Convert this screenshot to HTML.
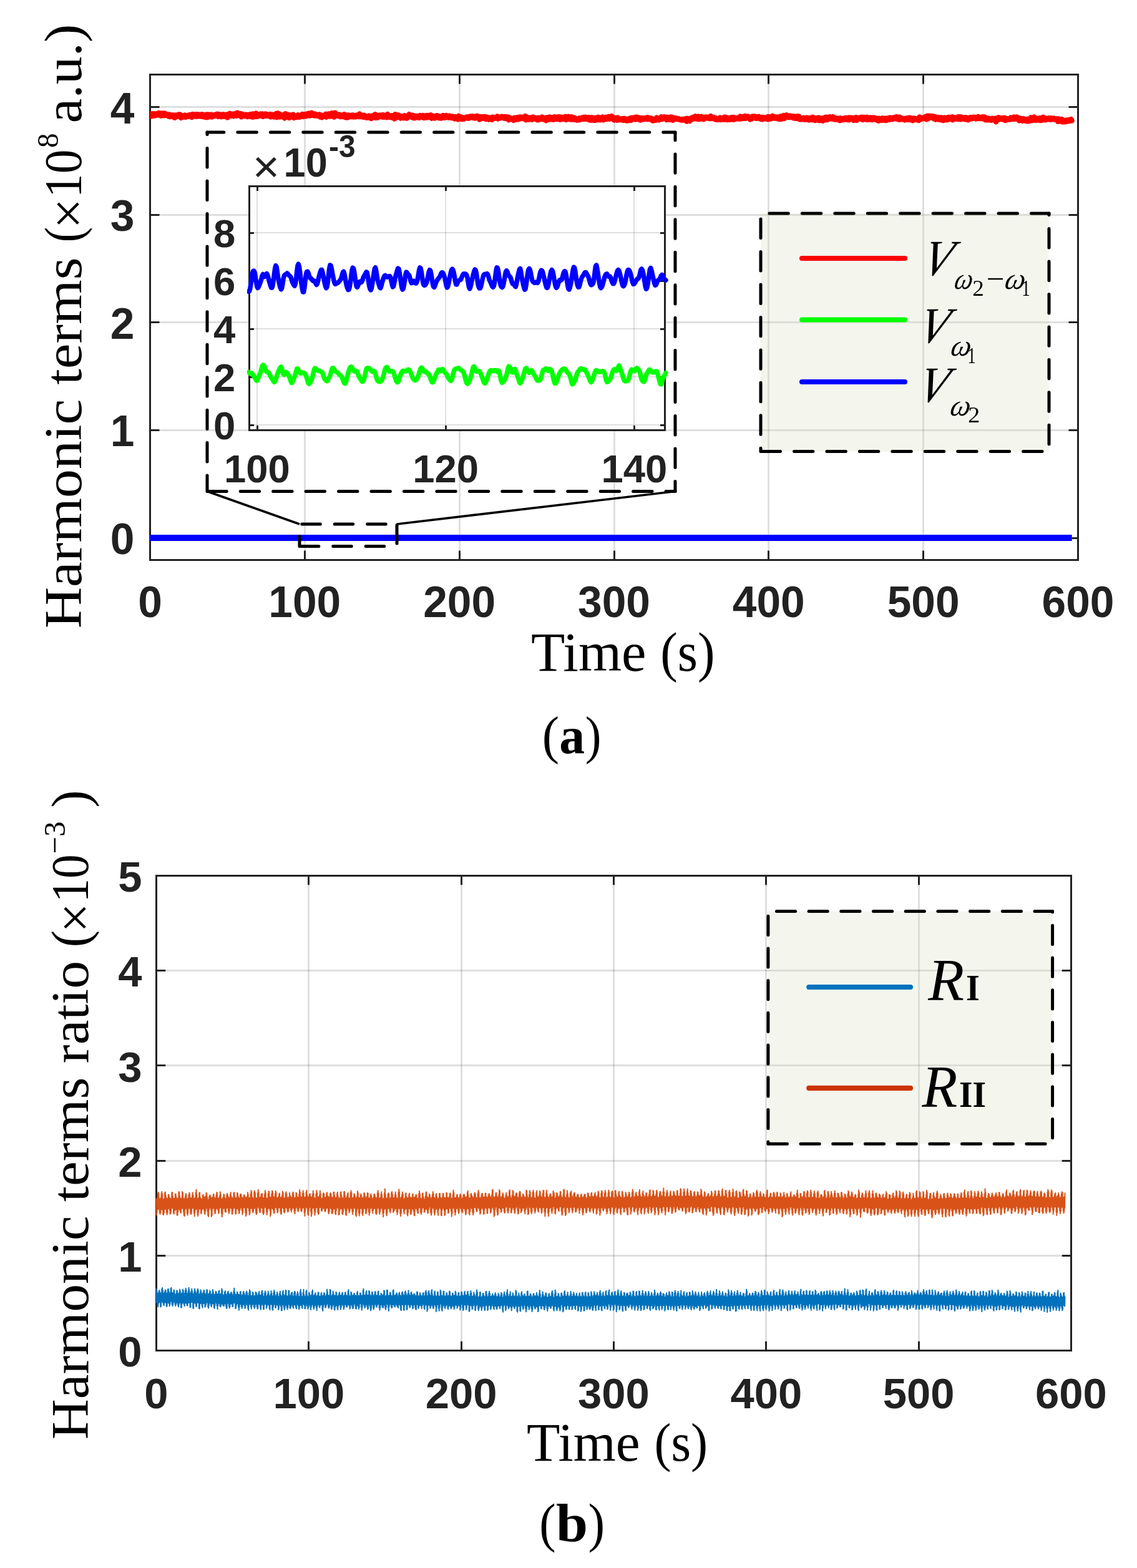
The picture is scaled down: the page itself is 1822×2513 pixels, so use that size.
<!DOCTYPE html><html><head><meta charset="utf-8"><title>Harmonic terms</title><style>html,body{margin:0;padding:0;background:#fff;}svg{display:block;}</style></head><body><svg width="1822" height="2513" viewBox="0 0 1822 2513">
<rect width="1822" height="2513" fill="#fff"/>
<path d="M488.5 119.5V897.5M736.5 119.5V897.5M984.5 119.5V897.5M1231.5 119.5V897.5M1479.5 119.5V897.5" stroke="#262626" stroke-opacity="0.15" stroke-width="3" fill="none"/><path d="M240.5 862.5H1727.5M240.5 689.5H1727.5M240.5 516.5H1727.5M240.5 344.5H1727.5M240.5 171.5H1727.5" stroke="#262626" stroke-opacity="0.15" stroke-width="3" fill="none"/>
<path d="M488.5 897.5v-15M488.5 119.5v15M736.5 897.5v-15M736.5 119.5v15M984.5 897.5v-15M984.5 119.5v15M1231.5 897.5v-15M1231.5 119.5v15M1479.5 897.5v-15M1479.5 119.5v15M240.5 862.5h15M1727.5 862.5h-15M240.5 689.5h15M1727.5 689.5h-15M240.5 516.5h15M1727.5 516.5h-15M240.5 344.5h15M1727.5 344.5h-15M240.5 171.5h15M1727.5 171.5h-15" stroke="#222222" stroke-width="3" fill="none"/>
<rect x="240.5" y="119.5" width="1487.0" height="778.0" fill="none" stroke="#222222" stroke-width="3"/>
<g id="tla" font-family="Liberation Sans, Arial, sans-serif" font-weight="bold" font-size="69.5" fill="#222222"><text x="215.5" y="888.0" text-anchor="end">0</text><text x="215.5" y="715.4" text-anchor="end">1</text><text x="215.5" y="542.8" text-anchor="end">2</text><text x="215.5" y="370.2" text-anchor="end">3</text><text x="215.5" y="197.6" text-anchor="end">4</text><text x="240.5" y="989.1" text-anchor="middle">0</text><text x="488.3" y="989.1" text-anchor="middle">100</text><text x="736.2" y="989.1" text-anchor="middle">200</text><text x="984.0" y="989.1" text-anchor="middle">300</text><text x="1231.8" y="989.1" text-anchor="middle">400</text><text x="1479.7" y="989.1" text-anchor="middle">500</text><text x="1727.5" y="989.1" text-anchor="middle">600</text></g>
<clipPath id="ca"><rect x="240.5" y="119.5" width="1487.0" height="778.0"/></clipPath>
<g clip-path="url(#ca)"><polyline points="240.5,186.5 241.7,182.4 243.0,186.2 244.2,182.2 245.5,185.4 246.7,182.3 247.9,185.6 249.2,182.8 250.4,184.7 251.7,182.1 252.9,184.4 254.1,181.0 255.4,184.0 256.6,181.6 257.8,185.6 259.1,181.5 260.3,185.0 261.6,181.6 262.8,185.2 264.0,181.6 265.3,184.8 266.5,182.8 267.8,185.3 269.0,183.4 270.2,186.5 271.5,183.6 272.7,187.1 274.0,184.3 275.2,186.4 276.4,184.5 277.7,187.5 278.9,184.5 280.2,188.8 281.4,184.5 282.6,186.9 283.9,184.4 285.1,186.4 286.3,183.4 287.6,187.0 288.8,183.6 290.1,188.9 291.3,185.2 292.5,187.3 293.8,185.5 295.0,187.4 296.3,184.6 297.5,187.8 298.7,185.3 300.0,186.6 301.2,185.0 302.5,186.8 303.7,184.0 304.9,186.3 306.2,183.9 307.4,188.0 308.7,183.1 309.9,186.5 311.1,184.1 312.4,185.0 313.6,183.2 314.9,186.8 316.1,183.3 317.3,186.3 318.6,183.4 319.8,186.2 321.0,184.1 322.3,186.6 323.5,183.2 324.8,186.9 326.0,183.8 327.2,187.6 328.5,184.7 329.7,187.9 331.0,183.6 332.2,188.1 333.4,183.6 334.7,187.2 335.9,183.9 337.2,187.0 338.4,183.6 339.6,187.4 340.9,184.7 342.1,186.2 343.4,184.2 344.6,186.0 345.8,183.4 347.1,184.3 348.3,182.7 349.5,186.8 350.8,183.2 352.0,186.0 353.3,183.6 354.5,187.2 355.7,184.6 357.0,185.9 358.2,183.3 359.5,186.8 360.7,184.9 361.9,186.1 363.2,183.5 364.4,188.4 365.7,183.6 366.9,185.6 368.1,181.8 369.4,185.8 370.6,184.4 371.9,185.7 373.1,182.7 374.3,186.3 375.6,184.3 376.8,184.9 378.0,181.5 379.3,185.7 380.5,180.7 381.8,185.0 383.0,182.4 384.2,185.1 385.5,182.1 386.7,187.3 388.0,182.8 389.2,185.6 390.4,184.4 391.7,186.1 392.9,183.7 394.2,186.1 395.4,183.7 396.6,187.1 397.9,184.9 399.1,186.1 400.4,183.2 401.6,187.0 402.8,183.3 404.1,187.4 405.3,182.5 406.5,187.4 407.8,184.1 409.0,185.7 410.3,181.5 411.5,186.8 412.7,183.0 414.0,186.4 415.2,183.7 416.5,185.1 417.7,182.5 418.9,185.7 420.2,182.4 421.4,186.8 422.7,183.4 423.9,185.2 425.1,182.5 426.4,185.8 427.6,183.2 428.9,185.6 430.1,183.8 431.3,186.3 432.6,183.1 433.8,187.4 435.0,183.5 436.3,185.6 437.5,183.7 438.8,187.4 440.0,184.7 441.2,186.1 442.5,182.1 443.7,188.1 445.0,181.5 446.2,186.6 447.4,182.4 448.7,187.5 449.9,184.1 451.2,186.5 452.4,184.2 453.6,187.6 454.9,184.5 456.1,189.4 457.4,182.3 458.6,187.3 459.8,184.2 461.1,188.0 462.3,183.8 463.6,188.9 464.8,184.4 466.0,187.0 467.3,185.2 468.5,187.5 469.7,183.6 471.0,188.9 472.2,187.1 473.5,188.0 474.7,186.2 475.9,187.7 477.2,184.3 478.4,187.7 479.7,185.3 480.9,187.6 482.1,184.4 483.4,185.9 484.6,182.9 485.9,186.9 487.1,184.0 488.3,186.2 489.6,183.0 490.8,186.2 492.1,182.4 493.3,184.9 494.5,181.7 495.8,185.5 497.0,181.8 498.2,185.3 499.5,180.8 500.7,184.8 502.0,182.3 503.2,185.4 504.4,182.5 505.7,185.5 506.9,183.6 508.2,185.5 509.4,183.9 510.6,185.6 511.9,183.4 513.1,187.6 514.4,184.4 515.6,188.2 516.8,184.9 518.1,186.7 519.3,185.1 520.6,186.2 521.8,182.8 523.0,187.7 524.3,183.6 525.5,186.4 526.7,182.4 528.0,186.4 529.2,183.2 530.5,186.4 531.7,181.2 532.9,185.2 534.2,182.9 535.4,187.6 536.7,180.7 537.9,186.2 539.1,182.6 540.4,185.0 541.6,184.6 542.9,186.1 544.1,183.5 545.3,187.1 546.6,185.2 547.8,187.0 549.1,184.5 550.3,186.2 551.5,183.2 552.8,188.1 554.0,184.9 555.2,188.4 556.5,184.4 557.7,188.2 559.0,184.6 560.2,186.4 561.4,185.5 562.7,187.1 563.9,184.6 565.2,187.2 566.4,184.6 567.6,187.4 568.9,185.8 570.1,187.2 571.4,184.6 572.6,186.3 573.8,184.9 575.1,187.1 576.3,182.5 577.6,187.1 578.8,185.4 580.0,187.2 581.3,184.8 582.5,187.7 583.7,184.7 585.0,188.1 586.2,186.0 587.5,188.8 588.7,186.5 589.9,187.8 591.2,185.6 592.4,188.8 593.7,187.0 594.9,190.0 596.1,185.6 597.4,188.7 598.6,186.3 599.9,187.5 601.1,183.2 602.3,188.9 603.6,184.9 604.8,188.6 606.1,185.8 607.3,187.2 608.5,184.4 609.8,187.1 611.0,184.5 612.2,187.5 613.5,184.1 614.7,187.8 616.0,184.8 617.2,187.4 618.4,184.4 619.7,188.3 620.9,183.0 622.2,187.5 623.4,185.1 624.6,187.7 625.9,185.4 627.1,188.3 628.4,185.3 629.6,189.0 630.8,185.4 632.1,190.4 633.3,183.3 634.6,188.8 635.8,185.8 637.0,187.1 638.3,184.3 639.5,187.9 640.8,185.6 642.0,189.4 643.2,186.3 644.5,187.9 645.7,186.5 646.9,189.2 648.2,185.3 649.4,188.9 650.7,186.6 651.9,189.5 653.1,186.0 654.4,187.6 655.6,183.1 656.9,187.0 658.1,184.9 659.3,187.7 660.6,184.7 661.8,188.8 663.1,185.3 664.3,189.2 665.5,186.0 666.8,188.5 668.0,186.0 669.3,188.3 670.5,186.2 671.7,188.9 673.0,185.0 674.2,187.0 675.4,186.0 676.7,187.3 677.9,185.0 679.2,189.1 680.4,185.6 681.6,187.6 682.9,185.2 684.1,188.5 685.4,184.9 686.6,187.7 687.8,185.9 689.1,188.0 690.3,184.2 691.6,189.7 692.8,185.6 694.0,188.1 695.3,186.1 696.5,189.4 697.8,186.1 699.0,188.0 700.2,185.2 701.5,188.5 702.7,186.1 703.9,189.2 705.2,186.8 706.4,189.5 707.7,186.4 708.9,188.7 710.1,185.0 711.4,188.8 712.6,185.9 713.9,188.4 715.1,184.9 716.3,187.6 717.6,186.5 718.8,188.6 720.1,185.6 721.3,188.6 722.5,186.3 723.8,189.1 725.0,186.5 726.3,189.1 727.5,187.1 728.7,190.5 730.0,187.3 731.2,189.3 732.4,188.4 733.7,191.3 734.9,185.8 736.2,189.6 737.4,187.1 738.6,190.7 739.9,187.8 741.1,191.1 742.4,188.4 743.6,190.5 744.8,188.5 746.1,189.6 747.3,187.5 748.6,189.2 749.8,187.4 751.0,189.8 752.3,186.8 753.5,188.5 754.8,186.4 756.0,188.2 757.2,186.2 758.5,189.0 759.7,187.4 761.0,189.4 762.2,186.4 763.4,188.1 764.7,185.8 765.9,189.4 767.1,186.9 768.4,191.5 769.6,187.2 770.9,190.2 772.1,187.8 773.3,189.8 774.6,187.1 775.8,189.6 777.1,187.1 778.3,190.9 779.5,187.6 780.8,190.8 782.0,188.3 783.3,191.5 784.5,188.6 785.7,190.5 787.0,188.7 788.2,191.9 789.5,187.5 790.7,190.2 791.9,188.0 793.2,189.3 794.4,188.5 795.6,189.6 796.9,186.5 798.1,190.5 799.4,187.8 800.6,189.0 801.8,187.6 803.1,189.1 804.3,186.7 805.6,188.2 806.8,187.3 808.0,189.6 809.3,186.9 810.5,190.0 811.8,187.6 813.0,190.6 814.2,187.5 815.5,192.2 816.7,188.6 818.0,191.1 819.2,189.4 820.4,190.9 821.7,189.7 822.9,192.9 824.1,188.8 825.4,192.0 826.6,188.7 827.9,191.0 829.1,188.2 830.3,191.5 831.6,187.7 832.8,190.4 834.1,187.5 835.3,190.2 836.5,188.3 837.8,189.6 839.0,187.5 840.3,190.7 841.5,186.1 842.7,192.3 844.0,187.3 845.2,191.4 846.5,189.1 847.7,191.5 848.9,188.4 850.2,191.3 851.4,188.4 852.6,191.7 853.9,187.4 855.1,190.4 856.4,188.3 857.6,190.4 858.8,189.3 860.1,191.9 861.3,189.0 862.6,192.3 863.8,188.7 865.0,191.2 866.3,189.6 867.5,191.1 868.8,187.4 870.0,191.1 871.2,188.7 872.5,191.8 873.7,189.0 875.0,193.2 876.2,188.4 877.4,191.2 878.7,187.9 879.9,191.7 881.1,187.6 882.4,190.4 883.6,188.2 884.9,191.5 886.1,188.3 887.3,191.8 888.6,187.3 889.8,190.3 891.1,187.9 892.3,191.0 893.5,187.4 894.8,190.8 896.0,187.3 897.3,191.8 898.5,187.4 899.7,190.7 901.0,188.3 902.2,190.9 903.5,187.8 904.7,190.1 905.9,186.8 907.2,192.0 908.4,187.7 909.6,190.9 910.9,186.8 912.1,191.0 913.4,188.9 914.6,191.6 915.8,187.3 917.1,191.5 918.3,188.1 919.6,191.7 920.8,188.8 922.0,191.8 923.3,190.2 924.5,192.6 925.8,190.2 927.0,192.3 928.2,189.3 929.5,191.9 930.7,189.5 932.0,190.0 933.2,188.4 934.4,191.1 935.7,187.8 936.9,190.8 938.2,187.7 939.4,190.3 940.6,189.0 941.9,191.3 943.1,188.1 944.3,192.1 945.6,188.7 946.8,192.7 948.1,188.2 949.3,191.5 950.5,190.1 951.8,192.9 953.0,188.9 954.3,192.8 955.5,190.2 956.7,191.0 958.0,187.8 959.2,191.9 960.5,188.5 961.7,192.2 962.9,189.3 964.2,191.1 965.4,187.6 966.7,192.3 967.9,189.1 969.1,189.9 970.4,187.8 971.6,191.1 972.8,188.0 974.1,190.5 975.3,186.9 976.6,190.7 977.8,187.0 979.0,189.2 980.3,186.1 981.5,189.9 982.8,188.8 984.0,192.6 985.2,188.8 986.5,191.8 987.7,189.0 989.0,192.7 990.2,188.6 991.4,192.3 992.7,190.4 993.9,192.1 995.2,190.7 996.4,192.3 997.6,190.0 998.9,192.9 1000.1,189.8 1001.3,191.9 1002.6,191.1 1003.8,193.5 1005.1,190.7 1006.3,193.3 1007.5,190.4 1008.8,192.7 1010.0,189.2 1011.3,192.8 1012.5,188.7 1013.7,191.5 1015.0,188.7 1016.2,191.0 1017.5,188.1 1018.7,191.6 1019.9,187.5 1021.2,190.5 1022.4,188.2 1023.7,191.5 1024.9,188.7 1026.1,192.4 1027.4,189.5 1028.6,191.4 1029.8,189.1 1031.1,191.2 1032.3,189.2 1033.6,191.0 1034.8,189.3 1036.0,190.9 1037.3,188.2 1038.5,191.3 1039.8,188.8 1041.0,190.3 1042.2,189.2 1043.5,191.9 1044.7,190.0 1046.0,193.5 1047.2,191.5 1048.4,193.3 1049.7,191.1 1050.9,192.6 1052.2,188.5 1053.4,192.0 1054.6,189.4 1055.9,192.4 1057.1,189.3 1058.3,191.1 1059.6,187.2 1060.8,191.1 1062.1,188.3 1063.3,189.6 1064.5,187.2 1065.8,189.9 1067.0,188.1 1068.3,192.1 1069.5,187.8 1070.7,190.5 1072.0,188.6 1073.2,191.8 1074.5,187.4 1075.7,191.1 1076.9,187.8 1078.2,192.8 1079.4,188.9 1080.7,191.4 1081.9,188.9 1083.1,189.7 1084.4,189.7 1085.6,191.3 1086.9,189.9 1088.1,191.3 1089.3,191.4 1090.6,192.4 1091.8,191.1 1093.0,192.4 1094.3,190.9 1095.5,192.5 1096.8,191.1 1098.0,192.7 1099.2,190.1 1100.5,194.6 1101.7,189.8 1103.0,192.5 1104.2,190.7 1105.4,193.9 1106.7,189.5 1107.9,190.3 1109.2,188.4 1110.4,191.0 1111.6,187.6 1112.9,189.9 1114.1,186.3 1115.4,190.6 1116.6,187.9 1117.8,190.7 1119.1,186.5 1120.3,191.1 1121.5,188.7 1122.8,190.5 1124.0,186.8 1125.3,190.6 1126.5,188.4 1127.7,191.2 1129.0,187.9 1130.2,189.4 1131.5,187.4 1132.7,189.2 1133.9,187.8 1135.2,189.7 1136.4,188.1 1137.7,190.2 1138.9,186.0 1140.1,189.9 1141.4,188.0 1142.6,190.0 1143.9,187.9 1145.1,190.9 1146.3,188.9 1147.6,191.8 1148.8,190.4 1150.0,191.9 1151.3,190.0 1152.5,191.6 1153.8,188.4 1155.0,192.0 1156.2,189.9 1157.5,191.1 1158.7,188.7 1160.0,191.7 1161.2,187.6 1162.4,190.8 1163.7,188.0 1164.9,192.1 1166.2,189.2 1167.4,191.8 1168.6,189.2 1169.9,191.7 1171.1,188.4 1172.4,190.5 1173.6,188.1 1174.8,191.8 1176.1,188.0 1177.3,191.3 1178.5,189.4 1179.8,190.6 1181.0,188.9 1182.3,190.3 1183.5,188.7 1184.7,190.7 1186.0,186.6 1187.2,190.5 1188.5,187.3 1189.7,190.1 1190.9,187.6 1192.2,189.8 1193.4,185.9 1194.7,189.7 1195.9,187.0 1197.1,188.4 1198.4,186.5 1199.6,188.8 1200.9,187.8 1202.1,191.4 1203.3,187.4 1204.6,190.6 1205.8,186.6 1207.0,188.7 1208.3,186.3 1209.5,189.0 1210.8,187.1 1212.0,189.9 1213.2,187.2 1214.5,189.6 1215.7,186.7 1217.0,189.1 1218.2,188.1 1219.4,191.0 1220.7,187.9 1221.9,191.3 1223.2,188.2 1224.4,189.7 1225.6,188.5 1226.9,190.5 1228.1,188.5 1229.4,190.9 1230.6,186.9 1231.8,190.9 1233.1,187.8 1234.3,190.7 1235.6,186.9 1236.8,189.9 1238.0,185.8 1239.3,189.0 1240.5,186.9 1241.7,189.6 1243.0,187.5 1244.2,188.7 1245.5,187.5 1246.7,190.5 1247.9,187.4 1249.2,191.0 1250.4,186.4 1251.7,190.9 1252.9,188.2 1254.1,190.0 1255.4,185.1 1256.6,190.1 1257.9,186.9 1259.1,188.2 1260.3,184.2 1261.6,187.9 1262.8,186.0 1264.1,188.1 1265.3,185.4 1266.5,187.9 1267.8,185.9 1269.0,188.1 1270.2,186.3 1271.5,189.2 1272.7,186.5 1274.0,189.7 1275.2,187.1 1276.4,189.8 1277.7,186.3 1278.9,189.0 1280.2,186.4 1281.4,191.3 1282.6,189.0 1283.9,191.4 1285.1,189.4 1286.4,191.0 1287.6,188.7 1288.8,191.7 1290.1,189.5 1291.3,191.6 1292.6,188.6 1293.8,191.6 1295.0,188.9 1296.3,192.5 1297.5,189.2 1298.7,190.4 1300.0,188.4 1301.2,192.0 1302.5,187.7 1303.7,192.1 1304.9,188.7 1306.2,193.0 1307.4,189.4 1308.7,190.9 1309.9,188.8 1311.1,192.8 1312.4,188.6 1313.6,193.2 1314.9,189.5 1316.1,192.8 1317.3,189.5 1318.6,193.7 1319.8,189.2 1321.1,191.7 1322.3,187.9 1323.5,191.9 1324.8,187.8 1326.0,192.0 1327.2,188.2 1328.5,190.4 1329.7,187.2 1331.0,190.3 1332.2,188.3 1333.4,190.6 1334.7,187.2 1335.9,191.1 1337.2,188.6 1338.4,191.7 1339.6,189.5 1340.9,190.7 1342.1,190.0 1343.4,192.2 1344.6,189.6 1345.8,193.3 1347.1,189.2 1348.3,192.6 1349.6,191.1 1350.8,192.0 1352.0,189.7 1353.3,191.7 1354.5,188.9 1355.8,191.1 1357.0,188.9 1358.2,192.0 1359.5,188.5 1360.7,192.2 1361.9,188.6 1363.2,190.6 1364.4,188.8 1365.7,191.4 1366.9,188.9 1368.1,193.0 1369.4,189.1 1370.6,191.8 1371.9,188.1 1373.1,192.7 1374.3,189.0 1375.6,190.3 1376.8,188.9 1378.1,190.6 1379.3,188.0 1380.5,191.2 1381.8,187.7 1383.0,192.0 1384.3,188.0 1385.5,190.4 1386.7,188.3 1388.0,191.5 1389.2,187.8 1390.4,192.0 1391.7,188.9 1392.9,190.5 1394.2,188.6 1395.4,191.8 1396.6,188.6 1397.9,192.1 1399.1,188.5 1400.4,191.3 1401.6,188.7 1402.8,191.3 1404.1,189.4 1405.3,192.5 1406.6,189.9 1407.8,193.7 1409.0,189.7 1410.3,192.8 1411.5,190.8 1412.8,192.7 1414.0,189.2 1415.2,192.5 1416.5,190.2 1417.7,192.7 1418.9,189.4 1420.2,193.1 1421.4,190.0 1422.7,191.1 1423.9,189.2 1425.1,191.9 1426.4,188.4 1427.6,191.3 1428.9,189.0 1430.1,191.2 1431.3,188.5 1432.6,190.2 1433.8,188.0 1435.1,189.9 1436.3,187.2 1437.5,190.6 1438.8,188.4 1440.0,191.5 1441.3,187.6 1442.5,191.6 1443.7,188.8 1445.0,191.1 1446.2,189.8 1447.4,191.6 1448.7,190.2 1449.9,192.5 1451.2,189.7 1452.4,191.1 1453.6,189.3 1454.9,191.8 1456.1,188.8 1457.4,192.0 1458.6,188.7 1459.8,191.6 1461.1,189.5 1462.3,193.2 1463.6,189.6 1464.8,191.6 1466.0,189.8 1467.3,192.1 1468.5,190.9 1469.8,191.4 1471.0,189.8 1472.2,193.1 1473.5,187.4 1474.7,191.1 1475.9,189.3 1477.2,190.7 1478.4,188.9 1479.7,190.3 1480.9,187.9 1482.1,189.2 1483.4,186.9 1484.6,191.2 1485.9,185.7 1487.1,190.5 1488.3,185.7 1489.6,188.8 1490.8,186.1 1492.1,187.9 1493.3,186.0 1494.5,189.1 1495.8,186.4 1497.0,190.6 1498.3,187.0 1499.5,191.7 1500.7,188.8 1502.0,189.9 1503.2,188.3 1504.5,191.6 1505.7,188.5 1506.9,191.9 1508.2,188.3 1509.4,192.4 1510.6,189.4 1511.9,193.1 1513.1,188.6 1514.4,192.2 1515.6,189.1 1516.8,192.2 1518.1,188.5 1519.3,191.8 1520.6,187.7 1521.8,191.1 1523.0,189.2 1524.3,190.3 1525.5,187.3 1526.8,192.2 1528.0,188.0 1529.2,190.3 1530.5,188.6 1531.7,190.5 1533.0,188.9 1534.2,191.0 1535.4,187.2 1536.7,190.7 1537.9,187.2 1539.1,191.3 1540.4,187.6 1541.6,190.7 1542.9,188.5 1544.1,190.0 1545.3,188.4 1546.6,191.4 1547.8,188.2 1549.1,190.9 1550.3,189.1 1551.5,192.3 1552.8,189.5 1554.0,190.7 1555.3,188.0 1556.5,190.6 1557.7,188.7 1559.0,189.9 1560.2,187.7 1561.5,189.4 1562.7,187.9 1563.9,190.4 1565.2,187.8 1566.4,190.1 1567.6,186.9 1568.9,189.7 1570.1,188.1 1571.4,190.0 1572.6,187.8 1573.8,190.2 1575.1,187.3 1576.3,190.1 1577.6,187.4 1578.8,192.2 1580.0,188.8 1581.3,192.2 1582.5,189.6 1583.8,192.2 1585.0,189.8 1586.2,192.2 1587.5,190.4 1588.7,192.7 1590.0,189.7 1591.2,192.1 1592.4,190.4 1593.7,191.4 1594.9,189.8 1596.1,195.3 1597.4,189.4 1598.6,192.4 1599.9,188.2 1601.1,191.6 1602.3,188.9 1603.6,190.2 1604.8,189.5 1606.1,191.3 1607.3,189.0 1608.5,191.6 1609.8,188.8 1611.0,192.9 1612.3,189.6 1613.5,192.2 1614.7,190.7 1616.0,191.4 1617.2,190.0 1618.5,191.5 1619.7,188.4 1620.9,190.9 1622.2,188.8 1623.4,190.7 1624.6,187.5 1625.9,190.9 1627.1,189.0 1628.4,190.8 1629.6,187.4 1630.8,190.1 1632.1,189.2 1633.3,193.3 1634.6,189.7 1635.8,191.6 1637.0,190.0 1638.3,193.7 1639.5,190.1 1640.8,193.0 1642.0,191.6 1643.2,193.7 1644.5,191.0 1645.7,194.3 1647.0,190.8 1648.2,194.3 1649.4,190.8 1650.7,193.7 1651.9,188.3 1653.2,193.0 1654.4,190.7 1655.6,193.0 1656.9,187.5 1658.1,192.2 1659.3,190.3 1660.6,192.9 1661.8,189.6 1663.1,191.8 1664.3,190.1 1665.5,192.7 1666.8,188.9 1668.0,193.0 1669.3,189.5 1670.5,192.4 1671.7,187.7 1673.0,192.1 1674.2,189.6 1675.5,192.3 1676.7,189.8 1677.9,191.4 1679.2,189.7 1680.4,191.1 1681.7,189.3 1682.9,191.7 1684.1,189.2 1685.4,191.5 1686.6,189.7 1687.8,191.0 1689.1,189.5 1690.3,191.8 1691.6,190.5 1692.8,191.2 1694.0,190.3 1695.3,194.8 1696.5,190.4 1697.8,193.6 1699.0,191.4 1700.2,194.6 1701.5,191.0 1702.7,195.4 1704.0,192.7 1705.2,195.2 1706.4,193.4 1707.7,195.2 1708.9,192.6 1710.2,194.3 1711.4,192.4 1712.6,194.2 1713.9,191.9 1715.1,193.5 1716.3,191.0 1717.6,193.5" fill="none" stroke="#ff0000" stroke-width="8.5" stroke-linejoin="round" stroke-linecap="round"/></g>
<line x1="239.8" y1="862.0" x2="1717.6" y2="862.0" stroke="#00ff00" stroke-width="9"/>
<line x1="239.8" y1="862.0" x2="1717.6" y2="862.0" stroke="#0000ff" stroke-width="10.2"/>
<rect x="399.5" y="298.5" width="666.0" height="391.0" fill="#fff"/>
<path d="M412.0 298.5V689.5M714.0 298.5V689.5M1016.0 298.5V689.5" stroke="#262626" stroke-opacity="0.15" stroke-width="2" fill="none"/><path d="M399.5 681.0H1065.5M399.5 604.0H1065.5M399.5 527.0H1065.5M399.5 450.0H1065.5M399.5 373.0H1065.5" stroke="#262626" stroke-opacity="0.15" stroke-width="2" fill="none"/>
<path d="M412.5 689.5v-7.5M412.5 298.5v7.5M714.5 689.5v-7.5M714.5 298.5v7.5M1016.5 689.5v-7.5M1016.5 298.5v7.5M399.5 681.5h7.5M1065.5 681.5h-7.5M399.5 604.5h7.5M1065.5 604.5h-7.5M399.5 527.5h7.5M1065.5 527.5h-7.5M399.5 450.5h7.5M1065.5 450.5h-7.5M399.5 373.5h7.5M1065.5 373.5h-7.5" stroke="#222222" stroke-width="3" fill="none"/>
<rect x="399.5" y="298.5" width="666.0" height="391.0" fill="none" stroke="#222222" stroke-width="3"/>
<clipPath id="ci"><rect x="396" y="295" width="675" height="398"/></clipPath>
<g clip-path="url(#ci)"><polyline points="398.4,467.3 399.6,466.7 400.8,462.6 402.0,455.1 403.2,446.0 404.4,438.4 405.7,434.5 406.9,434.0 408.1,436.5 409.3,442.9 410.5,451.5 411.7,458.8 412.9,461.6 414.1,460.4 415.3,457.5 416.5,454.5 417.7,451.3 419.0,446.5 420.2,441.6 421.4,439.5 422.6,441.4 423.8,443.5 425.0,442.5 426.2,439.8 427.4,438.5 428.6,440.4 429.8,444.4 431.0,449.0 432.2,453.7 433.5,458.0 434.7,461.1 435.9,461.2 437.1,457.1 438.3,448.8 439.5,438.6 440.7,429.9 441.9,425.6 443.1,427.8 444.3,435.1 445.5,443.9 446.8,451.3 448.0,456.7 449.2,461.2 450.4,463.8 451.6,462.0 452.8,455.5 454.0,447.2 455.2,442.1 456.4,440.5 457.6,440.0 458.8,439.0 460.0,437.9 461.3,438.8 462.5,440.7 463.7,441.9 464.9,442.5 466.1,444.4 467.3,448.3 468.5,452.2 469.7,454.5 470.9,457.0 472.1,458.3 473.3,455.1 474.6,446.3 475.8,434.6 477.0,425.7 478.2,423.1 479.4,427.0 480.6,435.2 481.8,444.9 483.0,454.2 484.2,462.5 485.4,468.0 486.6,468.1 487.9,461.4 489.1,450.1 490.3,440.5 491.5,435.7 492.7,435.1 493.9,437.0 495.1,440.7 496.3,444.7 497.5,446.1 498.7,446.3 499.9,447.8 501.1,450.0 502.4,450.7 503.6,450.1 504.8,451.2 506.0,454.4 507.2,456.5 508.4,455.0 509.6,450.1 510.8,444.8 512.0,440.2 513.2,435.9 514.4,432.7 515.7,432.4 516.9,436.3 518.1,442.1 519.3,448.6 520.5,454.7 521.7,459.3 522.9,461.7 524.1,459.6 525.3,451.9 526.5,440.8 527.7,430.4 529.0,424.8 530.2,425.6 531.4,430.8 532.6,437.6 533.8,443.9 535.0,449.6 536.2,453.8 537.4,455.3 538.6,454.7 539.8,454.0 541.0,453.5 542.2,452.5 543.5,451.0 544.7,449.3 545.9,447.9 547.1,445.0 548.3,440.4 549.5,436.3 550.7,435.2 551.9,438.9 553.1,445.5 554.3,452.3 555.5,458.0 556.8,462.1 558.0,464.5 559.2,464.0 560.4,459.5 561.6,452.0 562.8,442.3 564.0,433.3 565.2,429.2 566.4,429.9 567.6,434.9 568.8,443.5 570.1,453.0 571.3,459.4 572.5,460.3 573.7,457.8 574.9,454.3 576.1,451.5 577.3,451.3 578.5,452.6 579.7,451.9 580.9,448.9 582.1,444.9 583.3,442.4 584.6,440.7 585.8,438.2 587.0,435.9 588.2,436.7 589.4,442.9 590.6,451.5 591.8,458.8 593.0,463.4 594.2,464.8 595.4,462.0 596.6,454.8 597.9,445.9 599.1,437.6 600.3,430.9 601.5,428.8 602.7,433.3 603.9,441.5 605.1,448.5 606.3,453.0 607.5,457.2 608.7,461.0 609.9,461.6 611.1,458.1 612.4,452.7 613.6,448.2 614.8,444.8 616.0,442.2 617.2,441.4 618.4,442.7 619.6,444.1 620.8,444.2 622.0,443.3 623.2,442.8 624.4,442.6 625.7,444.2 626.9,448.9 628.1,455.3 629.3,459.8 630.5,459.1 631.7,454.0 632.9,447.1 634.1,441.9 635.3,437.9 636.5,433.5 637.7,430.1 639.0,430.8 640.2,436.8 641.4,444.9 642.6,453.3 643.8,460.6 645.0,464.0 646.2,462.8 647.4,457.2 648.6,448.7 649.8,440.3 651.0,436.0 652.2,437.0 653.5,439.1 654.7,440.1 655.9,441.9 657.1,446.1 658.3,451.0 659.5,453.7 660.7,453.3 661.9,451.3 663.1,450.3 664.3,451.8 665.5,453.9 666.8,454.1 668.0,452.1 669.2,447.4 670.4,440.3 671.6,432.9 672.8,428.9 674.0,429.8 675.2,435.0 676.4,443.2 677.6,451.5 678.8,456.4 680.1,457.5 681.3,456.9 682.5,455.4 683.7,452.5 684.9,447.6 686.1,441.2 687.3,435.5 688.5,432.6 689.7,433.6 690.9,438.8 692.1,446.6 693.3,454.2 694.6,459.3 695.8,460.3 697.0,457.9 698.2,454.3 699.4,451.2 700.6,448.9 701.8,447.1 703.0,445.9 704.2,444.5 705.4,442.1 706.6,438.8 707.9,436.7 709.1,436.7 710.3,438.4 711.5,441.2 712.7,445.0 713.9,450.8 715.1,457.3 716.3,460.9 717.5,459.9 718.7,455.2 719.9,448.9 721.2,442.6 722.4,436.8 723.6,432.5 724.8,431.1 726.0,432.8 727.2,436.9 728.4,443.3 729.6,450.8 730.8,455.8 732.0,456.0 733.2,453.2 734.4,450.6 735.7,449.3 736.9,448.7 738.1,448.2 739.3,446.2 740.5,443.0 741.7,440.4 742.9,438.8 744.1,438.8 745.3,438.9 746.5,439.2 747.7,440.5 749.0,444.9 750.2,452.7 751.4,460.0 752.6,462.9 753.8,460.2 755.0,454.9 756.2,449.3 757.4,444.2 758.6,439.1 759.8,434.6 761.0,432.0 762.2,433.0 763.5,438.4 764.7,447.1 765.9,455.2 767.1,459.9 768.3,462.1 769.5,462.1 770.7,459.3 771.9,453.9 773.1,447.6 774.3,442.9 775.5,440.1 776.8,439.3 778.0,439.8 779.2,439.2 780.4,438.5 781.6,439.8 782.8,443.4 784.0,447.9 785.2,450.7 786.4,453.2 787.6,456.2 788.8,459.0 790.1,460.2 791.3,458.6 792.5,453.3 793.7,443.8 794.9,433.9 796.1,428.7 797.3,429.4 798.5,434.6 799.7,442.9 800.9,451.2 802.1,456.7 803.3,459.6 804.6,460.6 805.8,459.4 807.0,454.7 808.2,447.8 809.4,440.8 810.6,435.4 811.8,433.7 813.0,435.7 814.2,439.1 815.4,441.8 816.6,443.1 817.9,444.2 819.1,447.5 820.3,452.3 821.5,454.9 822.7,454.7 823.9,455.4 825.1,458.5 826.3,459.6 827.5,455.4 828.7,448.5 829.9,442.1 831.2,436.3 832.4,431.4 833.6,430.4 834.8,435.3 836.0,443.3 837.2,450.2 838.4,455.5 839.6,460.3 840.8,464.1 842.0,463.1 843.2,456.2 844.4,446.5 845.7,437.6 846.9,432.1 848.1,430.4 849.3,432.4 850.5,437.4 851.7,444.2 852.9,449.5 854.1,451.6 855.3,452.5 856.5,453.3 857.7,453.2 859.0,452.1 860.2,452.1 861.4,453.3 862.6,451.5 863.8,446.1 865.0,439.7 866.2,435.2 867.4,433.2 868.6,433.8 869.8,436.6 871.0,441.5 872.3,447.2 873.5,452.5 874.7,457.5 875.9,461.1 877.1,461.4 878.3,458.2 879.5,452.2 880.7,445.6 881.9,439.3 883.1,434.3 884.3,432.5 885.5,434.4 886.8,439.8 888.0,447.0 889.2,453.9 890.4,459.2 891.6,461.2 892.8,459.9 894.0,456.5 895.2,452.4 896.4,449.3 897.6,448.6 898.8,449.3 900.1,448.3 901.3,444.5 902.5,439.8 903.7,436.2 904.9,434.6 906.1,435.9 907.3,441.1 908.5,449.4 909.7,457.7 910.9,463.0 912.1,463.9 913.3,461.0 914.6,455.5 915.8,448.2 917.0,439.8 918.2,432.3 919.4,428.2 920.6,429.1 921.8,435.0 923.0,443.7 924.2,451.7 925.4,457.1 926.6,460.2 927.9,460.2 929.1,456.3 930.3,451.0 931.5,446.7 932.7,444.1 933.9,442.4 935.1,440.6 936.3,438.3 937.5,436.4 938.7,436.5 939.9,438.5 941.2,440.6 942.4,442.5 943.6,445.7 944.8,450.3 946.0,454.6 947.2,456.7 948.4,456.5 949.6,455.4 950.8,453.0 952.0,446.1 953.2,435.5 954.4,426.5 955.7,424.9 956.9,430.1 958.1,437.9 959.3,446.0 960.5,453.7 961.7,459.7 962.9,461.6 964.1,460.4 965.3,457.7 966.5,453.5 967.7,448.4 969.0,443.6 970.2,440.7 971.4,439.1 972.6,438.8 973.8,441.0 975.0,443.1 976.2,443.3 977.4,443.0 978.6,444.8 979.8,448.8 981.0,452.6 982.3,454.7 983.5,454.6 984.7,451.7 985.9,447.1 987.1,442.2 988.3,437.5 989.5,433.9 990.7,432.4 991.9,433.9 993.1,437.8 994.3,442.5 995.5,448.1 996.8,454.2 998.0,458.0 999.2,458.7 1000.4,457.0 1001.6,453.8 1002.8,448.0 1004.0,440.8 1005.2,435.2 1006.4,432.6 1007.6,432.5 1008.8,434.2 1010.1,437.3 1011.3,442.0 1012.5,447.6 1013.7,452.8 1014.9,455.4 1016.1,455.1 1017.3,453.6 1018.5,451.6 1019.7,449.3 1020.9,447.2 1022.1,446.6 1023.4,445.7 1024.6,442.4 1025.8,437.0 1027.0,432.3 1028.2,431.1 1029.4,432.9 1030.6,437.0 1031.8,443.4 1033.0,451.4 1034.2,459.3 1035.4,463.2 1036.6,461.9 1037.9,456.2 1039.1,448.0 1040.3,438.8 1041.5,431.4 1042.7,429.5 1043.9,432.9 1045.1,438.5 1046.3,443.7 1047.5,449.0 1048.7,454.1 1049.9,457.2 1051.2,456.7 1052.4,453.6 1053.6,450.4 1054.8,448.9 1056.0,448.6 1057.2,446.9 1058.4,444.3 1059.6,441.6 1060.8,440.4 1062.0,441.9 1063.2,444.6 1064.4,447.0 1065.7,448.0 1066.9,449.1" fill="none" stroke="#0000ff" stroke-width="7.5" stroke-linejoin="round" stroke-linecap="round"/><polyline points="398.4,596.4 399.6,597.6 400.8,598.6 402.0,598.5 403.2,597.9 404.4,598.9 405.7,601.5 406.9,603.3 408.1,604.7 409.3,607.1 410.5,609.5 411.7,610.1 412.9,608.1 414.1,604.9 415.3,602.3 416.5,600.0 417.7,596.4 419.0,591.1 420.2,586.7 421.4,585.0 422.6,585.5 423.8,587.6 425.0,590.5 426.2,593.8 427.4,595.9 428.6,596.6 429.8,596.7 431.0,597.6 432.2,600.2 433.5,603.3 434.7,605.5 435.9,606.9 437.1,608.7 438.3,611.1 439.5,612.4 440.7,611.3 441.9,608.3 443.1,604.2 444.3,600.1 445.5,596.7 446.8,594.0 448.0,591.4 449.2,588.8 450.4,587.9 451.6,590.6 452.8,595.4 454.0,599.5 455.2,600.6 456.4,598.9 457.6,597.0 458.8,596.6 460.0,597.7 461.3,599.3 462.5,601.3 463.7,603.9 464.9,607.5 466.1,611.5 467.3,613.6 468.5,612.6 469.7,609.5 470.9,606.5 472.1,603.7 473.3,599.6 474.6,594.6 475.8,591.0 477.0,590.7 478.2,593.1 479.4,595.7 480.6,597.5 481.8,598.4 483.0,598.0 484.2,597.2 485.4,597.3 486.6,598.0 487.9,598.6 489.1,599.2 490.3,601.5 491.5,605.4 492.7,609.8 493.9,613.7 495.1,615.2 496.3,614.2 497.5,612.5 498.7,610.5 499.9,607.4 501.1,602.5 502.4,596.7 503.6,592.1 504.8,590.1 506.0,590.6 507.2,591.9 508.4,593.1 509.6,594.1 510.8,594.6 512.0,594.5 513.2,594.7 514.4,595.5 515.7,596.6 516.9,598.2 518.1,601.3 519.3,605.1 520.5,607.6 521.7,608.9 522.9,610.2 524.1,610.8 525.3,609.6 526.5,607.1 527.7,604.6 529.0,601.9 530.2,597.8 531.4,593.0 532.6,590.1 533.8,589.7 535.0,591.2 536.2,593.4 537.4,595.2 538.6,596.0 539.8,596.3 541.0,597.1 542.2,598.4 543.5,599.9 544.7,601.0 545.9,601.8 547.1,602.9 548.3,605.2 549.5,608.6 550.7,611.9 551.9,614.2 553.1,614.6 554.3,612.4 555.5,607.9 556.8,602.6 558.0,597.8 559.2,593.6 560.4,590.3 561.6,588.2 562.8,587.8 564.0,589.0 565.2,591.1 566.4,593.3 567.6,594.8 568.8,595.3 570.1,594.8 571.3,594.6 572.5,596.3 573.7,599.7 574.9,603.1 576.1,605.2 577.3,606.8 578.5,608.9 579.7,611.0 580.9,611.7 582.1,610.7 583.3,607.6 584.6,602.6 585.8,596.5 587.0,591.7 588.2,589.9 589.4,589.8 590.6,590.0 591.8,590.2 593.0,591.1 594.2,592.9 595.4,594.7 596.6,595.8 597.9,595.6 599.1,594.8 600.3,595.3 601.5,598.4 602.7,603.1 603.9,607.5 605.1,610.1 606.3,611.2 607.5,611.6 608.7,611.8 609.9,611.6 611.1,610.3 612.4,608.2 613.6,605.3 614.8,600.7 616.0,595.5 617.2,591.5 618.4,589.1 619.6,588.3 620.8,588.9 622.0,591.4 623.2,594.2 624.4,595.5 625.7,595.5 626.9,595.1 628.1,594.7 629.3,595.1 630.5,596.8 631.7,600.0 632.9,604.1 634.1,608.0 635.3,611.2 636.5,612.7 637.7,612.4 639.0,609.9 640.2,605.9 641.4,602.0 642.6,598.6 643.8,596.3 645.0,594.7 646.2,594.1 647.4,594.6 648.6,595.1 649.8,595.1 651.0,594.4 652.2,593.2 653.5,592.4 654.7,592.2 655.9,593.2 657.1,595.1 658.3,597.5 659.5,600.7 660.7,604.0 661.9,606.6 663.1,608.2 664.3,609.3 665.5,609.7 666.8,609.0 668.0,607.4 669.2,605.2 670.4,602.0 671.6,597.9 672.8,594.0 674.0,590.6 675.2,589.1 676.4,589.9 677.6,592.4 678.8,594.9 680.1,595.7 681.3,595.3 682.5,595.3 683.7,596.7 684.9,598.6 686.1,599.5 687.3,599.9 688.5,601.8 689.7,605.6 690.9,609.6 692.1,612.3 693.3,612.8 694.6,611.1 695.8,608.1 697.0,604.6 698.2,601.3 699.4,598.7 700.6,596.4 701.8,593.9 703.0,592.2 704.2,592.6 705.4,594.4 706.6,594.9 707.9,593.3 709.1,591.6 710.3,592.0 711.5,594.5 712.7,597.0 713.9,598.2 715.1,598.9 716.3,600.9 717.5,604.1 718.7,606.3 719.9,607.7 721.2,609.4 722.4,610.4 723.6,609.1 724.8,605.2 726.0,600.0 727.2,595.3 728.4,592.3 729.6,591.2 730.8,591.1 732.0,590.7 733.2,590.2 734.4,589.8 735.7,590.1 736.9,591.3 738.1,592.5 739.3,593.7 740.5,594.3 741.7,595.0 742.9,596.9 744.1,600.6 745.3,605.4 746.5,610.0 747.7,613.6 749.0,615.0 750.2,614.2 751.4,612.1 752.6,609.6 753.8,606.4 755.0,602.4 756.2,597.4 757.4,591.8 758.6,587.8 759.8,587.6 761.0,590.5 762.2,593.7 763.5,595.3 764.7,595.3 765.9,594.7 767.1,594.5 768.3,595.1 769.5,597.0 770.7,599.5 771.9,602.4 773.1,605.8 774.3,609.6 775.5,612.9 776.8,614.4 778.0,613.5 779.2,610.9 780.4,607.3 781.6,603.7 782.8,600.0 784.0,596.7 785.2,594.5 786.4,593.5 787.6,593.5 788.8,594.0 790.1,594.6 791.3,594.7 792.5,593.7 793.7,593.5 794.9,594.7 796.1,595.7 797.3,595.0 798.5,593.8 799.7,594.8 800.9,599.3 802.1,605.6 803.3,611.0 804.6,613.2 805.8,612.5 807.0,611.3 808.2,609.8 809.4,607.5 810.6,604.3 811.8,600.3 813.0,594.9 814.2,589.6 815.4,587.1 816.6,587.6 817.9,590.0 819.1,593.3 820.3,596.3 821.5,596.8 822.7,594.8 823.9,592.2 825.1,591.5 826.3,593.8 827.5,598.0 828.7,601.7 829.9,604.7 831.2,608.5 832.4,612.7 833.6,614.2 834.8,612.6 836.0,609.8 837.2,607.0 838.4,603.2 839.6,598.4 840.8,593.9 842.0,590.8 843.2,589.9 844.4,591.1 845.7,593.7 846.9,596.6 848.1,597.6 849.3,596.2 850.5,594.1 851.7,593.5 852.9,594.9 854.1,597.4 855.3,599.6 856.5,601.3 857.7,603.2 859.0,606.2 860.2,608.8 861.4,609.9 862.6,609.8 863.8,609.7 865.0,609.6 866.2,608.0 867.4,604.0 868.6,598.7 869.8,594.4 871.0,592.8 872.3,592.5 873.5,591.6 874.7,590.6 875.9,591.2 877.1,593.1 878.3,594.0 879.5,592.8 880.7,591.6 881.9,591.8 883.1,593.0 884.3,595.3 885.5,600.0 886.8,606.4 888.0,611.8 889.2,614.6 890.4,614.5 891.6,612.7 892.8,609.6 894.0,605.6 895.2,601.8 896.4,598.7 897.6,596.5 898.8,594.7 900.1,593.0 901.3,592.0 902.5,591.3 903.7,590.9 904.9,591.0 906.1,591.8 907.3,593.8 908.5,596.1 909.7,597.5 910.9,598.4 912.1,599.5 913.3,602.1 914.6,606.9 915.8,612.3 917.0,615.8 918.2,615.5 919.4,613.4 920.6,611.3 921.8,608.9 923.0,604.9 924.2,600.0 925.4,596.8 926.6,595.3 927.9,593.9 929.1,592.2 930.3,590.8 931.5,590.6 932.7,591.5 933.9,592.3 935.1,592.4 936.3,592.1 937.5,592.5 938.7,594.4 939.9,597.0 941.2,599.5 942.4,602.2 943.6,605.0 944.8,608.0 946.0,611.1 947.2,612.4 948.4,610.9 949.6,607.9 950.8,604.8 952.0,601.3 953.2,597.1 954.4,594.1 955.7,593.3 956.9,593.9 958.1,594.9 959.3,595.7 960.5,595.9 961.7,595.7 962.9,595.7 964.1,595.4 965.3,594.9 966.5,594.7 967.7,595.5 969.0,598.6 970.2,603.8 971.4,609.3 972.6,612.3 973.8,612.1 975.0,610.8 976.2,609.7 977.4,608.4 978.6,605.9 979.8,602.1 981.0,598.2 982.3,594.6 983.5,592.4 984.7,591.7 985.9,592.4 987.1,593.8 988.3,594.2 989.5,592.1 990.7,588.1 991.9,586.0 993.1,587.9 994.3,591.9 995.5,595.4 996.8,598.9 998.0,603.1 999.2,607.2 1000.4,610.0 1001.6,610.9 1002.8,610.8 1004.0,610.5 1005.2,610.4 1006.4,609.7 1007.6,606.9 1008.8,602.2 1010.1,597.1 1011.3,593.3 1012.5,592.1 1013.7,592.6 1014.9,593.6 1016.1,594.8 1017.3,594.6 1018.5,592.6 1019.7,590.2 1020.9,589.9 1022.1,591.5 1023.4,592.7 1024.6,594.0 1025.8,597.9 1027.0,603.8 1028.2,608.3 1029.4,610.3 1030.6,611.3 1031.8,611.8 1033.0,610.1 1034.2,605.9 1035.4,601.3 1036.6,598.4 1037.9,596.6 1039.1,594.4 1040.3,592.6 1041.5,592.5 1042.7,593.9 1043.9,595.5 1045.1,596.4 1046.3,596.9 1047.5,596.8 1048.7,596.3 1049.9,595.6 1051.2,594.9 1052.4,595.2 1053.6,598.0 1054.8,602.6 1056.0,607.6 1057.2,612.3 1058.4,615.6 1059.6,615.8 1060.8,612.2 1062.0,607.4 1063.2,604.3 1064.4,602.5 1065.7,600.4 1066.9,597.6" fill="none" stroke="#00ff00" stroke-width="7.5" stroke-linejoin="round" stroke-linecap="round"/></g>
<g id="tli" font-family="Liberation Sans, Arial, sans-serif" font-weight="bold" font-size="63.4" fill="#222222"><text x="377.3" y="704.4" text-anchor="end">0</text><text x="377.3" y="627.4" text-anchor="end">2</text><text x="377.3" y="550.4" text-anchor="end">4</text><text x="377.3" y="473.4" text-anchor="end">6</text><text x="377.3" y="396.4" text-anchor="end">8</text><text x="412.0" y="772.8" text-anchor="middle">100</text><text x="714.2" y="772.8" text-anchor="middle">120</text><text x="1016.4" y="772.8" text-anchor="middle">140</text></g>
<text id="xa" transform="translate(404.81 291.90) scale(1.0300 1)" font-family="Liberation Sans, Arial, sans-serif" font-size="72" fill="#222222">×</text>
<text id="xb" transform="translate(454.61 283.40) scale(0.9660 1)" font-family="Liberation Sans, Arial, sans-serif" font-weight="bold" font-size="65.2" fill="#222222">10</text>
<text id="xc" transform="translate(527.09 251.80) scale(0.9628 1)" font-family="Liberation Sans, Arial, sans-serif" font-weight="bold" font-size="49.7" fill="#222222">-3</text>
<line x1="332" y1="787.5" x2="332" y2="212" stroke="#000" stroke-width="5" stroke-dasharray="30.40 22.05" stroke-dashoffset="4.95" stroke-linecap="round"/><line x1="332" y1="212" x2="1082" y2="212" stroke="#000" stroke-width="5" stroke-dasharray="30.40 22.05" stroke-dashoffset="3.55" stroke-linecap="round"/><line x1="1082" y1="212" x2="1082" y2="787.5" stroke="#000" stroke-width="5" stroke-dasharray="30.40 22.05" stroke-dashoffset="17.55" stroke-linecap="round"/><line x1="332" y1="787.5" x2="1082" y2="787.5" stroke="#000" stroke-width="5" stroke-dasharray="30.40 22.05" stroke-dashoffset="51.70" stroke-linecap="round"/>
<line x1="480" y1="875.6" x2="480" y2="840" stroke="#000" stroke-width="5" stroke-dasharray="29.50 22.95" stroke-dashoffset="13.40" stroke-linecap="round"/><line x1="480" y1="840" x2="636" y2="840" stroke="#000" stroke-width="5" stroke-dasharray="29.50 22.95" stroke-dashoffset="48.65" stroke-linecap="round"/><line x1="636" y1="840" x2="636" y2="875.6" stroke="#000" stroke-width="5" stroke-dasharray="29.50 22.95" stroke-dashoffset="50.95" stroke-linecap="round"/><line x1="480" y1="875.6" x2="636" y2="875.6" stroke="#000" stroke-width="5" stroke-dasharray="29.50 22.95" stroke-dashoffset="51.15" stroke-linecap="round"/>
<path d="M332 787.5L480 840M1082 787.5L636 840" stroke="#000" stroke-width="3.6" fill="none"/>
<rect x="1219" y="342" width="462" height="381.5" fill="#d3dbbb" fill-opacity="0.25"/>
<line x1="1219" y1="723.5" x2="1219" y2="342" stroke="#000" stroke-width="5" stroke-dasharray="30.40 22.05" stroke-dashoffset="25.15" stroke-linecap="round"/><line x1="1219" y1="342" x2="1681" y2="342" stroke="#000" stroke-width="5" stroke-dasharray="30.40 22.05" stroke-dashoffset="38.55" stroke-linecap="round"/><line x1="1681" y1="342" x2="1681" y2="723.5" stroke="#000" stroke-width="5" stroke-dasharray="30.40 22.05" stroke-dashoffset="27.85" stroke-linecap="round"/><line x1="1219" y1="723.5" x2="1681" y2="723.5" stroke="#000" stroke-width="5" stroke-dasharray="30.40 22.05" stroke-dashoffset="51.40" stroke-linecap="round"/>
<line x1="1285" y1="413.9" x2="1450" y2="413.9" stroke="#ff0000" stroke-width="8" stroke-linecap="round"/>
<line x1="1285" y1="512.5" x2="1450" y2="512.5" stroke="#00ff00" stroke-width="8" stroke-linecap="round"/>
<line x1="1285" y1="612" x2="1450" y2="612" stroke="#0000ff" stroke-width="8" stroke-linecap="round"/>
<g id="lega">
<text transform="translate(1474.80 440.80) skewX(-14) scale(0.9073 1)" font-family="Liberation Serif, Times New Roman, serif" font-style="italic" font-size="81.5" fill="#000">V</text>
<text transform="translate(1527.46 463.20) skewX(-12) scale(0.8554 1)" font-family="Liberation Serif, Times New Roman, serif" font-style="italic" font-size="48.1" fill="#000">ω</text>
<text transform="translate(1558.32 474.00) scale(1.0704 1)" font-family="Liberation Serif, Times New Roman, serif" font-size="34.8" fill="#000">2</text>
<text transform="translate(1580.54 463.20) scale(1.0641 1)" font-family="Liberation Serif, Times New Roman, serif" font-size="48.1" fill="#000">−</text>
<text transform="translate(1608.17 463.20) skewX(-12) scale(0.9560 1)" font-family="Liberation Serif, Times New Roman, serif" font-style="italic" font-size="48.1" fill="#000">ω</text>
<text transform="translate(1637.28 474.00) scale(0.7718 1)" font-family="Liberation Serif, Times New Roman, serif" font-size="34.8" fill="#000">1</text>
<text transform="translate(1468.59 548.70) skewX(-14) scale(0.9092 1)" font-family="Liberation Serif, Times New Roman, serif" font-style="italic" font-size="81.5" fill="#000">V</text>
<text transform="translate(1521.69 570.20) skewX(-12) scale(0.9459 1)" font-family="Liberation Serif, Times New Roman, serif" font-style="italic" font-size="48.1" fill="#000">ω</text>
<text transform="translate(1550.53 582.30) scale(0.7553 1)" font-family="Liberation Serif, Times New Roman, serif" font-size="34.8" fill="#000">1</text>
<text transform="translate(1467.69 643.60) skewX(-14) scale(0.9092 1)" font-family="Liberation Serif, Times New Roman, serif" font-style="italic" font-size="81.5" fill="#000">V</text>
<text transform="translate(1520.79 665.60) skewX(-12) scale(0.9459 1)" font-family="Liberation Serif, Times New Roman, serif" font-style="italic" font-size="48.1" fill="#000">ω</text>
<text transform="translate(1551.19 676.80) scale(1.0920 1)" font-family="Liberation Serif, Times New Roman, serif" font-size="34.8" fill="#000">2</text>
</g>
<g id="xla"><text transform="translate(851.02 1075.20) scale(1.0046 1)" font-family="Liberation Serif, Times New Roman, serif" font-size="88.5" fill="#000">Time</text><text transform="translate(1058.27 1075.20) scale(0.9356 1)" font-family="Liberation Serif, Times New Roman, serif" font-size="88.5" fill="#000">(s)</text></g>
<g id="pa"><text transform="translate(868.81 1207.00) scale(0.9688 1)" font-family="Liberation Serif, Times New Roman, serif" font-size="84.6" fill="#000">(</text><text transform="translate(896.35 1207.00) scale(0.9664 1)" font-family="Liberation Serif, Times New Roman, serif" font-weight="bold" font-size="84.6" fill="#000">a</text><text transform="translate(937.68 1207.00) scale(0.9138 1)" font-family="Liberation Serif, Times New Roman, serif" font-size="84.6" fill="#000">)</text></g>
<g id="yla" transform="translate(130 1004.6) rotate(-90)"><text transform="translate(-2.76 0.00) scale(1.0817 1)" font-family="Liberation Serif, Times New Roman, serif" font-size="85" fill="#000">Harmonic terms</text><text transform="translate(616.30 0.00) scale(0.8627 1)" font-family="Liberation Serif, Times New Roman, serif" font-size="85" fill="#000">(</text><text transform="translate(637.93 7.53) scale(0.8716 0.8716)" font-family="Liberation Serif, Times New Roman, serif" font-size="100" fill="#000">×</text><text transform="translate(687.65 0.00) scale(0.9087 1)" font-family="Liberation Serif, Times New Roman, serif" font-size="85" fill="#000">10</text><text transform="translate(767.71 -37.00) scale(0.9641 1)" font-family="Liberation Serif, Times New Roman, serif" font-size="48.9" fill="#000">8</text><text transform="translate(807.17 0.00) scale(1.0533 1)" font-family="Liberation Serif, Times New Roman, serif" font-size="85" fill="#000">a.u.)</text></g>
<path d="M494.5 1403.5V2164.5M739.5 1403.5V2164.5M983.5 1403.5V2164.5M1227.5 1403.5V2164.5M1472.5 1403.5V2164.5" stroke="#262626" stroke-opacity="0.15" stroke-width="3" fill="none"/><path d="M250.5 2012.5H1716.5M250.5 1860.5H1716.5M250.5 1707.5H1716.5M250.5 1555.5H1716.5" stroke="#262626" stroke-opacity="0.15" stroke-width="3" fill="none"/>
<path d="M494.5 2164.5v-14.8M494.5 1403.5v14.8M739.5 2164.5v-14.8M739.5 1403.5v14.8M983.5 2164.5v-14.8M983.5 1403.5v14.8M1227.5 2164.5v-14.8M1227.5 1403.5v14.8M1472.5 2164.5v-14.8M1472.5 1403.5v14.8M250.5 2012.5h14.8M1716.5 2012.5h-14.8M250.5 1860.5h14.8M1716.5 1860.5h-14.8M250.5 1707.5h14.8M1716.5 1707.5h-14.8M250.5 1555.5h14.8M1716.5 1555.5h-14.8" stroke="#222222" stroke-width="3" fill="none"/>
<rect x="250.5" y="1403.5" width="1466.0" height="761.0" fill="none" stroke="#222222" stroke-width="3"/>
<g id="tlb" font-family="Liberation Sans, Arial, sans-serif" font-weight="bold" font-size="68.8" fill="#222222"><text x="227.6" y="2190.2" text-anchor="end">0</text><text x="227.6" y="2038.0" text-anchor="end">1</text><text x="227.6" y="1885.8" text-anchor="end">2</text><text x="227.6" y="1733.6" text-anchor="end">3</text><text x="227.6" y="1581.4" text-anchor="end">4</text><text x="227.6" y="1429.2" text-anchor="end">5</text><text x="250.5" y="2256.5" text-anchor="middle">0</text><text x="494.8" y="2256.5" text-anchor="middle">100</text><text x="739.2" y="2256.5" text-anchor="middle">200</text><text x="983.5" y="2256.5" text-anchor="middle">300</text><text x="1227.8" y="2256.5" text-anchor="middle">400</text><text x="1472.2" y="2256.5" text-anchor="middle">500</text><text x="1716.5" y="2256.5" text-anchor="middle">600</text></g>
<path d="M250.5 1920.8l0.4 26.7 0.4 -26.6 0.4 22.4 0.4 -19.1 0.4 13.0 0.4 -24.6 0.4 25.4 0.4 -27.3 0.4 26.8 0.4 -24.4 0.4 23.1 0.4 -14.0 0.4 20.8 0.4 -21.7 0.4 24.4 0.4 -25.2 0.4 23.3 0.4 -21.9 0.4 16.3 0.4 -24.7 0.4 22.0 0.4 -25.6 0.4 28.6 0.4 -25.3 0.4 22.7 0.4 -12.5 0.4 23.0 0.4 -23.7 0.4 24.4 0.4 -25.7 0.4 22.7 0.4 -22.6 0.4 15.9 0.4 -25.5 0.4 23.5 0.4 -24.9 0.4 27.6 0.4 -22.2 0.4 19.8 0.4 -15.5 0.4 23.1 0.4 -22.9 0.4 26.4 0.4 -23.8 0.4 20.4 0.4 -21.8 0.4 13.9 0.4 -20.7 0.4 21.8 0.4 -21.8 0.4 22.1 0.4 -18.7 0.4 20.8 0.4 -16.4 0.4 22.8 0.4 -24.8 0.4 24.4 0.4 -20.7 0.4 18.5 0.4 -20.1 0.4 13.2 0.4 -24.6 0.4 24.7 0.4 -24.9 0.4 24.4 0.4 -18.5 0.4 20.0 0.4 -16.4 0.4 23.6 0.4 -21.3 0.4 22.5 0.4 -24.6 0.4 19.6 0.4 -17.3 0.4 13.8 0.4 -23.2 0.4 25.6 0.4 -25.7 0.4 23.8 0.4 -19.4 0.4 19.5 0.4 -15.0 0.4 25.0 0.4 -26.1 0.4 26.0 0.4 -26.9 0.4 21.8 0.4 -21.4 0.4 15.6 0.4 -26.6 0.4 27.9 0.4 -26.7 0.4 25.5 0.4 -20.2 0.4 24.1 0.4 -17.5 0.4 20.6 0.4 -22.6 0.4 22.8 0.4 -22.6 0.4 16.1 0.4 -18.4 0.4 16.8 0.4 -25.8 0.4 25.1 0.4 -24.1 0.4 26.1 0.4 -16.6 0.4 22.0 0.4 -19.8 0.4 25.5 0.4 -26.8 0.4 27.7 0.4 -26.5 0.4 15.8 0.4 -21.1 0.4 20.0 0.4 -24.3 0.4 22.9 0.4 -21.2 0.4 21.3 0.4 -14.5 0.4 22.7 0.4 -22.7 0.4 26.0 0.4 -25.8 0.4 22.8 0.4 -24.5 0.4 16.8 0.4 -21.8 0.4 20.8 0.4 -24.1 0.4 23.9 0.4 -21.9 0.4 24.4 0.4 -16.6 0.4 22.4 0.4 -23.8 0.4 26.2 0.4 -22.3 0.4 19.9 0.4 -23.8 0.4 16.7 0.4 -21.3 0.4 20.8 0.4 -24.9 0.4 24.8 0.4 -19.4 0.4 19.0 0.4 -13.7 0.4 22.1 0.4 -22.3 0.4 27.5 0.4 -29.0 0.4 22.5 0.4 -22.4 0.4 15.9 0.4 -25.4 0.4 27.2 0.4 -31.4 0.4 29.4 0.4 -21.7 0.4 22.4 0.4 -15.3 0.4 24.9 0.4 -24.3 0.4 27.0 0.4 -28.9 0.4 22.5 0.4 -21.5 0.4 16.7 0.4 -26.0 0.4 24.6 0.4 -25.2 0.4 25.9 0.4 -18.3 0.4 17.9 0.4 -16.1 0.4 24.1 0.4 -23.2 0.4 23.0 0.4 -22.4 0.4 16.6 0.4 -16.9 0.4 15.5 0.4 -22.1 0.4 21.1 0.4 -21.5 0.4 20.4 0.4 -17.4 0.4 21.9 0.4 -17.8 0.4 22.3 0.4 -25.8 0.4 27.4 0.4 -23.7 0.4 18.5 0.4 -23.5 0.4 18.7 0.4 -24.1 0.4 24.5 0.4 -23.7 0.4 24.0 0.4 -17.8 0.4 22.2 0.4 -19.0 0.4 26.3 0.4 -25.6 0.4 27.0 0.4 -26.7 0.4 16.1 0.4 -21.2 0.4 18.2 0.4 -20.5 0.4 20.2 0.4 -19.7 0.4 18.1 0.4 -16.2 0.4 21.6 0.4 -19.6 0.4 29.8 0.4 -29.7 0.4 27.8 0.4 -25.4 0.4 15.2 0.4 -19.1 0.4 16.8 0.4 -20.5 0.4 20.2 0.4 -21.4 0.4 22.8 0.4 -18.0 0.4 22.3 0.4 -20.0 0.4 24.5 0.4 -24.8 0.4 22.8 0.4 -23.0 0.4 16.1 0.4 -20.3 0.4 21.2 0.4 -26.2 0.4 24.8 0.4 -23.9 0.4 23.3 0.4 -15.4 0.4 19.3 0.4 -18.4 0.4 23.9 0.4 -24.4 0.4 23.1 0.4 -20.9 0.4 14.8 0.4 -21.3 0.4 19.3 0.4 -25.1 0.4 24.0 0.4 -20.0 0.4 20.5 0.4 -13.3 0.4 22.6 0.4 -21.7 0.4 28.0 0.4 -28.8 0.4 24.6 0.4 -25.7 0.4 16.1 0.4 -18.1 0.4 18.3 0.4 -22.6 0.4 21.0 0.4 -20.3 0.4 21.1 0.4 -16.4 0.4 21.9 0.4 -19.9 0.4 21.1 0.4 -21.3 0.4 21.0 0.4 -21.8 0.4 15.8 0.4 -20.7 0.4 20.0 0.4 -22.8 0.4 23.2 0.4 -20.9 0.4 20.3 0.4 -14.1 0.4 19.6 0.4 -22.1 0.4 26.3 0.4 -23.5 0.4 20.2 0.4 -19.3 0.4 13.7 0.4 -21.7 0.4 21.1 0.4 -24.6 0.4 25.3 0.4 -19.5 0.4 19.8 0.4 -14.8 0.4 23.8 0.4 -26.1 0.4 26.3 0.4 -25.3 0.4 20.0 0.4 -20.0 0.4 16.2 0.4 -24.5 0.4 23.2 0.4 -24.3 0.4 23.5 0.4 -17.8 0.4 19.3 0.4 -16.3 0.4 25.1 0.4 -24.7 0.4 25.2 0.4 -23.2 0.4 16.0 0.4 -18.9 0.4 15.3 0.4 -22.8 0.4 24.7 0.4 -23.7 0.4 20.9 0.4 -16.1 0.4 22.0 0.4 -18.8 0.4 23.8 0.4 -24.3 0.4 23.6 0.4 -24.0 0.4 19.0 0.4 -24.3 0.4 21.6 0.4 -22.4 0.4 19.9 0.4 -19.2 0.4 20.5 0.4 -15.1 0.4 20.6 0.4 -21.1 0.4 27.2 0.4 -24.7 0.4 21.4 0.4 -22.7 0.4 13.8 0.4 -17.9 0.4 18.7 0.4 -20.5 0.4 20.2 0.4 -17.8 0.4 18.8 0.4 -15.4 0.4 22.7 0.4 -24.2 0.4 30.1 0.4 -29.1 0.4 26.0 0.4 -24.6 0.4 13.6 0.4 -17.8 0.4 17.9 0.4 -24.0 0.4 24.3 0.4 -21.1 0.4 20.3 0.4 -13.6 0.4 19.5 0.4 -20.7 0.4 27.2 0.4 -25.1 0.4 22.7 0.4 -25.4 0.4 15.2 0.4 -20.9 0.4 23.2 0.4 -28.6 0.4 28.1 0.4 -25.8 0.4 25.7 0.4 -17.5 0.4 22.1 0.4 -20.6 0.4 23.3 0.4 -21.8 0.4 19.9 0.4 -19.8 0.4 14.3 0.4 -25.2 0.4 25.4 0.4 -27.6 0.4 27.3 0.4 -24.4 0.4 25.4 0.4 -14.6 0.4 21.6 0.4 -23.8 0.4 26.2 0.4 -25.8 0.4 23.4 0.4 -23.6 0.4 13.7 0.4 -21.8 0.4 22.4 0.4 -27.5 0.4 27.5 0.4 -24.1 0.4 25.9 0.4 -16.7 0.4 21.1 0.4 -20.7 0.4 23.2 0.4 -24.7 0.4 23.7 0.4 -23.4 0.4 16.0 0.4 -20.6 0.4 20.4 0.4 -20.9 0.4 22.3 0.4 -23.0 0.4 20.7 0.4 -13.9 0.4 24.4 0.4 -24.2 0.4 26.1 0.4 -25.8 0.4 23.6 0.4 -22.5 0.4 14.3 0.4 -22.0 0.4 20.5 0.4 -26.1 0.4 25.9 0.4 -22.6 0.4 24.1 0.4 -14.3 0.4 20.2 0.4 -21.3 0.4 26.7 0.4 -25.6 0.4 21.9 0.4 -22.3 0.4 16.4 0.4 -23.6 0.4 22.6 0.4 -27.1 0.4 27.0 0.4 -26.3 0.4 26.6 0.4 -15.2 0.4 18.8 0.4 -21.3 0.4 30.4 0.4 -28.5 0.4 25.1 0.4 -26.9 0.4 17.3 0.4 -22.6 0.4 19.7 0.4 -24.8 0.4 28.4 0.4 -27.0 0.4 25.4 0.4 -15.6 0.4 20.1 0.4 -21.7 0.4 26.4 0.4 -23.8 0.4 22.7 0.4 -23.6 0.4 15.0 0.4 -21.5 0.4 21.8 0.4 -26.4 0.4 24.7 0.4 -22.5 0.4 24.3 0.4 -15.6 0.4 19.0 0.4 -17.0 0.4 22.0 0.4 -23.9 0.4 22.9 0.4 -22.8 0.4 15.5 0.4 -18.1 0.4 18.6 0.4 -22.6 0.4 22.0 0.4 -22.8 0.4 23.2 0.4 -16.3 0.4 21.9 0.4 -20.2 0.4 24.5 0.4 -26.4 0.4 26.7 0.4 -25.2 0.4 14.1 0.4 -19.3 0.4 19.5 0.4 -25.5 0.4 26.8 0.4 -24.7 0.4 24.3 0.4 -15.4 0.4 21.5 0.4 -21.4 0.4 23.3 0.4 -23.8 0.4 21.8 0.4 -22.1 0.4 14.0 0.4 -21.5 0.4 22.2 0.4 -24.1 0.4 25.5 0.4 -22.2 0.4 19.0 0.4 -14.2 0.4 22.1 0.4 -19.4 0.4 21.5 0.4 -21.2 0.4 19.7 0.4 -22.0 0.4 14.4 0.4 -15.5 0.4 18.0 0.4 -24.2 0.4 22.3 0.4 -17.9 0.4 18.7 0.4 -16.8 0.4 21.0 0.4 -20.4 0.4 23.6 0.4 -22.3 0.4 19.1 0.4 -19.9 0.4 14.7 0.4 -21.9 0.4 23.9 0.4 -25.3 0.4 25.7 0.4 -21.4 0.4 20.1 0.4 -14.4 0.4 21.8 0.4 -22.6 0.4 25.4 0.4 -24.6 0.4 19.2 0.4 -20.9 0.4 16.3 0.4 -23.8 0.4 23.0 0.4 -22.0 0.4 21.8 0.4 -16.4 0.4 19.7 0.4 -16.9 0.4 20.0 0.4 -21.7 0.4 22.9 0.4 -21.2 0.4 16.4 0.4 -22.9 0.4 20.7 0.4 -27.8 0.4 27.0 0.4 -23.6 0.4 25.2 0.4 -15.0 0.4 18.4 0.4 -20.7 0.4 23.5 0.4 -22.7 0.4 21.1 0.4 -21.6 0.4 14.5 0.4 -20.6 0.4 23.6 0.4 -27.9 0.4 26.4 0.4 -22.0 0.4 22.2 0.4 -15.6 0.4 24.6 0.4 -25.1 0.4 30.0 0.4 -29.7 0.4 22.0 0.4 -19.8 0.4 13.2 0.4 -23.5 0.4 23.5 0.4 -26.7 0.4 27.8 0.4 -19.9 0.4 21.3 0.4 -17.7 0.4 26.8 0.4 -27.1 0.4 28.6 0.4 -26.2 0.4 17.6 0.4 -22.1 0.4 16.8 0.4 -19.5 0.4 20.6 0.4 -21.5 0.4 20.4 0.4 -15.5 0.4 23.3 0.4 -22.5 0.4 30.3 0.4 -30.8 0.4 27.3 0.4 -25.9 0.4 16.8 0.4 -22.1 0.4 21.4 0.4 -27.3 0.4 27.2 0.4 -23.1 0.4 22.0 0.4 -14.7 0.4 21.0 0.4 -21.0 0.4 27.5 0.4 -26.8 0.4 22.6 0.4 -23.0 0.4 15.8 0.4 -22.7 0.4 22.3 0.4 -27.7 0.4 26.4 0.4 -22.8 0.4 22.8 0.4 -15.6 0.4 24.5 0.4 -22.7 0.4 25.5 0.4 -27.8 0.4 26.6 0.4 -26.3 0.4 16.5 0.4 -19.8 0.4 20.1 0.4 -26.9 0.4 26.6 0.4 -21.7 0.4 20.5 0.4 -13.1 0.4 19.3 0.4 -18.1 0.4 19.1 0.4 -19.9 0.4 17.5 0.4 -18.9 0.4 14.9 0.4 -21.4 0.4 21.2 0.4 -22.5 0.4 24.8 0.4 -23.2 0.4 22.1 0.4 -16.8 0.4 22.4 0.4 -21.2 0.4 21.6 0.4 -22.5 0.4 19.7 0.4 -17.8 0.4 12.6 0.4 -21.1 0.4 23.4 0.4 -25.1 0.4 25.2 0.4 -19.6 0.4 19.4 0.4 -16.9 0.4 23.9 0.4 -24.9 0.4 27.3 0.4 -25.7 0.4 22.4 0.4 -21.9 0.4 14.5 0.4 -20.9 0.4 22.1 0.4 -23.7 0.4 24.7 0.4 -23.6 0.4 23.7 0.4 -15.5 0.4 22.8 0.4 -25.4 0.4 26.2 0.4 -23.9 0.4 21.5 0.4 -20.9 0.4 13.9 0.4 -24.8 0.4 26.1 0.4 -26.1 0.4 26.4 0.4 -21.2 0.4 21.2 0.4 -16.2 0.4 24.0 0.4 -25.3 0.4 26.8 0.4 -26.9 0.4 20.7 0.4 -21.2 0.4 15.7 0.4 -21.9 0.4 21.1 0.4 -23.3 0.4 25.6 0.4 -19.6 0.4 19.3 0.4 -15.6 0.4 26.5 0.4 -26.0 0.4 25.1 0.4 -25.7 0.4 19.6 0.4 -19.1 0.4 15.7 0.4 -25.4 0.4 24.1 0.4 -25.0 0.4 26.8 0.4 -21.4 0.4 20.5 0.4 -15.1 0.4 24.6 0.4 -25.1 0.4 25.8 0.4 -26.2 0.4 21.9 0.4 -23.1 0.4 17.7 0.4 -26.6 0.4 24.7 0.4 -25.0 0.4 25.7 0.4 -19.5 0.4 23.7 0.4 -18.3 0.4 25.4 0.4 -26.8 0.4 27.9 0.4 -28.0 0.4 19.7 0.4 -22.7 0.4 17.8 0.4 -21.5 0.4 22.9 0.4 -23.9 0.4 24.1 0.4 -15.6 0.4 19.1 0.4 -19.1 0.4 23.0 0.4 -22.8 0.4 20.4 0.4 -20.8 0.4 14.6 0.4 -22.9 0.4 24.6 0.4 -28.4 0.4 28.1 0.4 -24.8 0.4 23.4 0.4 -14.3 0.4 22.0 0.4 -22.8 0.4 26.4 0.4 -26.0 0.4 20.9 0.4 -21.9 0.4 15.7 0.4 -21.5 0.4 19.5 0.4 -19.0 0.4 22.5 0.4 -19.3 0.4 19.9 0.4 -17.1 0.4 27.5 0.4 -27.5 0.4 29.3 0.4 -28.6 0.4 19.6 0.4 -23.1 0.4 19.8 0.4 -27.9 0.4 26.2 0.4 -23.5 0.4 24.3 0.4 -16.5 0.4 24.3 0.4 -24.3 0.4 28.9 0.4 -27.7 0.4 24.0 0.4 -24.5 0.4 15.4 0.4 -20.5 0.4 21.3 0.4 -23.1 0.4 23.3 0.4 -20.5 0.4 19.0 0.4 -14.5 0.4 24.8 0.4 -25.6 0.4 28.1 0.4 -28.4 0.4 23.4 0.4 -23.2 0.4 15.8 0.4 -23.3 0.4 23.8 0.4 -23.8 0.4 24.3 0.4 -20.1 0.4 21.2 0.4 -17.5 0.4 24.7 0.4 -24.2 0.4 23.8 0.4 -25.4 0.4 19.3 0.4 -21.1 0.4 19.0 0.4 -24.5 0.4 23.5 0.4 -22.8 0.4 22.1 0.4 -13.7 0.4 21.3 0.4 -21.4 0.4 26.7 0.4 -27.8 0.4 24.1 0.4 -22.6 0.4 14.4 0.4 -19.5 0.4 20.4 0.4 -23.1 0.4 21.8 0.4 -18.6 0.4 18.6 0.4 -14.1 0.4 19.1 0.4 -19.2 0.4 23.6 0.4 -24.2 0.4 19.2 0.4 -20.0 0.4 16.1 0.4 -21.5 0.4 22.6 0.4 -22.7 0.4 21.7 0.4 -19.7 0.4 20.7 0.4 -15.3 0.4 22.5 0.4 -24.6 0.4 26.8 0.4 -25.5 0.4 23.3 0.4 -24.1 0.4 15.4 0.4 -23.7 0.4 23.5 0.4 -26.8 0.4 28.2 0.4 -24.1 0.4 24.4 0.4 -16.6 0.4 22.9 0.4 -20.4 0.4 23.2 0.4 -25.9 0.4 21.4 0.4 -19.4 0.4 14.4 0.4 -22.4 0.4 22.6 0.4 -26.4 0.4 26.4 0.4 -21.8 0.4 19.4 0.4 -13.7 0.4 23.5 0.4 -22.3 0.4 28.5 0.4 -28.6 0.4 21.8 0.4 -22.8 0.4 15.8 0.4 -24.3 0.4 25.6 0.4 -32.1 0.4 30.7 0.4 -22.1 0.4 20.7 0.4 -13.3 0.4 24.2 0.4 -24.6 0.4 27.1 0.4 -27.7 0.4 22.9 0.4 -24.0 0.4 17.7 0.4 -23.7 0.4 21.3 0.4 -22.8 0.4 24.6 0.4 -23.1 0.4 22.5 0.4 -13.6 0.4 18.6 0.4 -19.1 0.4 21.5 0.4 -23.6 0.4 20.8 0.4 -19.3 0.4 12.2 0.4 -22.1 0.4 23.7 0.4 -25.1 0.4 24.9 0.4 -20.5 0.4 22.7 0.4 -15.4 0.4 21.4 0.4 -23.2 0.4 21.7 0.4 -21.6 0.4 20.1 0.4 -20.4 0.4 18.3 0.4 -23.1 0.4 19.6 0.4 -24.0 0.4 26.1 0.4 -21.6 0.4 20.9 0.4 -16.0 0.4 22.4 0.4 -20.4 0.4 24.7 0.4 -26.2 0.4 22.7 0.4 -21.9 0.4 15.8 0.4 -25.8 0.4 25.2 0.4 -30.2 0.4 28.3 0.4 -23.9 0.4 27.0 0.4 -15.1 0.4 22.4 0.4 -23.1 0.4 27.3 0.4 -29.8 0.4 25.0 0.4 -24.1 0.4 15.0 0.4 -20.5 0.4 21.4 0.4 -25.5 0.4 25.9 0.4 -22.4 0.4 22.0 0.4 -14.7 0.4 20.0 0.4 -19.7 0.4 23.5 0.4 -22.9 0.4 16.9 0.4 -19.3 0.4 14.3 0.4 -20.2 0.4 23.5 0.4 -25.6 0.4 24.4 0.4 -18.3 0.4 19.1 0.4 -16.8 0.4 25.9 0.4 -24.4 0.4 26.6 0.4 -28.7 0.4 23.8 0.4 -21.4 0.4 15.0 0.4 -22.7 0.4 21.8 0.4 -23.7 0.4 24.2 0.4 -18.4 0.4 20.0 0.4 -18.7 0.4 26.6 0.4 -24.3 0.4 23.5 0.4 -25.6 0.4 20.6 0.4 -20.8 0.4 16.8 0.4 -21.7 0.4 22.6 0.4 -23.8 0.4 23.4 0.4 -17.4 0.4 22.0 0.4 -19.6 0.4 26.0 0.4 -28.9 0.4 29.2 0.4 -28.5 0.4 16.0 0.4 -18.7 0.4 19.5 0.4 -21.4 0.4 22.0 0.4 -21.9 0.4 21.8 0.4 -16.5 0.4 20.3 0.4 -20.6 0.4 23.8 0.4 -23.3 0.4 23.3 0.4 -22.3 0.4 11.8 0.4 -20.4 0.4 22.3 0.4 -26.5 0.4 24.9 0.4 -20.6 0.4 21.9 0.4 -14.9 0.4 22.7 0.4 -21.9 0.4 24.9 0.4 -23.5 0.4 20.0 0.4 -21.2 0.4 15.9 0.4 -24.2 0.4 22.9 0.4 -23.5 0.4 22.8 0.4 -16.6 0.4 16.7 0.4 -14.0 0.4 21.5 0.4 -20.5 0.4 19.8 0.4 -19.7 0.4 17.3 0.4 -22.4 0.4 18.4 0.4 -24.7 0.4 26.1 0.4 -26.8 0.4 25.3 0.4 -18.3 0.4 22.2 0.4 -17.4 0.4 22.6 0.4 -25.2 0.4 24.4 0.4 -23.8 0.4 18.5 0.4 -20.3 0.4 16.1 0.4 -20.7 0.4 19.8 0.4 -18.3 0.4 19.7 0.4 -13.7 0.4 22.0 0.4 -22.2 0.4 26.7 0.4 -28.2 0.4 25.1 0.4 -22.4 0.4 12.3 0.4 -19.7 0.4 20.7 0.4 -25.4 0.4 26.5 0.4 -23.5 0.4 24.1 0.4 -17.8 0.4 24.4 0.4 -24.1 0.4 27.6 0.4 -26.3 0.4 21.7 0.4 -21.6 0.4 15.5 0.4 -22.1 0.4 23.1 0.4 -24.7 0.4 23.5 0.4 -18.3 0.4 19.1 0.4 -14.7 0.4 20.4 0.4 -21.4 0.4 26.4 0.4 -26.7 0.4 17.5 0.4 -18.9 0.4 16.3 0.4 -23.1 0.4 21.4 0.4 -21.5 0.4 22.9 0.4 -17.1 0.4 19.3 0.4 -17.0 0.4 26.6 0.4 -26.8 0.4 27.5 0.4 -27.9 0.4 19.1 0.4 -20.3 0.4 15.6 0.4 -21.9 0.4 23.1 0.4 -22.7 0.4 22.4 0.4 -16.9 0.4 20.7 0.4 -20.0 0.4 28.4 0.4 -27.0 0.4 26.3 0.4 -26.9 0.4 18.5 0.4 -19.5 0.4 16.4 0.4 -24.0 0.4 25.1 0.4 -24.3 0.4 25.0 0.4 -17.2 0.4 17.6 0.4 -18.4 0.4 24.8 0.4 -23.6 0.4 22.9 0.4 -23.7 0.4 16.6 0.4 -19.0 0.4 17.2 0.4 -22.0 0.4 23.8 0.4 -23.7 0.4 23.3 0.4 -15.4 0.4 20.8 0.4 -20.6 0.4 28.6 0.4 -27.7 0.4 23.7 0.4 -25.2 0.4 16.5 0.4 -21.9 0.4 20.9 0.4 -28.1 0.4 28.4 0.4 -24.8 0.4 24.8 0.4 -16.3 0.4 22.0 0.4 -21.4 0.4 27.0 0.4 -27.5 0.4 23.3 0.4 -23.2 0.4 14.0 0.4 -15.5 0.4 18.8 0.4 -22.4 0.4 20.2 0.4 -20.1 0.4 18.7 0.4 -14.0 0.4 20.8 0.4 -20.2 0.4 24.5 0.4 -24.7 0.4 23.2 0.4 -23.4 0.4 14.2 0.4 -18.4 0.4 17.9 0.4 -19.7 0.4 23.0 0.4 -20.9 0.4 18.7 0.4 -13.2 0.4 19.1 0.4 -18.8 0.4 21.9 0.4 -23.3 0.4 22.4 0.4 -21.2 0.4 13.8 0.4 -19.9 0.4 18.8 0.4 -20.0 0.4 22.9 0.4 -22.4 0.4 19.9 0.4 -16.0 0.4 22.3 0.4 -22.4 0.4 28.2 0.4 -26.3 0.4 24.9 0.4 -26.1 0.4 20.0 0.4 -21.5 0.4 17.7 0.4 -24.6 0.4 25.6 0.4 -27.6 0.4 28.5 0.4 -22.3 0.4 22.7 0.4 -16.9 0.4 23.9 0.4 -23.8 0.4 26.2 0.4 -27.4 0.4 22.3 0.4 -21.0 0.4 15.0 0.4 -21.9 0.4 22.2 0.4 -23.5 0.4 23.8 0.4 -20.6 0.4 20.4 0.4 -17.3 0.4 23.8 0.4 -24.2 0.4 28.4 0.4 -27.2 0.4 24.1 0.4 -23.0 0.4 13.6 0.4 -21.1 0.4 21.6 0.4 -23.7 0.4 22.3 0.4 -20.2 0.4 21.7 0.4 -13.5 0.4 16.8 0.4 -18.9 0.4 22.1 0.4 -20.4 0.4 20.0 0.4 -20.9 0.4 13.9 0.4 -21.7 0.4 22.2 0.4 -27.1 0.4 28.5 0.4 -25.3 0.4 23.9 0.4 -15.2 0.4 20.3 0.4 -19.7 0.4 25.5 0.4 -25.7 0.4 24.0 0.4 -24.1 0.4 18.1 0.4 -21.9 0.4 19.4 0.4 -22.2 0.4 22.4 0.4 -23.0 0.4 23.9 0.4 -18.4 0.4 20.6 0.4 -19.1 0.4 26.0 0.4 -26.9 0.4 26.8 0.4 -25.2 0.4 18.0 0.4 -20.6 0.4 15.8 0.4 -20.9 0.4 22.8 0.4 -23.1 0.4 22.4 0.4 -16.9 0.4 19.0 0.4 -15.5 0.4 23.0 0.4 -25.1 0.4 25.2 0.4 -24.2 0.4 16.1 0.4 -20.2 0.4 19.6 0.4 -22.3 0.4 21.5 0.4 -21.5 0.4 20.5 0.4 -17.0 0.4 20.2 0.4 -19.1 0.4 25.7 0.4 -23.7 0.4 22.5 0.4 -23.2 0.4 18.6 0.4 -22.9 0.4 20.4 0.4 -28.5 0.4 27.8 0.4 -27.9 0.4 27.4 0.4 -16.7 0.4 21.1 0.4 -19.9 0.4 30.6 0.4 -29.6 0.4 27.7 0.4 -26.6 0.4 17.3 0.4 -21.3 0.4 17.6 0.4 -22.4 0.4 22.0 0.4 -22.4 0.4 22.5 0.4 -17.3 0.4 25.1 0.4 -23.5 0.4 28.7 0.4 -28.1 0.4 26.9 0.4 -26.9 0.4 17.2 0.4 -21.4 0.4 20.9 0.4 -28.7 0.4 28.8 0.4 -27.2 0.4 26.5 0.4 -14.2 0.4 17.2 0.4 -18.2 0.4 22.7 0.4 -24.4 0.4 23.5 0.4 -23.5 0.4 17.4 0.4 -19.8 0.4 20.0 0.4 -23.9 0.4 23.0 0.4 -20.4 0.4 21.0 0.4 -15.3 0.4 20.6 0.4 -20.3 0.4 23.3 0.4 -23.3 0.4 22.6 0.4 -23.5 0.4 14.6 0.4 -19.2 0.4 19.6 0.4 -22.9 0.4 21.7 0.4 -17.5 0.4 17.6 0.4 -12.9 0.4 21.0 0.4 -23.2 0.4 25.6 0.4 -26.1 0.4 22.4 0.4 -21.7 0.4 16.6 0.4 -26.8 0.4 24.7 0.4 -26.0 0.4 27.4 0.4 -18.7 0.4 19.5 0.4 -14.5 0.4 22.5 0.4 -23.1 0.4 22.9 0.4 -23.8 0.4 19.4 0.4 -22.6 0.4 17.2 0.4 -25.2 0.4 27.1 0.4 -25.8 0.4 25.5 0.4 -18.2 0.4 22.1 0.4 -20.3 0.4 25.3 0.4 -26.1 0.4 26.3 0.4 -24.5 0.4 16.9 0.4 -22.4 0.4 20.6 0.4 -22.8 0.4 21.8 0.4 -21.3 0.4 21.4 0.4 -14.2 0.4 20.4 0.4 -21.3 0.4 26.7 0.4 -25.2 0.4 24.4 0.4 -25.0 0.4 14.7 0.4 -22.4 0.4 20.9 0.4 -23.3 0.4 26.9 0.4 -25.9 0.4 22.6 0.4 -15.4 0.4 25.5 0.4 -23.7 0.4 22.5 0.4 -22.5 0.4 20.3 0.4 -19.5 0.4 14.9 0.4 -20.5 0.4 20.6 0.4 -21.8 0.4 22.7 0.4 -19.8 0.4 17.0 0.4 -15.3 0.4 23.8 0.4 -20.6 0.4 23.9 0.4 -25.3 0.4 18.7 0.4 -20.3 0.4 17.8 0.4 -28.4 0.4 26.3 0.4 -25.4 0.4 25.1 0.4 -17.6 0.4 22.1 0.4 -19.0 0.4 26.8 0.4 -26.0 0.4 25.6 0.4 -25.3 0.4 14.4 0.4 -20.4 0.4 19.9 0.4 -26.0 0.4 26.6 0.4 -23.7 0.4 24.9 0.4 -15.5 0.4 21.8 0.4 -22.9 0.4 25.6 0.4 -24.4 0.4 21.5 0.4 -23.1 0.4 13.4 0.4 -22.0 0.4 23.9 0.4 -26.5 0.4 27.7 0.4 -24.2 0.4 23.1 0.4 -15.2 0.4 21.4 0.4 -20.1 0.4 23.6 0.4 -23.5 0.4 20.2 0.4 -20.1 0.4 13.3 0.4 -22.5 0.4 21.3 0.4 -24.2 0.4 26.6 0.4 -18.7 0.4 20.8 0.4 -18.5 0.4 22.2 0.4 -21.5 0.4 22.7 0.4 -23.1 0.4 16.7 0.4 -20.2 0.4 19.2 0.4 -25.7 0.4 26.0 0.4 -24.9 0.4 23.1 0.4 -16.7 0.4 21.2 0.4 -19.1 0.4 25.5 0.4 -22.7 0.4 21.2 0.4 -24.2 0.4 16.3 0.4 -22.1 0.4 22.7 0.4 -27.4 0.4 27.0 0.4 -26.9 0.4 26.8 0.4 -16.4 0.4 23.2 0.4 -21.3 0.4 28.8 0.4 -29.6 0.4 23.8 0.4 -24.7 0.4 17.2 0.4 -23.6 0.4 23.2 0.4 -28.0 0.4 26.5 0.4 -20.0 0.4 21.6 0.4 -17.3 0.4 25.8 0.4 -25.6 0.4 30.4 0.4 -27.3 0.4 20.3 0.4 -21.6 0.4 12.7 0.4 -17.3 0.4 20.3 0.4 -22.8 0.4 21.2 0.4 -19.7 0.4 19.8 0.4 -15.5 0.4 22.2 0.4 -22.6 0.4 25.9 0.4 -26.0 0.4 20.9 0.4 -21.8 0.4 16.3 0.4 -24.8 0.4 24.1 0.4 -22.5 0.4 23.0 0.4 -20.7 0.4 24.0 0.4 -16.5 0.4 24.0 0.4 -23.3 0.4 24.4 0.4 -25.8 0.4 18.1 0.4 -21.0 0.4 18.3 0.4 -23.5 0.4 23.2 0.4 -22.2 0.4 22.6 0.4 -18.5 0.4 20.5 0.4 -18.4 0.4 20.9 0.4 -21.4 0.4 22.9 0.4 -21.9 0.4 15.2 0.4 -18.8 0.4 17.6 0.4 -23.4 0.4 23.7 0.4 -23.6 0.4 22.8 0.4 -16.2 0.4 24.9 0.4 -21.0 0.4 26.6 0.4 -27.6 0.4 26.5 0.4 -25.0 0.4 14.0 0.4 -20.0 0.4 20.7 0.4 -29.2 0.4 27.3 0.4 -27.3 0.4 27.2 0.4 -15.6 0.4 24.1 0.4 -22.5 0.4 28.2 0.4 -28.3 0.4 26.8 0.4 -26.6 0.4 13.0 0.4 -18.5 0.4 20.9 0.4 -27.0 0.4 24.8 0.4 -20.3 0.4 22.4 0.4 -16.5 0.4 19.0 0.4 -18.1 0.4 23.8 0.4 -23.4 0.4 21.4 0.4 -21.1 0.4 14.9 0.4 -23.2 0.4 23.1 0.4 -24.5 0.4 22.2 0.4 -23.6 0.4 25.6 0.4 -15.8 0.4 20.3 0.4 -22.1 0.4 26.2 0.4 -22.2 0.4 19.6 0.4 -19.9 0.4 13.8 0.4 -20.8 0.4 19.5 0.4 -21.7 0.4 22.7 0.4 -22.3 0.4 23.0 0.4 -13.9 0.4 20.6 0.4 -23.4 0.4 24.1 0.4 -23.0 0.4 20.2 0.4 -20.4 0.4 15.2 0.4 -18.7 0.4 20.3 0.4 -21.7 0.4 20.4 0.4 -20.2 0.4 19.0 0.4 -14.3 0.4 19.8 0.4 -18.7 0.4 24.1 0.4 -24.5 0.4 19.2 0.4 -19.5 0.4 15.0 0.4 -18.3 0.4 18.4 0.4 -20.9 0.4 19.7 0.4 -18.5 0.4 21.8 0.4 -16.1 0.4 22.1 0.4 -23.0 0.4 27.0 0.4 -28.1 0.4 24.3 0.4 -24.5 0.4 14.8 0.4 -18.0 0.4 19.9 0.4 -21.1 0.4 19.4 0.4 -19.3 0.4 22.2 0.4 -17.8 0.4 24.0 0.4 -22.0 0.4 22.8 0.4 -22.9 0.4 19.7 0.4 -20.2 0.4 13.4 0.4 -21.2 0.4 22.7 0.4 -22.5 0.4 20.8 0.4 -17.3 0.4 18.8 0.4 -17.0 0.4 22.2 0.4 -21.7 0.4 23.9 0.4 -20.1 0.4 17.8 0.4 -21.4 0.4 18.2 0.4 -24.2 0.4 22.6 0.4 -23.6 0.4 22.6 0.4 -17.4 0.4 19.3 0.4 -15.6 0.4 20.3 0.4 -22.2 0.4 25.5 0.4 -23.3 0.4 17.9 0.4 -21.3 0.4 17.8 0.4 -21.4 0.4 19.4 0.4 -21.7 0.4 24.6 0.4 -19.6 0.4 20.1 0.4 -18.4 0.4 27.6 0.4 -26.8 0.4 25.6 0.4 -25.5 0.4 19.7 0.4 -23.0 0.4 20.0 0.4 -26.2 0.4 24.1 0.4 -23.3 0.4 24.7 0.4 -15.8 0.4 21.1 0.4 -20.2 0.4 27.4 0.4 -27.2 0.4 23.8 0.4 -23.0 0.4 14.6 0.4 -23.0 0.4 21.4 0.4 -25.9 0.4 27.4 0.4 -25.9 0.4 23.9 0.4 -15.4 0.4 20.9 0.4 -19.1 0.4 20.6 0.4 -21.5 0.4 18.8 0.4 -19.0 0.4 15.1 0.4 -21.3 0.4 21.4 0.4 -26.0 0.4 28.1 0.4 -25.4 0.4 25.2 0.4 -15.1 0.4 20.7 0.4 -20.0 0.4 23.7 0.4 -26.3 0.4 23.0 0.4 -21.7 0.4 16.1 0.4 -23.7 0.4 22.3 0.4 -27.5 0.4 27.9 0.4 -25.2 0.4 25.6 0.4 -15.4 0.4 19.4 0.4 -21.0 0.4 26.2 0.4 -25.4 0.4 21.8 0.4 -21.1 0.4 14.9 0.4 -24.1 0.4 23.2 0.4 -25.3 0.4 25.1 0.4 -23.8 0.4 23.7 0.4 -15.0 0.4 24.9 0.4 -24.1 0.4 26.7 0.4 -25.9 0.4 20.1 0.4 -20.2 0.4 15.7 0.4 -27.8 0.4 26.9 0.4 -27.1 0.4 25.9 0.4 -20.1 0.4 20.0 0.4 -15.0 0.4 23.6 0.4 -24.3 0.4 25.8 0.4 -25.2 0.4 19.9 0.4 -19.6 0.4 16.6 0.4 -23.9 0.4 21.2 0.4 -23.5 0.4 26.1 0.4 -19.9 0.4 21.0 0.4 -18.9 0.4 26.1 0.4 -24.7 0.4 27.3 0.4 -26.3 0.4 16.8 0.4 -18.2 0.4 15.1 0.4 -24.5 0.4 24.8 0.4 -23.0 0.4 22.8 0.4 -18.6 0.4 20.5 0.4 -16.1 0.4 22.5 0.4 -22.4 0.4 21.7 0.4 -22.2 0.4 14.8 0.4 -15.8 0.4 17.1 0.4 -24.5 0.4 23.4 0.4 -21.4 0.4 19.4 0.4 -15.8 0.4 24.1 0.4 -21.9 0.4 27.4 0.4 -25.5 0.4 26.3 0.4 -28.7 0.4 15.0 0.4 -18.7 0.4 19.6 0.4 -23.5 0.4 22.7 0.4 -20.5 0.4 21.8 0.4 -14.0 0.4 17.7 0.4 -17.6 0.4 24.7 0.4 -26.7 0.4 22.0 0.4 -20.7 0.4 15.2 0.4 -24.1 0.4 22.0 0.4 -26.8 0.4 27.1 0.4 -24.0 0.4 23.7 0.4 -14.3 0.4 21.7 0.4 -21.9 0.4 23.5 0.4 -24.3 0.4 22.0 0.4 -20.0 0.4 12.5 0.4 -19.8 0.4 23.5 0.4 -25.3 0.4 22.8 0.4 -18.7 0.4 18.5 0.4 -14.6 0.4 23.4 0.4 -24.6 0.4 28.7 0.4 -28.7 0.4 21.8 0.4 -19.5 0.4 15.6 0.4 -25.5 0.4 24.9 0.4 -28.3 0.4 27.5 0.4 -20.4 0.4 21.3 0.4 -17.2 0.4 25.6 0.4 -25.2 0.4 26.6 0.4 -25.5 0.4 19.3 0.4 -20.1 0.4 17.4 0.4 -23.7 0.4 20.2 0.4 -23.6 0.4 25.8 0.4 -19.8 0.4 19.9 0.4 -15.5 0.4 26.2 0.4 -25.5 0.4 22.5 0.4 -25.3 0.4 20.4 0.4 -19.9 0.4 15.7 0.4 -21.3 0.4 22.3 0.4 -22.1 0.4 22.3 0.4 -15.8 0.4 16.9 0.4 -16.9 0.4 23.4 0.4 -23.7 0.4 26.0 0.4 -27.1 0.4 20.1 0.4 -23.2 0.4 19.2 0.4 -25.6 0.4 25.9 0.4 -26.5 0.4 25.3 0.4 -15.2 0.4 21.6 0.4 -19.4 0.4 24.2 0.4 -25.5 0.4 22.9 0.4 -23.7 0.4 17.4 0.4 -20.0 0.4 20.1 0.4 -27.1 0.4 24.7 0.4 -23.9 0.4 24.3 0.4 -14.2 0.4 21.2 0.4 -22.7 0.4 29.5 0.4 -29.2 0.4 26.1 0.4 -23.5 0.4 13.0 0.4 -19.6 0.4 20.7 0.4 -26.6 0.4 25.4 0.4 -23.2 0.4 24.5 0.4 -15.9 0.4 21.3 0.4 -19.5 0.4 26.5 0.4 -27.2 0.4 23.6 0.4 -24.0 0.4 15.3 0.4 -22.1 0.4 19.2 0.4 -22.2 0.4 26.4 0.4 -24.7 0.4 20.8 0.4 -12.2 0.4 20.8 0.4 -24.0 0.4 27.3 0.4 -26.2 0.4 22.9 0.4 -22.8 0.4 16.3 0.4 -23.7 0.4 22.8 0.4 -28.9 0.4 27.8 0.4 -21.4 0.4 23.8 0.4 -15.7 0.4 21.6 0.4 -21.9 0.4 28.5 0.4 -28.8 0.4 23.6 0.4 -22.0 0.4 14.7 0.4 -22.2 0.4 21.7 0.4 -25.9 0.4 25.9 0.4 -22.3 0.4 21.4 0.4 -13.5 0.4 21.5 0.4 -22.0 0.4 23.0 0.4 -24.1 0.4 19.9 0.4 -20.4 0.4 14.6 0.4 -20.3 0.4 21.9 0.4 -24.5 0.4 24.6 0.4 -18.5 0.4 20.9 0.4 -15.9 0.4 24.3 0.4 -25.8 0.4 25.3 0.4 -26.9 0.4 22.9 0.4 -23.1 0.4 15.8 0.4 -23.0 0.4 24.4 0.4 -23.9 0.4 22.9 0.4 -18.6 0.4 22.5 0.4 -18.4 0.4 24.0 0.4 -25.2 0.4 24.5 0.4 -24.6 0.4 19.1 0.4 -19.5 0.4 16.5 0.4 -24.8 0.4 24.5 0.4 -24.7 0.4 23.0 0.4 -14.6 0.4 19.8 0.4 -19.4 0.4 21.5 0.4 -20.4 0.4 20.6 0.4 -21.5 0.4 17.2 0.4 -22.0 0.4 22.7 0.4 -30.2 0.4 27.8 0.4 -26.3 0.4 28.0 0.4 -16.5 0.4 18.6 0.4 -18.9 0.4 23.3 0.4 -20.7 0.4 19.1 0.4 -21.7 0.4 16.6 0.4 -23.6 0.4 22.4 0.4 -27.7 0.4 29.3 0.4 -25.1 0.4 23.3 0.4 -13.7 0.4 22.0 0.4 -23.2 0.4 27.0 0.4 -28.2 0.4 25.6 0.4 -24.5 0.4 15.3 0.4 -24.1 0.4 26.0 0.4 -29.6 0.4 27.2 0.4 -20.7 0.4 22.0 0.4 -14.1 0.4 21.5 0.4 -24.5 0.4 25.3 0.4 -23.0 0.4 21.0 0.4 -22.7 0.4 17.4 0.4 -26.6 0.4 24.2 0.4 -23.7 0.4 24.2 0.4 -20.2 0.4 19.5 0.4 -14.9 0.4 26.1 0.4 -23.9 0.4 23.6 0.4 -24.8 0.4 19.7 0.4 -20.6 0.4 14.8 0.4 -21.7 0.4 24.0 0.4 -24.9 0.4 22.8 0.4 -17.3 0.4 21.0 0.4 -17.0 0.4 22.2 0.4 -23.0 0.4 23.3 0.4 -21.6 0.4 16.5 0.4 -20.4 0.4 17.0 0.4 -23.0 0.4 23.6 0.4 -22.7 0.4 22.7 0.4 -18.0 0.4 21.5 0.4 -18.0 0.4 21.8 0.4 -24.4 0.4 25.8 0.4 -22.5 0.4 17.0 0.4 -22.5 0.4 18.8 0.4 -27.4 0.4 29.4 0.4 -27.1 0.4 26.3 0.4 -19.4 0.4 24.6 0.4 -20.6 0.4 25.2 0.4 -25.3 0.4 26.8 0.4 -25.8 0.4 16.5 0.4 -19.7 0.4 18.3 0.4 -24.9 0.4 22.6 0.4 -21.5 0.4 24.8 0.4 -17.4 0.4 20.7 0.4 -20.8 0.4 28.5 0.4 -26.8 0.4 23.3 0.4 -26.0 0.4 17.6 0.4 -19.1 0.4 19.8 0.4 -22.2 0.4 19.7 0.4 -20.4 0.4 22.1 0.4 -16.9 0.4 18.8 0.4 -18.1 0.4 22.0 0.4 -23.2 0.4 23.3 0.4 -22.3 0.4 15.3 0.4 -18.8 0.4 17.2 0.4 -23.3 0.4 23.8 0.4 -21.3 0.4 22.2 0.4 -15.0 0.4 24.1 0.4 -23.9 0.4 28.6 0.4 -29.7 0.4 27.3 0.4 -25.8 0.4 15.3 0.4 -20.4 0.4 19.7 0.4 -25.6 0.4 24.3 0.4 -23.0 0.4 24.5 0.4 -16.8 0.4 20.4 0.4 -17.7 0.4 23.1 0.4 -25.7 0.4 26.3 0.4 -23.5 0.4 15.4 0.4 -22.0 0.4 19.8 0.4 -24.6 0.4 25.9 0.4 -26.2 0.4 25.0 0.4 -20.2 0.4 25.7 0.4 -19.9 0.4 24.8 0.4 -25.7 0.4 28.0 0.4 -27.2 0.4 17.9 0.4 -20.4 0.4 17.3 0.4 -25.8 0.4 25.0 0.4 -27.7 0.4 27.6 0.4 -18.1 0.4 20.9 0.4 -16.6 0.4 26.7 0.4 -28.3 0.4 29.1 0.4 -29.3 0.4 23.8 0.4 -24.4 0.4 16.8 0.4 -25.4 0.4 25.9 0.4 -26.5 0.4 26.2 0.4 -20.3 0.4 21.8 0.4 -16.3 0.4 21.5 0.4 -20.2 0.4 22.1 0.4 -22.4 0.4 17.7 0.4 -17.4 0.4 14.9 0.4 -25.3 0.4 24.9 0.4 -27.2 0.4 27.4 0.4 -23.9 0.4 22.9 0.4 -15.2 0.4 23.8 0.4 -23.4 0.4 26.1 0.4 -26.0 0.4 21.5 0.4 -20.3 0.4 14.3 0.4 -23.5 0.4 22.6 0.4 -28.0 0.4 28.0 0.4 -23.1 0.4 23.7 0.4 -14.9 0.4 25.3 0.4 -23.3 0.4 26.4 0.4 -30.1 0.4 25.1 0.4 -24.7 0.4 15.5 0.4 -24.2 0.4 25.5 0.4 -26.7 0.4 26.7 0.4 -22.9 0.4 23.7 0.4 -15.4 0.4 19.8 0.4 -20.2 0.4 24.1 0.4 -24.1 0.4 21.3 0.4 -20.2 0.4 11.4 0.4 -22.2 0.4 23.5 0.4 -23.3 0.4 22.4 0.4 -19.5 0.4 22.1 0.4 -18.5 0.4 27.9 0.4 -25.9 0.4 26.7 0.4 -26.9 0.4 22.4 0.4 -20.2 0.4 11.5 0.4 -24.5 0.4 25.9 0.4 -27.8 0.4 27.6 0.4 -20.1 0.4 23.2 0.4 -16.3 0.4 25.8 0.4 -28.5 0.4 27.9 0.4 -25.5 0.4 18.8 0.4 -22.4 0.4 17.8 0.4 -26.2 0.4 28.0 0.4 -27.7 0.4 26.7 0.4 -20.8 0.4 23.9 0.4 -18.4 0.4 28.6 0.4 -27.3 0.4 25.4 0.4 -26.9 0.4 17.1 0.4 -18.6 0.4 15.5 0.4 -19.6 0.4 20.2 0.4 -20.9 0.4 22.6 0.4 -17.6 0.4 19.6 0.4 -17.8 0.4 26.8 0.4 -26.1 0.4 24.0 0.4 -25.8 0.4 16.7 0.4 -20.1 0.4 18.5 0.4 -22.8 0.4 24.4 0.4 -23.0 0.4 22.8 0.4 -13.8 0.4 16.8 0.4 -20.2 0.4 22.8 0.4 -21.1 0.4 19.9 0.4 -20.7 0.4 16.2 0.4 -25.9 0.4 27.4 0.4 -29.4 0.4 26.9 0.4 -23.6 0.4 24.0 0.4 -16.2 0.4 27.0 0.4 -27.2 0.4 27.6 0.4 -26.0 0.4 23.9 0.4 -25.3 0.4 14.8 0.4 -21.0 0.4 22.7 0.4 -25.3 0.4 24.7 0.4 -20.6 0.4 21.1 0.4 -16.8 0.4 23.6 0.4 -23.1 0.4 24.4 0.4 -24.6 0.4 18.7 0.4 -20.1 0.4 16.7 0.4 -20.9 0.4 20.5 0.4 -18.8 0.4 18.9 0.4 -15.0 0.4 20.1 0.4 -18.0 0.4 20.5 0.4 -21.8 0.4 21.0 0.4 -21.2 0.4 17.8 0.4 -23.3 0.4 22.0 0.4 -27.6 0.4 28.4 0.4 -29.3 0.4 26.4 0.4 -14.4 0.4 21.5 0.4 -20.7 0.4 24.9 0.4 -24.7 0.4 21.6 0.4 -23.5 0.4 15.4 0.4 -16.6 0.4 18.1 0.4 -22.9 0.4 22.4 0.4 -21.8 0.4 22.7 0.4 -14.9 0.4 18.9 0.4 -20.2 0.4 23.1 0.4 -23.7 0.4 21.7 0.4 -20.0 0.4 13.8 0.4 -22.3 0.4 22.3 0.4 -23.6 0.4 25.7 0.4 -22.9 0.4 22.4 0.4 -15.5 0.4 19.4 0.4 -20.0 0.4 23.8 0.4 -25.3 0.4 19.4 0.4 -16.9 0.4 14.4 0.4 -23.7 0.4 22.8 0.4 -23.8 0.4 25.3 0.4 -18.6 0.4 20.7 0.4 -17.6 0.4 24.8 0.4 -26.0 0.4 25.7 0.4 -26.4 0.4 18.7 0.4 -18.8 0.4 14.9 0.4 -21.5 0.4 22.9 0.4 -20.8 0.4 23.2 0.4 -17.4 0.4 20.4 0.4 -20.2 0.4 29.9 0.4 -31.7 0.4 30.5 0.4 -27.8 0.4 13.2 0.4 -17.3 0.4 19.6 0.4 -25.2 0.4 22.9 0.4 -18.2 0.4 20.9 0.4 -15.4 0.4 20.9 0.4 -22.2 0.4 26.0 0.4 -25.1 0.4 21.0 0.4 -22.9 0.4 16.5 0.4 -22.2 0.4 21.1 0.4 -21.3 0.4 22.6 0.4 -18.0 0.4 19.2 0.4 -15.1 0.4 20.1 0.4 -21.5 0.4 25.3 0.4 -27.1 0.4 20.0 0.4 -19.5 0.4 15.1 0.4 -21.0 0.4 20.3 0.4 -23.4 0.4 23.8 0.4 -16.3 0.4 20.0 0.4 -16.4 0.4 23.2 0.4 -24.1 0.4 26.8 0.4 -28.8 0.4 17.1 0.4 -17.8 0.4 16.6 0.4 -19.0 0.4 20.8 0.4 -20.4 0.4 18.3 0.4 -14.0 0.4 23.0 0.4 -24.5 0.4 25.8 0.4 -23.7 0.4 20.1 0.4 -22.5 0.4 15.8 0.4 -21.8 0.4 23.7 0.4 -28.3 0.4 28.3 0.4 -22.3 0.4 23.0 0.4 -16.3 0.4 23.8 0.4 -22.3 0.4 25.0 0.4 -25.9 0.4 19.9 0.4 -19.0 0.4 12.2 0.4 -20.8 0.4 21.2 0.4 -21.5 0.4 22.7 0.4 -18.0 0.4 20.4 0.4 -16.8 0.4 24.2 0.4 -26.0 0.4 28.2 0.4 -29.1 0.4 21.2 0.4 -23.0 0.4 17.8 0.4 -24.4 0.4 24.3 0.4 -24.3 0.4 26.1 0.4 -18.6 0.4 21.6 0.4 -19.4 0.4 23.9 0.4 -23.3 0.4 23.0 0.4 -23.4 0.4 16.3 0.4 -24.1 0.4 22.8 0.4 -26.6 0.4 28.0 0.4 -26.3 0.4 25.6 0.4 -16.8 0.4 23.0 0.4 -21.5 0.4 25.5 0.4 -26.1 0.4 24.9 0.4 -26.0 0.4 15.7 0.4 -20.2 0.4 21.0 0.4 -27.8 0.4 28.5 0.4 -24.8 0.4 23.2 0.4 -13.8 0.4 19.2 0.4 -19.9 0.4 23.4 0.4 -22.7 0.4 19.2 0.4 -21.6 0.4 17.3 0.4 -22.7 0.4 23.9 0.4 -27.6 0.4 27.7 0.4 -23.2 0.4 22.6 0.4 -17.3 0.4 25.6 0.4 -24.4 0.4 27.3 0.4 -26.4 0.4 23.7 0.4 -24.2 0.4 14.3 0.4 -23.5 0.4 25.2 0.4 -27.3 0.4 24.8 0.4 -22.0 0.4 24.5 0.4 -14.7 0.4 17.5 0.4 -18.3 0.4 23.8 0.4 -23.9 0.4 18.9 0.4 -21.0 0.4 17.5 0.4 -21.2 0.4 19.5 0.4 -19.2 0.4 21.0 0.4 -21.1 0.4 18.7 0.4 -13.7 0.4 24.1 0.4 -22.9 0.4 27.0 0.4 -29.9 0.4 22.2 0.4 -20.6 0.4 16.5 0.4 -27.5 0.4 27.2 0.4 -28.4 0.4 25.9 0.4 -19.3 0.4 21.6 0.4 -15.8 0.4 22.7 0.4 -21.8 0.4 21.5 0.4 -21.3 0.4 16.8 0.4 -20.4 0.4 16.6 0.4 -24.4 0.4 25.8 0.4 -25.8 0.4 27.1 0.4 -22.1 0.4 23.1 0.4 -17.8 0.4 27.0 0.4 -25.8 0.4 24.8 0.4 -27.3 0.4 21.1 0.4 -25.3 0.4 21.4 0.4 -26.4 0.4 24.1 0.4 -20.6 0.4 21.4 0.4 -17.6 0.4 21.1 0.4 -17.9 0.4 23.7 0.4 -24.1 0.4 24.3 0.4 -23.2 0.4 14.9 0.4 -23.3 0.4 23.2 0.4 -27.4 0.4 27.4 0.4 -23.1 0.4 22.7 0.4 -14.3 0.4 20.5 0.4 -21.7 0.4 26.3 0.4 -24.6 0.4 22.6 0.4 -24.2 0.4 16.7 0.4 -24.2 0.4 23.7 0.4 -23.5 0.4 23.7 0.4 -20.5 0.4 20.9 0.4 -17.7 0.4 22.0 0.4 -22.1 0.4 24.5 0.4 -21.9 0.4 16.5 0.4 -15.9 0.4 14.6 0.4 -25.8 0.4 23.8 0.4 -23.2 0.4 22.1 0.4 -17.2 0.4 21.1 0.4 -17.9 0.4 23.9 0.4 -22.3 0.4 23.7 0.4 -22.5 0.4 17.4 0.4 -20.8 0.4 17.4 0.4 -22.4 0.4 22.2 0.4 -22.1 0.4 22.8 0.4 -19.7 0.4 20.7 0.4 -18.1 0.4 25.8 0.4 -24.6 0.4 23.0 0.4 -22.6 0.4 16.0 0.4 -23.8 0.4 20.9 0.4 -25.8 0.4 27.4 0.4 -25.8 0.4 25.2 0.4 -19.1 0.4 24.0 0.4 -20.9 0.4 30.2 0.4 -31.2 0.4 28.0 0.4 -27.2 0.4 17.3 0.4 -21.8 0.4 20.9 0.4 -25.2 0.4 24.7 0.4 -22.5 0.4 24.6 0.4 -18.3 0.4 21.8 0.4 -21.6 0.4 26.0 0.4 -24.7 0.4 23.6 0.4 -23.6 0.4 15.0 0.4 -18.7 0.4 18.4 0.4 -20.9 0.4 22.7 0.4 -21.4 0.4 19.7 0.4 -14.3 0.4 21.0 0.4 -21.3 0.4 26.6 0.4 -26.5 0.4 24.3 0.4 -25.3 0.4 17.5 0.4 -23.8 0.4 23.2 0.4 -29.5 0.4 28.4 0.4 -25.3 0.4 23.2 0.4 -14.2 0.4 23.3 0.4 -22.7 0.4 30.8 0.4 -28.6 0.4 22.0 0.4 -23.6 0.4 16.6 0.4 -21.6 0.4 20.0 0.4 -23.7 0.4 23.9 0.4 -21.7 0.4 20.3 0.4 -14.8 0.4 21.2 0.4 -21.2 0.4 22.5 0.4 -21.2 0.4 20.5 0.4 -21.7 0.4 15.3 0.4 -20.8 0.4 20.6 0.4 -26.3 0.4 26.5 0.4 -22.4 0.4 22.1 0.4 -12.8 0.4 20.9 0.4 -21.8 0.4 23.2 0.4 -24.5 0.4 22.9 0.4 -23.4 0.4 16.8 0.4 -24.2 0.4 23.2 0.4 -26.6 0.4 27.3 0.4 -23.3 0.4 23.8 0.4 -16.3 0.4 24.4 0.4 -21.8 0.4 25.5 0.4 -26.2 0.4 22.9 0.4 -24.4 0.4 14.5 0.4 -21.3 0.4 22.9 0.4 -27.9 0.4 29.1 0.4 -24.1 0.4 21.3 0.4 -14.3 0.4 24.8 0.4 -25.3 0.4 27.0 0.4 -26.5 0.4 24.0 0.4 -22.9 0.4 13.7 0.4 -22.2 0.4 22.0 0.4 -22.8 0.4 23.3 0.4 -19.6 0.4 18.4 0.4 -14.8 0.4 27.0 0.4 -26.8 0.4 26.9 0.4 -26.2 0.4 22.7 0.4 -23.4 0.4 17.2 0.4 -23.3 0.4 21.2 0.4 -20.3 0.4 20.9 0.4 -19.5 0.4 20.8 0.4 -16.1 0.4 24.4 0.4 -22.0 0.4 21.0 0.4 -24.2 0.4 19.6 0.4 -19.6 0.4 16.9 0.4 -21.1 0.4 21.7 0.4 -23.3 0.4 23.6 0.4 -17.7 0.4 19.3 0.4 -19.1 0.4 26.2 0.4 -26.1 0.4 27.0 0.4 -28.1 0.4 16.6 0.4 -20.6 0.4 22.6 0.4 -27.7 0.4 25.8 0.4 -23.1 0.4 22.8 0.4 -13.1 0.4 17.7 0.4 -17.6 0.4 20.4 0.4 -21.4 0.4 19.3 0.4 -19.7 0.4 14.2 0.4 -20.9 0.4 23.6 0.4 -22.5 0.4 20.1 0.4 -20.1 0.4 21.6 0.4 -15.2 0.4 20.8 0.4 -20.9 0.4 22.7 0.4 -23.9 0.4 19.7 0.4 -17.6 0.4 12.9 0.4 -22.3 0.4 23.6 0.4 -24.8 0.4 25.5 0.4 -20.4 0.4 18.9 0.4 -16.1 0.4 23.7 0.4 -23.6 0.4 23.7 0.4 -22.7 0.4 19.5 0.4 -24.0 0.4 20.3 0.4 -28.4 0.4 27.5 0.4 -25.7 0.4 24.7 0.4 -17.1 0.4 22.9 0.4 -20.7 0.4 22.7 0.4 -20.4 0.4 19.9 0.4 -22.1 0.4 17.1 0.4 -21.8 0.4 19.9 0.4 -26.4 0.4 27.1 0.4 -24.6 0.4 24.0 0.4 -15.1 0.4 20.8 0.4 -20.0 0.4 23.7 0.4 -21.5 0.4 16.9 0.4 -19.4 0.4 15.5 0.4 -24.1 0.4 23.2 0.4 -25.0 0.4 27.3 0.4 -23.0 0.4 24.0 0.4 -16.9 0.4 24.4 0.4 -23.9 0.4 27.7 0.4 -29.4 0.4 19.8 0.4 -19.3 0.4 14.6 0.4 -20.0 0.4 21.6 0.4 -23.6 0.4 22.9 0.4 -17.0 0.4 22.3 0.4 -20.1 0.4 27.0 0.4 -26.6 0.4 24.7 0.4 -26.7 0.4 17.7 0.4 -23.0 0.4 21.7 0.4 -25.6 0.4 25.2 0.4 -23.5 0.4 24.4 0.4 -14.1 0.4 22.6 0.4 -23.0 0.4 26.5 0.4 -26.0 0.4 21.7 0.4 -24.0 0.4 15.9 0.4 -18.3 0.4 19.6 0.4 -25.4 0.4 22.9 0.4 -18.9 0.4 18.1 0.4 -14.4 0.4 25.1 0.4 -23.8 0.4 27.4 0.4 -28.1 0.4 22.5 0.4 -21.8 0.4 14.7 0.4 -26.3 0.4 25.4 0.4 -27.1 0.4 30.0 0.4 -20.3 0.4 21.0 0.4 -17.7 0.4 25.4 0.4 -26.4 0.4 29.1 0.4 -28.3 0.4 20.9 0.4 -23.5 0.4 18.0 0.4 -26.7 0.4 26.0 0.4 -24.6 0.4 24.3 0.4 -17.2 0.4 22.5 0.4 -19.1 0.4 23.0 0.4 -23.3 0.4 24.6 0.4 -23.4 0.4 15.6 0.4 -20.5 0.4 18.5 0.4 -26.6 0.4 27.2 0.4 -25.6 0.4 25.6 0.4 -16.8 0.4 23.2 0.4 -22.7 0.4 27.2 0.4 -27.4 0.4 26.3 0.4 -24.5 0.4 15.6 0.4 -23.1 0.4 23.2 0.4 -30.3 0.4 28.1 0.4 -25.0 0.4 25.7 0.4 -14.7 0.4 19.2 0.4 -18.6 0.4 22.6 0.4 -21.3 0.4 20.5 0.4 -21.8 0.4 14.3 0.4 -19.8 0.4 20.5 0.4 -24.9 0.4 24.6 0.4 -24.0 0.4 24.0 0.4 -13.3 0.4 22.2 0.4 -23.7 0.4 29.1 0.4 -29.7 0.4 27.5 0.4 -27.3 0.4 14.5 0.4 -21.1 0.4 23.8 0.4 -27.6 0.4 25.4 0.4 -19.6 0.4 19.9 0.4 -16.2 0.4 21.9 0.4 -21.6 0.4 25.2 0.4 -26.7 0.4 24.5 0.4 -20.6 0.4 14.7 0.4 -26.0 0.4 25.3 0.4 -28.5 0.4 28.0 0.4 -25.0 0.4 26.3 0.4 -15.7 0.4 20.0 0.4 -20.8 0.4 23.7 0.4 -23.7 0.4 20.9 0.4 -21.8 0.4 16.8 0.4 -20.6 0.4 17.8 0.4 -20.9 0.4 21.7 0.4 -18.6 0.4 18.0 0.4 -13.0 0.4 22.9 0.4 -24.5 0.4 29.2 0.4 -27.6 0.4 22.0 0.4 -22.6 0.4 13.5 0.4 -21.3 0.4 21.2 0.4 -22.1 0.4 23.5 0.4 -18.8 0.4 17.6 0.4 -12.8 0.4 25.9 0.4 -27.1 0.4 29.0 0.4 -27.2 0.4 19.9 0.4 -22.3 0.4 14.6 0.4 -20.4 0.4 22.2 0.4 -24.8 0.4 25.2 0.4 -21.4 0.4 19.6 0.4 -15.3 0.4 26.7 0.4 -25.3 0.4 27.2 0.4 -29.7 0.4 21.4 0.4 -19.4 0.4 15.9 0.4 -23.6 0.4 22.6 0.4 -22.1 0.4 20.3 0.4 -15.1 0.4 21.8 0.4 -20.1 0.4 26.8 0.4 -24.6 0.4 25.3 0.4 -27.9 0.4 18.5 0.4 -21.7 0.4 20.5 0.4 -24.5 0.4 21.3 0.4 -20.9 0.4 23.7 0.4 -20.1 0.4 23.4 0.4 -21.2 0.4 25.1 0.4 -23.0 0.4 21.3 0.4 -20.8 0.4 15.5 0.4 -18.0 0.4 17.0 0.4 -23.3 0.4 23.8 0.4 -22.9 0.4 22.5 0.4 -15.5 0.4 21.4 0.4 -22.0 0.4 25.4 0.4 -23.7 0.4 22.1 0.4 -24.1 0.4 15.2 0.4 -19.4 0.4 20.2 0.4 -24.5 0.4 26.4 0.4 -25.4 0.4 23.0 0.4 -15.7 0.4 23.5 0.4 -22.0 0.4 24.5 0.4 -26.1 0.4 21.9 0.4 -22.3 0.4 16.3 0.4 -25.2 0.4 24.8 0.4 -28.3 0.4 28.5 0.4 -21.4 0.4 20.7 0.4 -13.8 0.4 23.5 0.4 -24.6 0.4 28.6 0.4 -28.2 0.4 23.9 0.4 -24.2 0.4 14.7 0.4 -23.1 0.4 25.0 0.4 -27.1 0.4 27.2 0.4 -20.7 0.4 20.3 0.4 -14.8 0.4 20.4 0.4 -20.1 0.4 21.9 0.4 -23.9 0.4 17.9 0.4 -20.9 0.4 19.8 0.4 -28.3 0.4 25.8 0.4 -24.2 0.4 26.8 0.4 -19.3 0.4 21.0 0.4 -16.5 0.4 22.7 0.4 -23.6 0.4 22.3 0.4 -23.1 0.4 16.8 0.4 -20.2 0.4 19.9 0.4 -27.3 0.4 26.0 0.4 -23.1 0.4 23.7 0.4 -18.3 0.4 20.4 0.4 -16.7 0.4 22.9 0.4 -25.8 0.4 25.5 0.4 -22.9 0.4 15.8 0.4 -23.6 0.4 20.7 0.4 -25.3 0.4 27.7 0.4 -25.3 0.4 22.7 0.4 -13.1 0.4 21.0 0.4 -22.2 0.4 25.3 0.4 -24.5 0.4 24.4 0.4 -25.3 0.4 15.2 0.4 -19.5 0.4 19.2 0.4 -24.3 0.4 24.3 0.4 -21.3 0.4 20.7 0.4 -13.2 0.4 22.0 0.4 -23.7 0.4 29.1 0.4 -27.8 0.4 25.6 0.4 -24.4 0.4 13.1 0.4 -21.2 0.4 21.7 0.4 -29.7 0.4 30.1 0.4 -24.9 0.4 24.4 0.4 -14.1 0.4 18.4 0.4 -18.8 0.4 25.2 0.4 -25.1 0.4 25.8 0.4 -25.5 0.4 15.3 0.4 -20.6 0.4 18.8 0.4 -21.7 0.4 22.0 0.4 -20.6 0.4 20.5 0.4 -16.2 0.4 22.1 0.4 -19.6 0.4 24.7 0.4 -26.2 0.4 26.2 0.4 -26.6 0.4 17.5 0.4 -20.7 0.4 19.3 0.4 -22.9 0.4 20.6 0.4 -19.0 0.4 20.2 0.4 -16.7 0.4 22.4 0.4 -20.8 0.4 24.1 0.4 -22.4 0.4 23.6 0.4 -26.1 0.4 17.8 0.4 -19.4 0.4 17.2 0.4 -20.0 0.4 20.4 0.4 -22.2 0.4 23.8 0.4 -20.5 0.4 21.4 0.4 -17.8 0.4 24.4 0.4 -24.6 0.4 24.8 0.4 -23.3 0.4 16.7 0.4 -19.3 0.4 16.6 0.4 -23.1 0.4 22.4 0.4 -21.8 0.4 21.0 0.4 -16.5 0.4 20.6 0.4 -18.1 0.4 27.7 0.4 -26.1 0.4 25.7 0.4 -25.7 0.4 18.1 0.4 -20.5 0.4 17.5 0.4 -21.1 0.4 19.0 0.4 -20.6 0.4 19.9 0.4 -16.8 0.4 20.0 0.4 -14.7 0.4 21.4 0.4 -22.4 0.4 24.4 0.4 -25.3 0.4 18.3 0.4 -20.1 0.4 17.3 0.4 -24.5 0.4 23.8 0.4 -26.8 0.4 24.2 0.4 -15.7 0.4 19.8 0.4 -15.8 0.4 21.1 0.4 -23.4 0.4 22.1 0.4 -19.7 0.4 16.7 0.4 -17.5 0.4 15.9 0.4 -22.4 0.4 21.6 0.4 -21.9 0.4 23.4 0.4 -20.7 0.4 21.8 0.4 -18.3 0.4 25.5 0.4 -25.4 0.4 26.2 0.4 -24.4 0.4 19.2 0.4 -24.4 0.4 20.2 0.4 -26.6 0.4 26.5 0.4 -27.1 0.4 26.3 0.4 -19.6 0.4 21.0 0.4 -16.2 0.4 21.1 0.4 -21.4 0.4 22.4 0.4 -22.0 0.4 18.5 0.4 -23.3 0.4 17.5 0.4 -21.6 0.4 21.9 0.4 -22.8 0.4 23.8 0.4 -17.8 0.4 21.2 0.4 -19.2 0.4 26.7 0.4 -25.8 0.4 23.2 0.4 -23.6 0.4 18.3 0.4 -20.0 0.4 18.5 0.4 -27.0 0.4 24.5 0.4 -25.7 0.4 27.7 0.4 -18.3 0.4 22.0 0.4 -19.3 0.4 25.7 0.4 -25.8 0.4 23.5 0.4 -24.6 0.4 17.6 0.4 -19.6 0.4 17.3 0.4 -23.9 0.4 25.2 0.4 -26.5 0.4 25.6 0.4 -15.3 0.4 21.6 0.4 -20.5 0.4 27.6 0.4 -28.3 0.4 26.8 0.4 -27.2 0.4 18.1 0.4 -22.3 0.4 20.1 0.4 -26.8 0.4 27.5 0.4 -26.4 0.4 26.0 0.4 -16.7 0.4 20.2 0.4 -20.1 0.4 21.9 0.4 -22.7 0.4 22.2 0.4 -19.9 0.4 13.8 0.4 -19.9 0.4 20.1 0.4 -25.1 0.4 26.3 0.4 -23.4 0.4 22.4 0.4 -15.7 0.4 21.2 0.4 -21.7 0.4 29.1 0.4 -27.2 0.4 23.5 0.4 -25.2 0.4 17.9 0.4 -24.7 0.4 23.3 0.4 -25.2 0.4 24.0 0.4 -23.2 0.4 22.7 0.4 -13.3 0.4 20.8 0.4 -21.3 0.4 22.9 0.4 -23.1 0.4 23.0 0.4 -22.8 0.4 14.0 0.4 -20.6 0.4 22.9 0.4 -25.4 0.4 23.8 0.4 -19.2 0.4 18.1 0.4 -12.3 0.4 23.0 0.4 -24.4 0.4 25.2 0.4 -24.3 0.4 23.4 0.4 -24.6 0.4 16.3 0.4 -23.3 0.4 22.2 0.4 -24.2 0.4 24.9 0.4 -23.9 0.4 23.1 0.4 -15.6 0.4 24.1 0.4 -22.4 0.4 25.1 0.4 -24.3 0.4 23.1 0.4 -24.9 0.4 14.2 0.4 -18.9 0.4 21.4 0.4 -22.8 0.4 20.9 0.4 -19.0 0.4 19.2 0.4 -13.2 0.4 21.5 0.4 -21.1 0.4 23.8 0.4 -24.9 0.4 22.1 0.4 -22.0 0.4 13.1 0.4 -22.0 0.4 21.6 0.4 -25.5 0.4 27.7 0.4 -25.0 0.4 23.4 0.4 -14.6 0.4 22.7 0.4 -20.4 0.4 22.5 0.4 -22.9 0.4 21.6 0.4 -22.6 0.4 14.2 0.4 -21.6 0.4 23.1 0.4 -27.7 0.4 25.0 0.4 -23.0 0.4 22.2 0.4 -12.8 0.4 20.4 0.4 -19.4 0.4 26.5 0.4 -25.5 0.4 20.5 0.4 -22.0 0.4 15.8 0.4 -18.9 0.4 17.1 0.4 -20.2 0.4 21.2 0.4 -22.2 0.4 22.1 0.4 -13.2 0.4 21.3 0.4 -22.4 0.4 28.2 0.4 -30.5 0.4 26.2 0.4 -25.7 0.4 16.2 0.4 -18.3 0.4 19.0 0.4 -22.8 0.4 21.2 0.4 -18.1 0.4 17.6 0.4 -12.4 0.4 20.3 0.4 -20.1 0.4 24.6 0.4 -25.7 0.4 22.0 0.4 -23.9 0.4 18.3 0.4 -22.8 0.4 19.9 0.4 -22.6 0.4 24.3 0.4 -23.5 0.4 23.6 0.4 -15.4 0.4 21.4 0.4 -21.2 0.4 24.8 0.4 -25.9 0.4 22.8 0.4 -23.3 0.4 18.0 0.4 -24.5" fill="none" stroke="#D95319" stroke-width="2.0" stroke-linejoin="round"/>
<path d="M250.5 2064.8l0.4 21.9 0.4 -19.3 0.4 21.0 0.4 -16.5 0.4 20.4 0.4 -17.6 0.4 19.6 0.4 -20.9 0.4 15.5 0.4 -19.0 0.4 15.5 0.4 -17.3 0.4 19.0 0.4 -16.9 0.4 16.4 0.4 -12.9 0.4 20.8 0.4 -21.8 0.4 21.1 0.4 -21.4 0.4 14.1 0.4 -20.3 0.4 20.0 0.4 -22.1 0.4 22.4 0.4 -18.4 0.4 20.1 0.4 -14.6 0.4 17.5 0.4 -18.7 0.4 19.6 0.4 -17.5 0.4 12.6 0.4 -17.2 0.4 16.9 0.4 -19.6 0.4 20.6 0.4 -19.1 0.4 19.5 0.4 -14.9 0.4 20.7 0.4 -21.2 0.4 20.2 0.4 -19.6 0.4 13.4 0.4 -20.5 0.4 19.7 0.4 -20.2 0.4 22.8 0.4 -18.8 0.4 17.6 0.4 -13.9 0.4 19.8 0.4 -21.0 0.4 18.1 0.4 -15.9 0.4 10.8 0.4 -20.3 0.4 20.7 0.4 -21.9 0.4 22.2 0.4 -14.4 0.4 19.0 0.4 -18.7 0.4 21.4 0.4 -21.0 0.4 18.8 0.4 -16.8 0.4 12.6 0.4 -19.3 0.4 16.6 0.4 -16.0 0.4 17.7 0.4 -11.4 0.4 15.7 0.4 -15.5 0.4 18.3 0.4 -18.3 0.4 15.7 0.4 -17.8 0.4 15.7 0.4 -20.0 0.4 17.3 0.4 -16.8 0.4 18.7 0.4 -14.2 0.4 19.2 0.4 -17.7 0.4 19.7 0.4 -20.9 0.4 17.1 0.4 -19.2 0.4 16.7 0.4 -21.7 0.4 20.7 0.4 -17.8 0.4 16.4 0.4 -13.1 0.4 22.7 0.4 -22.1 0.4 22.3 0.4 -22.3 0.4 16.1 0.4 -17.1 0.4 16.2 0.4 -21.9 0.4 19.6 0.4 -17.9 0.4 19.2 0.4 -13.5 0.4 17.1 0.4 -18.2 0.4 20.4 0.4 -18.1 0.4 13.4 0.4 -20.5 0.4 17.7 0.4 -21.0 0.4 23.6 0.4 -20.8 0.4 18.7 0.4 -13.4 0.4 19.4 0.4 -19.1 0.4 19.2 0.4 -18.7 0.4 14.6 0.4 -18.5 0.4 17.8 0.4 -23.9 0.4 23.8 0.4 -20.4 0.4 19.6 0.4 -12.3 0.4 20.5 0.4 -22.3 0.4 22.5 0.4 -21.5 0.4 12.4 0.4 -16.4 0.4 17.3 0.4 -21.2 0.4 20.1 0.4 -16.0 0.4 16.1 0.4 -11.4 0.4 21.8 0.4 -22.2 0.4 22.8 0.4 -23.6 0.4 15.1 0.4 -17.9 0.4 18.3 0.4 -23.2 0.4 21.0 0.4 -17.9 0.4 17.9 0.4 -12.4 0.4 19.6 0.4 -21.2 0.4 21.3 0.4 -20.6 0.4 14.8 0.4 -19.9 0.4 19.1 0.4 -21.6 0.4 22.3 0.4 -19.7 0.4 18.8 0.4 -11.6 0.4 21.6 0.4 -22.3 0.4 22.7 0.4 -24.1 0.4 16.2 0.4 -18.2 0.4 17.4 0.4 -21.5 0.4 20.3 0.4 -17.8 0.4 19.3 0.4 -14.5 0.4 18.5 0.4 -19.7 0.4 22.4 0.4 -22.4 0.4 16.0 0.4 -17.4 0.4 16.9 0.4 -20.9 0.4 19.1 0.4 -18.8 0.4 20.2 0.4 -15.3 0.4 21.6 0.4 -20.0 0.4 18.7 0.4 -17.9 0.4 14.8 0.4 -18.1 0.4 14.4 0.4 -19.4 0.4 19.9 0.4 -19.7 0.4 20.2 0.4 -14.3 0.4 21.1 0.4 -21.1 0.4 23.1 0.4 -22.2 0.4 18.0 0.4 -18.1 0.4 13.5 0.4 -19.0 0.4 19.5 0.4 -18.4 0.4 18.9 0.4 -14.2 0.4 18.5 0.4 -18.3 0.4 19.6 0.4 -20.3 0.4 16.1 0.4 -15.8 0.4 12.7 0.4 -19.9 0.4 22.1 0.4 -18.8 0.4 16.6 0.4 -11.6 0.4 19.8 0.4 -20.2 0.4 21.9 0.4 -22.4 0.4 17.4 0.4 -17.6 0.4 12.9 0.4 -17.4 0.4 17.2 0.4 -16.8 0.4 18.5 0.4 -13.8 0.4 18.0 0.4 -19.0 0.4 24.0 0.4 -22.7 0.4 17.3 0.4 -18.7 0.4 13.9 0.4 -17.6 0.4 18.5 0.4 -20.3 0.4 20.8 0.4 -14.2 0.4 18.3 0.4 -17.7 0.4 18.8 0.4 -20.4 0.4 18.7 0.4 -16.6 0.4 11.1 0.4 -21.6 0.4 24.1 0.4 -21.8 0.4 20.1 0.4 -12.5 0.4 16.9 0.4 -16.8 0.4 16.9 0.4 -17.0 0.4 17.6 0.4 -18.5 0.4 14.0 0.4 -17.8 0.4 18.8 0.4 -20.6 0.4 19.7 0.4 -13.3 0.4 18.2 0.4 -19.1 0.4 22.7 0.4 -22.7 0.4 21.8 0.4 -19.9 0.4 13.0 0.4 -18.8 0.4 17.6 0.4 -18.7 0.4 18.7 0.4 -15.1 0.4 20.4 0.4 -16.9 0.4 19.9 0.4 -21.6 0.4 19.5 0.4 -18.8 0.4 13.1 0.4 -16.5 0.4 17.4 0.4 -18.5 0.4 17.7 0.4 -16.2 0.4 17.5 0.4 -15.1 0.4 19.4 0.4 -18.0 0.4 17.1 0.4 -17.0 0.4 12.3 0.4 -18.9 0.4 18.5 0.4 -23.5 0.4 23.0 0.4 -16.5 0.4 16.6 0.4 -13.9 0.4 22.9 0.4 -21.9 0.4 21.6 0.4 -20.5 0.4 16.0 0.4 -17.7 0.4 14.9 0.4 -18.7 0.4 18.5 0.4 -16.7 0.4 16.9 0.4 -14.1 0.4 20.1 0.4 -20.0 0.4 24.5 0.4 -24.9 0.4 19.6 0.4 -18.6 0.4 12.0 0.4 -17.5 0.4 19.7 0.4 -20.0 0.4 19.1 0.4 -13.2 0.4 18.0 0.4 -17.1 0.4 20.1 0.4 -21.6 0.4 19.4 0.4 -17.3 0.4 11.9 0.4 -18.5 0.4 19.4 0.4 -20.5 0.4 19.0 0.4 -16.0 0.4 19.8 0.4 -17.0 0.4 20.9 0.4 -19.3 0.4 18.8 0.4 -19.9 0.4 12.1 0.4 -17.1 0.4 17.1 0.4 -18.6 0.4 21.6 0.4 -19.2 0.4 17.3 0.4 -13.6 0.4 21.1 0.4 -19.5 0.4 22.1 0.4 -21.0 0.4 13.3 0.4 -20.2 0.4 18.0 0.4 -22.2 0.4 22.5 0.4 -20.4 0.4 19.7 0.4 -12.4 0.4 18.2 0.4 -17.5 0.4 20.2 0.4 -20.5 0.4 15.5 0.4 -16.7 0.4 14.0 0.4 -18.9 0.4 18.9 0.4 -18.0 0.4 16.4 0.4 -10.8 0.4 17.0 0.4 -17.2 0.4 19.6 0.4 -20.0 0.4 18.1 0.4 -16.6 0.4 10.1 0.4 -17.7 0.4 19.3 0.4 -18.4 0.4 18.0 0.4 -16.4 0.4 20.9 0.4 -16.9 0.4 20.4 0.4 -20.6 0.4 19.3 0.4 -20.8 0.4 12.7 0.4 -16.0 0.4 17.4 0.4 -19.6 0.4 19.1 0.4 -14.3 0.4 16.7 0.4 -14.0 0.4 19.2 0.4 -20.7 0.4 22.6 0.4 -21.0 0.4 14.1 0.4 -21.5 0.4 18.1 0.4 -20.0 0.4 21.7 0.4 -17.3 0.4 18.7 0.4 -14.2 0.4 20.9 0.4 -20.1 0.4 20.1 0.4 -20.7 0.4 13.6 0.4 -18.7 0.4 17.7 0.4 -20.8 0.4 18.7 0.4 -16.2 0.4 18.4 0.4 -12.4 0.4 19.0 0.4 -19.2 0.4 17.1 0.4 -17.6 0.4 14.7 0.4 -17.9 0.4 17.0 0.4 -21.5 0.4 19.3 0.4 -15.8 0.4 18.4 0.4 -15.0 0.4 20.6 0.4 -19.7 0.4 22.1 0.4 -21.3 0.4 12.8 0.4 -16.6 0.4 15.4 0.4 -20.6 0.4 21.0 0.4 -17.2 0.4 18.4 0.4 -13.7 0.4 21.8 0.4 -22.1 0.4 22.4 0.4 -21.9 0.4 16.1 0.4 -22.7 0.4 18.8 0.4 -21.9 0.4 21.8 0.4 -19.4 0.4 20.4 0.4 -14.7 0.4 19.7 0.4 -17.4 0.4 17.2 0.4 -17.7 0.4 12.0 0.4 -15.3 0.4 15.6 0.4 -19.1 0.4 20.6 0.4 -17.9 0.4 17.4 0.4 -12.7 0.4 20.5 0.4 -20.8 0.4 19.1 0.4 -19.4 0.4 12.6 0.4 -17.4 0.4 18.0 0.4 -21.7 0.4 22.3 0.4 -16.7 0.4 18.9 0.4 -17.5 0.4 23.8 0.4 -21.2 0.4 20.9 0.4 -21.8 0.4 13.5 0.4 -20.3 0.4 18.2 0.4 -21.1 0.4 22.0 0.4 -15.8 0.4 20.4 0.4 -18.6 0.4 22.9 0.4 -21.5 0.4 19.3 0.4 -21.0 0.4 13.6 0.4 -21.6 0.4 23.7 0.4 -23.6 0.4 21.2 0.4 -12.6 0.4 18.4 0.4 -17.0 0.4 20.3 0.4 -20.8 0.4 17.7 0.4 -19.0 0.4 12.9 0.4 -20.6 0.4 21.0 0.4 -21.2 0.4 22.5 0.4 -13.0 0.4 18.4 0.4 -19.7 0.4 20.4 0.4 -19.6 0.4 16.7 0.4 -20.3 0.4 15.9 0.4 -17.8 0.4 19.4 0.4 -20.1 0.4 18.6 0.4 -12.5 0.4 17.0 0.4 -16.5 0.4 18.9 0.4 -19.2 0.4 13.9 0.4 -19.3 0.4 17.7 0.4 -20.2 0.4 21.2 0.4 -20.3 0.4 21.1 0.4 -14.9 0.4 18.8 0.4 -17.0 0.4 18.8 0.4 -18.7 0.4 11.5 0.4 -16.8 0.4 17.1 0.4 -20.1 0.4 19.4 0.4 -16.6 0.4 19.4 0.4 -14.4 0.4 19.8 0.4 -20.1 0.4 19.6 0.4 -19.1 0.4 12.9 0.4 -20.9 0.4 21.7 0.4 -25.4 0.4 24.2 0.4 -19.1 0.4 20.2 0.4 -13.9 0.4 17.7 0.4 -17.5 0.4 18.4 0.4 -18.0 0.4 11.6 0.4 -18.2 0.4 17.9 0.4 -23.3 0.4 23.6 0.4 -15.2 0.4 17.0 0.4 -14.0 0.4 19.1 0.4 -18.6 0.4 18.7 0.4 -20.3 0.4 12.2 0.4 -19.7 0.4 19.0 0.4 -20.5 0.4 24.6 0.4 -17.3 0.4 17.0 0.4 -13.8 0.4 19.0 0.4 -19.2 0.4 17.3 0.4 -17.6 0.4 13.0 0.4 -19.6 0.4 19.9 0.4 -18.1 0.4 18.5 0.4 -13.0 0.4 15.7 0.4 -16.2 0.4 20.7 0.4 -23.2 0.4 19.1 0.4 -17.0 0.4 13.3 0.4 -21.4 0.4 20.4 0.4 -22.6 0.4 23.1 0.4 -12.7 0.4 16.8 0.4 -17.5 0.4 20.9 0.4 -22.4 0.4 19.3 0.4 -17.4 0.4 12.7 0.4 -17.9 0.4 19.4 0.4 -19.3 0.4 17.4 0.4 -11.6 0.4 17.6 0.4 -17.7 0.4 21.8 0.4 -23.3 0.4 17.4 0.4 -18.2 0.4 14.5 0.4 -19.1 0.4 19.4 0.4 -19.5 0.4 19.7 0.4 -13.5 0.4 17.0 0.4 -17.0 0.4 18.4 0.4 -17.3 0.4 13.5 0.4 -14.6 0.4 12.9 0.4 -17.4 0.4 17.8 0.4 -18.8 0.4 18.1 0.4 -11.7 0.4 20.0 0.4 -20.7 0.4 23.3 0.4 -24.1 0.4 17.6 0.4 -18.8 0.4 14.5 0.4 -18.2 0.4 18.7 0.4 -17.8 0.4 18.0 0.4 -11.3 0.4 16.3 0.4 -17.9 0.4 17.6 0.4 -18.8 0.4 15.4 0.4 -17.9 0.4 14.9 0.4 -22.5 0.4 22.9 0.4 -19.0 0.4 19.6 0.4 -12.3 0.4 17.4 0.4 -18.6 0.4 20.0 0.4 -19.9 0.4 18.2 0.4 -19.2 0.4 15.4 0.4 -24.3 0.4 24.3 0.4 -23.1 0.4 22.5 0.4 -12.2 0.4 19.4 0.4 -18.2 0.4 18.5 0.4 -21.4 0.4 17.3 0.4 -19.1 0.4 15.0 0.4 -20.2 0.4 21.6 0.4 -17.7 0.4 16.0 0.4 -12.9 0.4 21.7 0.4 -21.9 0.4 23.1 0.4 -21.9 0.4 17.0 0.4 -18.5 0.4 14.0 0.4 -19.4 0.4 21.3 0.4 -20.1 0.4 18.5 0.4 -11.3 0.4 17.3 0.4 -18.9 0.4 21.6 0.4 -22.4 0.4 16.5 0.4 -16.4 0.4 13.0 0.4 -17.1 0.4 18.3 0.4 -19.7 0.4 19.0 0.4 -14.0 0.4 18.7 0.4 -18.7 0.4 22.2 0.4 -22.6 0.4 18.6 0.4 -17.9 0.4 13.3 0.4 -17.1 0.4 17.9 0.4 -19.2 0.4 18.7 0.4 -12.6 0.4 15.5 0.4 -15.9 0.4 21.1 0.4 -22.0 0.4 19.0 0.4 -17.4 0.4 13.1 0.4 -19.6 0.4 18.8 0.4 -18.7 0.4 18.9 0.4 -14.7 0.4 17.6 0.4 -15.5 0.4 17.3 0.4 -18.3 0.4 16.9 0.4 -17.0 0.4 13.9 0.4 -21.1 0.4 20.9 0.4 -23.1 0.4 24.5 0.4 -16.6 0.4 16.2 0.4 -12.8 0.4 19.1 0.4 -20.5 0.4 19.1 0.4 -18.9 0.4 12.9 0.4 -19.5 0.4 20.1 0.4 -19.0 0.4 17.9 0.4 -13.0 0.4 17.4 0.4 -15.0 0.4 18.1 0.4 -21.2 0.4 20.4 0.4 -18.5 0.4 12.3 0.4 -17.4 0.4 16.2 0.4 -15.6 0.4 16.1 0.4 -13.9 0.4 17.3 0.4 -16.1 0.4 20.6 0.4 -20.4 0.4 20.3 0.4 -20.0 0.4 12.5 0.4 -17.9 0.4 20.1 0.4 -22.1 0.4 19.5 0.4 -13.3 0.4 18.0 0.4 -16.9 0.4 20.6 0.4 -21.0 0.4 18.7 0.4 -17.8 0.4 11.5 0.4 -16.8 0.4 16.3 0.4 -16.3 0.4 16.3 0.4 -13.3 0.4 19.3 0.4 -18.1 0.4 23.1 0.4 -22.8 0.4 18.7 0.4 -19.1 0.4 13.5 0.4 -21.6 0.4 21.7 0.4 -24.5 0.4 24.9 0.4 -15.0 0.4 17.3 0.4 -17.2 0.4 20.5 0.4 -20.1 0.4 18.6 0.4 -17.4 0.4 13.4 0.4 -20.0 0.4 18.3 0.4 -20.2 0.4 22.5 0.4 -16.0 0.4 19.4 0.4 -17.2 0.4 20.9 0.4 -22.4 0.4 20.9 0.4 -20.6 0.4 13.3 0.4 -20.8 0.4 19.4 0.4 -18.6 0.4 22.4 0.4 -17.2 0.4 20.8 0.4 -19.4 0.4 24.4 0.4 -23.7 0.4 21.0 0.4 -20.1 0.4 13.8 0.4 -20.9 0.4 19.6 0.4 -19.1 0.4 19.0 0.4 -12.2 0.4 18.0 0.4 -19.4 0.4 21.8 0.4 -21.4 0.4 17.9 0.4 -20.2 0.4 16.2 0.4 -21.0 0.4 20.0 0.4 -19.5 0.4 18.1 0.4 -12.4 0.4 17.2 0.4 -17.0 0.4 18.6 0.4 -17.1 0.4 14.1 0.4 -15.8 0.4 13.1 0.4 -18.9 0.4 19.6 0.4 -20.4 0.4 19.4 0.4 -10.7 0.4 18.1 0.4 -19.0 0.4 22.5 0.4 -22.7 0.4 18.4 0.4 -17.9 0.4 13.4 0.4 -18.0 0.4 16.8 0.4 -16.4 0.4 17.7 0.4 -13.2 0.4 16.3 0.4 -17.7 0.4 19.0 0.4 -20.0 0.4 20.2 0.4 -21.2 0.4 15.6 0.4 -21.8 0.4 23.0 0.4 -21.8 0.4 22.3 0.4 -14.2 0.4 19.2 0.4 -19.2 0.4 21.2 0.4 -21.4 0.4 17.7 0.4 -19.5 0.4 14.3 0.4 -22.2 0.4 21.4 0.4 -21.4 0.4 22.6 0.4 -13.5 0.4 18.5 0.4 -17.2 0.4 22.9 0.4 -24.7 0.4 17.4 0.4 -15.4 0.4 12.5 0.4 -19.5 0.4 17.7 0.4 -17.0 0.4 17.4 0.4 -12.9 0.4 17.7 0.4 -17.8 0.4 19.8 0.4 -18.6 0.4 17.1 0.4 -17.1 0.4 12.6 0.4 -21.8 0.4 21.1 0.4 -22.2 0.4 24.0 0.4 -16.4 0.4 17.4 0.4 -14.5 0.4 16.4 0.4 -17.7 0.4 17.7 0.4 -17.8 0.4 13.2 0.4 -15.0 0.4 15.5 0.4 -17.9 0.4 18.9 0.4 -17.8 0.4 19.8 0.4 -17.2 0.4 18.6 0.4 -15.7 0.4 17.2 0.4 -16.8 0.4 10.8 0.4 -17.0 0.4 15.2 0.4 -16.6 0.4 19.8 0.4 -16.2 0.4 15.6 0.4 -12.3 0.4 20.6 0.4 -22.2 0.4 23.4 0.4 -22.8 0.4 11.7 0.4 -17.6 0.4 19.2 0.4 -20.2 0.4 18.3 0.4 -15.3 0.4 17.9 0.4 -13.4 0.4 21.1 0.4 -22.9 0.4 23.5 0.4 -22.8 0.4 14.6 0.4 -20.5 0.4 19.5 0.4 -21.3 0.4 20.8 0.4 -17.7 0.4 18.2 0.4 -15.0 0.4 23.1 0.4 -21.8 0.4 21.9 0.4 -22.6 0.4 13.3 0.4 -16.5 0.4 17.5 0.4 -22.3 0.4 21.5 0.4 -16.4 0.4 19.0 0.4 -16.7 0.4 20.2 0.4 -18.9 0.4 17.9 0.4 -18.0 0.4 14.1 0.4 -19.1 0.4 18.6 0.4 -19.7 0.4 19.6 0.4 -16.6 0.4 18.5 0.4 -15.5 0.4 20.8 0.4 -21.2 0.4 20.0 0.4 -18.2 0.4 13.0 0.4 -17.6 0.4 16.7 0.4 -16.2 0.4 16.3 0.4 -15.3 0.4 20.2 0.4 -17.5 0.4 20.9 0.4 -20.9 0.4 21.1 0.4 -22.3 0.4 14.0 0.4 -20.1 0.4 19.2 0.4 -18.8 0.4 20.3 0.4 -13.1 0.4 17.4 0.4 -18.5 0.4 20.2 0.4 -19.6 0.4 15.3 0.4 -16.0 0.4 12.1 0.4 -16.9 0.4 19.4 0.4 -17.2 0.4 15.8 0.4 -12.4 0.4 16.2 0.4 -16.7 0.4 20.0 0.4 -19.6 0.4 14.9 0.4 -15.9 0.4 13.7 0.4 -17.6 0.4 17.2 0.4 -17.6 0.4 18.5 0.4 -12.5 0.4 18.9 0.4 -19.7 0.4 20.8 0.4 -21.1 0.4 14.6 0.4 -21.2 0.4 20.2 0.4 -22.5 0.4 22.4 0.4 -19.2 0.4 20.5 0.4 -14.9 0.4 24.5 0.4 -24.3 0.4 21.6 0.4 -21.8 0.4 13.6 0.4 -20.3 0.4 20.3 0.4 -21.8 0.4 22.9 0.4 -18.8 0.4 20.0 0.4 -16.9 0.4 20.5 0.4 -19.6 0.4 18.5 0.4 -16.4 0.4 11.7 0.4 -21.5 0.4 22.3 0.4 -24.4 0.4 24.4 0.4 -16.9 0.4 19.2 0.4 -14.9 0.4 17.8 0.4 -18.9 0.4 19.0 0.4 -18.6 0.4 12.9 0.4 -20.3 0.4 19.1 0.4 -20.3 0.4 21.7 0.4 -15.2 0.4 17.6 0.4 -16.3 0.4 24.6 0.4 -22.3 0.4 15.6 0.4 -17.7 0.4 13.3 0.4 -20.0 0.4 19.8 0.4 -20.2 0.4 19.2 0.4 -13.4 0.4 20.4 0.4 -18.7 0.4 22.8 0.4 -21.9 0.4 16.3 0.4 -17.6 0.4 12.0 0.4 -21.8 0.4 21.6 0.4 -19.7 0.4 20.5 0.4 -10.6 0.4 18.7 0.4 -21.7 0.4 24.3 0.4 -22.9 0.4 17.0 0.4 -17.4 0.4 13.9 0.4 -21.4 0.4 20.8 0.4 -21.5 0.4 22.9 0.4 -14.3 0.4 17.0 0.4 -17.7 0.4 20.0 0.4 -19.9 0.4 16.2 0.4 -15.3 0.4 13.3 0.4 -19.2 0.4 17.8 0.4 -18.0 0.4 19.0 0.4 -14.8 0.4 19.8 0.4 -17.7 0.4 19.7 0.4 -21.1 0.4 17.1 0.4 -18.2 0.4 15.0 0.4 -21.5 0.4 21.3 0.4 -20.7 0.4 22.6 0.4 -14.4 0.4 16.5 0.4 -17.5 0.4 20.3 0.4 -19.0 0.4 16.9 0.4 -17.3 0.4 13.0 0.4 -18.4 0.4 19.7 0.4 -19.5 0.4 18.6 0.4 -15.3 0.4 17.8 0.4 -15.4 0.4 19.6 0.4 -22.1 0.4 19.5 0.4 -19.1 0.4 13.1 0.4 -20.1 0.4 22.0 0.4 -20.1 0.4 17.9 0.4 -13.0 0.4 15.5 0.4 -13.9 0.4 18.4 0.4 -18.2 0.4 16.9 0.4 -18.2 0.4 15.2 0.4 -19.3 0.4 15.9 0.4 -17.2 0.4 20.1 0.4 -13.8 0.4 15.4 0.4 -15.3 0.4 21.5 0.4 -22.0 0.4 19.0 0.4 -18.6 0.4 11.1 0.4 -18.2 0.4 19.2 0.4 -18.8 0.4 19.0 0.4 -14.4 0.4 19.7 0.4 -18.9 0.4 23.4 0.4 -21.3 0.4 19.8 0.4 -21.4 0.4 14.4 0.4 -19.6 0.4 18.8 0.4 -20.8 0.4 21.3 0.4 -15.7 0.4 16.3 0.4 -14.2 0.4 21.4 0.4 -23.0 0.4 20.0 0.4 -17.8 0.4 12.1 0.4 -19.1 0.4 18.9 0.4 -20.3 0.4 21.8 0.4 -16.8 0.4 17.0 0.4 -13.8 0.4 23.9 0.4 -23.2 0.4 22.5 0.4 -23.7 0.4 12.7 0.4 -16.9 0.4 18.0 0.4 -22.1 0.4 23.4 0.4 -19.9 0.4 18.3 0.4 -11.7 0.4 18.9 0.4 -20.1 0.4 19.4 0.4 -19.1 0.4 14.3 0.4 -16.0 0.4 14.9 0.4 -20.2 0.4 19.4 0.4 -16.8 0.4 16.6 0.4 -13.8 0.4 22.7 0.4 -19.7 0.4 20.4 0.4 -21.4 0.4 14.7 0.4 -19.3 0.4 16.0 0.4 -22.5 0.4 21.8 0.4 -18.6 0.4 20.6 0.4 -12.2 0.4 18.9 0.4 -18.3 0.4 20.5 0.4 -21.8 0.4 18.5 0.4 -19.6 0.4 14.2 0.4 -20.3 0.4 21.7 0.4 -21.9 0.4 20.0 0.4 -12.1 0.4 16.3 0.4 -15.7 0.4 20.5 0.4 -21.7 0.4 18.4 0.4 -19.2 0.4 14.3 0.4 -18.6 0.4 19.1 0.4 -19.7 0.4 17.3 0.4 -13.7 0.4 17.9 0.4 -14.9 0.4 20.3 0.4 -21.3 0.4 21.4 0.4 -19.3 0.4 10.4 0.4 -20.5 0.4 21.3 0.4 -21.9 0.4 21.8 0.4 -16.5 0.4 17.8 0.4 -14.3 0.4 21.5 0.4 -20.1 0.4 18.7 0.4 -20.5 0.4 14.5 0.4 -19.6 0.4 18.6 0.4 -21.9 0.4 21.7 0.4 -18.5 0.4 19.2 0.4 -13.4 0.4 19.6 0.4 -20.4 0.4 19.3 0.4 -18.5 0.4 13.4 0.4 -15.3 0.4 15.8 0.4 -18.8 0.4 18.1 0.4 -16.1 0.4 14.0 0.4 -11.9 0.4 19.2 0.4 -19.5 0.4 20.6 0.4 -17.8 0.4 12.2 0.4 -17.5 0.4 16.6 0.4 -19.6 0.4 21.5 0.4 -19.1 0.4 18.9 0.4 -13.7 0.4 18.0 0.4 -19.4 0.4 19.5 0.4 -18.9 0.4 14.6 0.4 -16.0 0.4 13.7 0.4 -18.1 0.4 19.4 0.4 -17.7 0.4 17.6 0.4 -13.3 0.4 16.5 0.4 -16.9 0.4 18.5 0.4 -18.1 0.4 12.7 0.4 -16.1 0.4 16.2 0.4 -20.2 0.4 19.2 0.4 -17.7 0.4 18.2 0.4 -12.2 0.4 20.2 0.4 -20.0 0.4 23.4 0.4 -23.5 0.4 13.9 0.4 -18.8 0.4 17.1 0.4 -20.8 0.4 20.6 0.4 -16.7 0.4 17.1 0.4 -14.7 0.4 22.9 0.4 -19.8 0.4 18.7 0.4 -20.5 0.4 12.4 0.4 -19.2 0.4 20.0 0.4 -24.2 0.4 24.6 0.4 -18.3 0.4 20.3 0.4 -13.9 0.4 17.3 0.4 -18.7 0.4 17.3 0.4 -18.9 0.4 14.9 0.4 -17.4 0.4 18.1 0.4 -22.3 0.4 23.4 0.4 -15.7 0.4 17.1 0.4 -15.2 0.4 20.3 0.4 -22.4 0.4 18.0 0.4 -18.2 0.4 13.3 0.4 -18.7 0.4 19.7 0.4 -17.6 0.4 18.6 0.4 -14.7 0.4 17.1 0.4 -17.4 0.4 19.2 0.4 -17.9 0.4 15.0 0.4 -17.6 0.4 15.4 0.4 -23.8 0.4 24.2 0.4 -23.0 0.4 21.1 0.4 -11.0 0.4 21.7 0.4 -23.0 0.4 24.6 0.4 -23.8 0.4 15.0 0.4 -17.5 0.4 13.5 0.4 -17.6 0.4 20.6 0.4 -17.0 0.4 15.9 0.4 -12.9 0.4 21.8 0.4 -22.0 0.4 22.6 0.4 -23.2 0.4 13.6 0.4 -19.6 0.4 19.6 0.4 -21.6 0.4 21.7 0.4 -16.5 0.4 19.2 0.4 -16.6 0.4 20.4 0.4 -20.8 0.4 19.1 0.4 -18.6 0.4 12.6 0.4 -16.3 0.4 16.2 0.4 -16.5 0.4 18.5 0.4 -15.4 0.4 19.7 0.4 -18.2 0.4 23.6 0.4 -24.0 0.4 20.3 0.4 -18.8 0.4 12.9 0.4 -22.9 0.4 21.6 0.4 -22.0 0.4 22.5 0.4 -14.7 0.4 17.3 0.4 -14.6 0.4 18.8 0.4 -21.3 0.4 19.0 0.4 -16.4 0.4 10.9 0.4 -17.0 0.4 18.5 0.4 -18.1 0.4 17.7 0.4 -15.2 0.4 20.8 0.4 -19.1 0.4 23.5 0.4 -21.4 0.4 18.1 0.4 -19.9 0.4 12.8 0.4 -17.8 0.4 18.5 0.4 -19.0 0.4 17.4 0.4 -10.9 0.4 15.2 0.4 -18.0 0.4 20.8 0.4 -19.4 0.4 18.0 0.4 -19.0 0.4 15.0 0.4 -16.5 0.4 17.9 0.4 -22.1 0.4 19.0 0.4 -14.7 0.4 19.0 0.4 -15.7 0.4 22.7 0.4 -23.7 0.4 22.1 0.4 -22.7 0.4 15.2 0.4 -19.9 0.4 18.3 0.4 -23.4 0.4 23.5 0.4 -17.5 0.4 19.0 0.4 -12.4 0.4 16.8 0.4 -17.0 0.4 17.5 0.4 -18.4 0.4 13.3 0.4 -18.0 0.4 17.0 0.4 -21.1 0.4 22.0 0.4 -17.9 0.4 18.5 0.4 -15.0 0.4 19.8 0.4 -18.6 0.4 19.6 0.4 -21.0 0.4 17.6 0.4 -19.6 0.4 15.5 0.4 -19.3 0.4 18.8 0.4 -18.0 0.4 18.9 0.4 -12.8 0.4 18.1 0.4 -18.2 0.4 22.0 0.4 -20.7 0.4 17.0 0.4 -18.1 0.4 13.5 0.4 -18.3 0.4 18.1 0.4 -19.3 0.4 17.9 0.4 -13.6 0.4 16.6 0.4 -15.5 0.4 17.8 0.4 -18.3 0.4 18.4 0.4 -18.9 0.4 13.2 0.4 -19.2 0.4 21.1 0.4 -23.7 0.4 22.5 0.4 -18.6 0.4 17.5 0.4 -11.2 0.4 19.3 0.4 -19.1 0.4 21.3 0.4 -20.9 0.4 14.6 0.4 -19.8 0.4 18.0 0.4 -25.0 0.4 25.5 0.4 -22.1 0.4 21.6 0.4 -14.3 0.4 19.8 0.4 -20.1 0.4 22.3 0.4 -20.8 0.4 17.0 0.4 -18.7 0.4 14.7 0.4 -19.4 0.4 20.6 0.4 -19.4 0.4 17.8 0.4 -12.3 0.4 17.2 0.4 -18.6 0.4 22.4 0.4 -21.2 0.4 18.4 0.4 -18.4 0.4 11.1 0.4 -18.1 0.4 17.7 0.4 -17.7 0.4 18.7 0.4 -15.2 0.4 18.6 0.4 -16.2 0.4 23.7 0.4 -24.2 0.4 22.5 0.4 -21.3 0.4 14.6 0.4 -23.3 0.4 22.4 0.4 -23.8 0.4 23.9 0.4 -18.6 0.4 18.0 0.4 -14.7 0.4 20.2 0.4 -19.9 0.4 20.3 0.4 -19.5 0.4 13.6 0.4 -17.4 0.4 14.5 0.4 -18.3 0.4 20.6 0.4 -15.6 0.4 16.5 0.4 -13.9 0.4 19.3 0.4 -19.1 0.4 19.6 0.4 -21.1 0.4 15.0 0.4 -16.9 0.4 17.5 0.4 -23.2 0.4 21.9 0.4 -18.9 0.4 18.2 0.4 -12.5 0.4 19.9 0.4 -20.6 0.4 20.1 0.4 -19.0 0.4 12.6 0.4 -16.8 0.4 17.4 0.4 -21.0 0.4 20.9 0.4 -17.8 0.4 17.3 0.4 -13.7 0.4 19.0 0.4 -19.0 0.4 20.6 0.4 -18.8 0.4 12.7 0.4 -16.9 0.4 16.3 0.4 -19.1 0.4 19.1 0.4 -14.9 0.4 14.9 0.4 -12.5 0.4 21.5 0.4 -22.4 0.4 21.3 0.4 -20.2 0.4 13.4 0.4 -18.2 0.4 17.4 0.4 -19.9 0.4 20.4 0.4 -15.0 0.4 16.9 0.4 -14.6 0.4 21.8 0.4 -23.3 0.4 20.4 0.4 -20.1 0.4 12.2 0.4 -19.0 0.4 20.4 0.4 -20.9 0.4 20.1 0.4 -15.4 0.4 16.8 0.4 -15.2 0.4 23.0 0.4 -22.3 0.4 21.9 0.4 -20.9 0.4 11.9 0.4 -19.1 0.4 19.7 0.4 -21.0 0.4 19.7 0.4 -13.5 0.4 17.4 0.4 -15.4 0.4 19.6 0.4 -20.0 0.4 17.7 0.4 -17.4 0.4 12.6 0.4 -19.8 0.4 20.8 0.4 -19.8 0.4 19.6 0.4 -13.1 0.4 17.9 0.4 -18.7 0.4 19.8 0.4 -19.6 0.4 18.1 0.4 -19.6 0.4 14.0 0.4 -21.0 0.4 22.5 0.4 -19.9 0.4 19.8 0.4 -13.7 0.4 20.1 0.4 -19.5 0.4 20.4 0.4 -22.6 0.4 18.4 0.4 -19.9 0.4 15.9 0.4 -21.4 0.4 20.9 0.4 -18.1 0.4 17.8 0.4 -14.7 0.4 20.6 0.4 -19.7 0.4 23.1 0.4 -21.8 0.4 13.9 0.4 -17.3 0.4 16.6 0.4 -20.2 0.4 18.8 0.4 -15.1 0.4 15.4 0.4 -12.7 0.4 21.0 0.4 -21.2 0.4 21.5 0.4 -21.3 0.4 12.6 0.4 -19.2 0.4 21.8 0.4 -24.5 0.4 23.5 0.4 -18.9 0.4 20.0 0.4 -14.9 0.4 20.7 0.4 -21.1 0.4 22.8 0.4 -22.1 0.4 11.5 0.4 -16.3 0.4 18.1 0.4 -20.7 0.4 21.1 0.4 -15.6 0.4 14.6 0.4 -13.4 0.4 18.1 0.4 -17.5 0.4 19.2 0.4 -18.6 0.4 11.3 0.4 -19.8 0.4 19.3 0.4 -20.9 0.4 23.6 0.4 -16.8 0.4 18.2 0.4 -17.2 0.4 21.6 0.4 -21.5 0.4 20.1 0.4 -19.2 0.4 11.5 0.4 -18.8 0.4 19.2 0.4 -22.2 0.4 22.3 0.4 -14.2 0.4 17.9 0.4 -16.1 0.4 22.4 0.4 -21.9 0.4 17.3 0.4 -16.9 0.4 12.0 0.4 -18.3 0.4 18.5 0.4 -19.1 0.4 17.8 0.4 -13.0 0.4 17.3 0.4 -16.2 0.4 22.6 0.4 -21.3 0.4 19.9 0.4 -20.9 0.4 12.6 0.4 -18.9 0.4 18.6 0.4 -19.8 0.4 19.4 0.4 -13.2 0.4 16.4 0.4 -13.8 0.4 23.4 0.4 -25.2 0.4 21.5 0.4 -21.5 0.4 15.4 0.4 -22.4 0.4 20.0 0.4 -22.6 0.4 22.9 0.4 -16.6 0.4 18.6 0.4 -14.1 0.4 20.9 0.4 -21.1 0.4 19.7 0.4 -20.0 0.4 14.5 0.4 -20.3 0.4 18.6 0.4 -21.5 0.4 22.3 0.4 -17.6 0.4 18.8 0.4 -14.7 0.4 22.3 0.4 -20.6 0.4 22.0 0.4 -24.2 0.4 14.5 0.4 -15.4 0.4 14.6 0.4 -19.5 0.4 20.7 0.4 -19.5 0.4 16.8 0.4 -11.5 0.4 20.6 0.4 -20.1 0.4 21.5 0.4 -21.2 0.4 14.6 0.4 -19.3 0.4 16.9 0.4 -18.4 0.4 18.6 0.4 -18.3 0.4 19.2 0.4 -14.5 0.4 17.6 0.4 -17.9 0.4 17.9 0.4 -18.7 0.4 16.4 0.4 -17.2 0.4 14.2 0.4 -18.8 0.4 18.6 0.4 -16.7 0.4 17.5 0.4 -12.9 0.4 17.2 0.4 -16.4 0.4 19.5 0.4 -19.4 0.4 15.8 0.4 -19.5 0.4 17.3 0.4 -22.7 0.4 21.7 0.4 -21.3 0.4 20.5 0.4 -12.7 0.4 17.9 0.4 -17.8 0.4 22.0 0.4 -20.3 0.4 15.3 0.4 -15.1 0.4 10.5 0.4 -19.0 0.4 19.6 0.4 -20.7 0.4 21.8 0.4 -15.3 0.4 17.1 0.4 -15.9 0.4 22.1 0.4 -22.3 0.4 19.1 0.4 -18.5 0.4 13.1 0.4 -22.0 0.4 20.8 0.4 -20.1 0.4 20.9 0.4 -15.6 0.4 20.5 0.4 -17.6 0.4 21.9 0.4 -21.3 0.4 20.1 0.4 -21.7 0.4 14.5 0.4 -19.2 0.4 19.3 0.4 -23.1 0.4 22.3 0.4 -17.9 0.4 18.1 0.4 -11.4 0.4 19.2 0.4 -21.7 0.4 20.8 0.4 -18.5 0.4 12.4 0.4 -18.4 0.4 18.2 0.4 -21.7 0.4 21.1 0.4 -18.5 0.4 17.5 0.4 -11.8 0.4 17.9 0.4 -17.8 0.4 18.9 0.4 -19.8 0.4 15.8 0.4 -18.7 0.4 15.9 0.4 -20.7 0.4 21.7 0.4 -19.1 0.4 19.7 0.4 -14.1 0.4 20.3 0.4 -20.4 0.4 22.1 0.4 -21.8 0.4 14.5 0.4 -17.3 0.4 16.6 0.4 -20.2 0.4 20.3 0.4 -17.5 0.4 15.4 0.4 -11.4 0.4 18.8 0.4 -19.5 0.4 18.3 0.4 -17.5 0.4 16.1 0.4 -21.3 0.4 19.4 0.4 -25.2 0.4 22.6 0.4 -18.8 0.4 18.8 0.4 -11.8 0.4 20.0 0.4 -19.7 0.4 20.4 0.4 -22.0 0.4 15.1 0.4 -16.7 0.4 14.6 0.4 -17.8 0.4 20.2 0.4 -18.3 0.4 18.0 0.4 -13.8 0.4 19.1 0.4 -20.3 0.4 22.1 0.4 -20.9 0.4 14.1 0.4 -19.6 0.4 18.5 0.4 -21.0 0.4 20.0 0.4 -18.2 0.4 20.1 0.4 -14.4 0.4 20.4 0.4 -20.0 0.4 18.2 0.4 -19.0 0.4 11.9 0.4 -15.8 0.4 18.5 0.4 -18.9 0.4 18.3 0.4 -16.7 0.4 17.4 0.4 -11.7 0.4 20.1 0.4 -21.8 0.4 19.5 0.4 -18.5 0.4 11.0 0.4 -16.4 0.4 16.7 0.4 -18.9 0.4 18.1 0.4 -14.6 0.4 17.4 0.4 -15.4 0.4 20.3 0.4 -21.1 0.4 21.9 0.4 -19.2 0.4 11.8 0.4 -21.2 0.4 20.2 0.4 -19.4 0.4 21.1 0.4 -16.9 0.4 18.3 0.4 -14.8 0.4 20.0 0.4 -20.4 0.4 16.3 0.4 -15.1 0.4 10.8 0.4 -19.7 0.4 21.3 0.4 -20.3 0.4 19.1 0.4 -11.4 0.4 17.4 0.4 -18.3 0.4 20.9 0.4 -21.2 0.4 16.6 0.4 -22.3 0.4 18.6 0.4 -22.5 0.4 22.7 0.4 -20.3 0.4 21.7 0.4 -14.3 0.4 21.0 0.4 -20.2 0.4 21.7 0.4 -24.0 0.4 14.9 0.4 -18.7 0.4 18.0 0.4 -21.4 0.4 22.5 0.4 -19.4 0.4 18.8 0.4 -12.8 0.4 17.3 0.4 -16.5 0.4 17.4 0.4 -18.6 0.4 13.0 0.4 -17.5 0.4 16.2 0.4 -21.7 0.4 22.1 0.4 -14.8 0.4 18.7 0.4 -17.1 0.4 21.3 0.4 -20.7 0.4 18.0 0.4 -18.1 0.4 13.7 0.4 -18.7 0.4 18.5 0.4 -21.0 0.4 20.4 0.4 -14.7 0.4 16.5 0.4 -14.0 0.4 19.4 0.4 -18.9 0.4 16.1 0.4 -16.7 0.4 13.3 0.4 -19.2 0.4 18.4 0.4 -18.9 0.4 18.2 0.4 -11.1 0.4 16.2 0.4 -17.4 0.4 19.5 0.4 -19.2 0.4 16.1 0.4 -17.8 0.4 15.0 0.4 -20.6 0.4 20.5 0.4 -19.7 0.4 21.1 0.4 -15.5 0.4 19.7 0.4 -18.6 0.4 20.7 0.4 -22.0 0.4 18.2 0.4 -19.4 0.4 15.7 0.4 -22.5 0.4 22.9 0.4 -20.0 0.4 19.7 0.4 -15.7 0.4 20.7 0.4 -18.6 0.4 20.0 0.4 -19.2 0.4 15.8 0.4 -20.6 0.4 18.2 0.4 -21.7 0.4 22.7 0.4 -19.9 0.4 17.7 0.4 -13.7 0.4 18.9 0.4 -17.8 0.4 17.2 0.4 -18.3 0.4 14.1 0.4 -16.1 0.4 16.8 0.4 -20.6 0.4 19.6 0.4 -16.1 0.4 17.2 0.4 -12.9 0.4 20.9 0.4 -21.2 0.4 19.0 0.4 -18.4 0.4 12.4 0.4 -16.2 0.4 15.1 0.4 -20.2 0.4 21.5 0.4 -17.4 0.4 17.2 0.4 -14.5 0.4 17.4 0.4 -16.6 0.4 19.1 0.4 -19.7 0.4 13.7 0.4 -17.9 0.4 17.1 0.4 -18.8 0.4 18.3 0.4 -15.1 0.4 16.7 0.4 -12.8 0.4 17.5 0.4 -17.8 0.4 16.9 0.4 -17.0 0.4 13.8 0.4 -20.7 0.4 19.8 0.4 -21.7 0.4 23.1 0.4 -20.5 0.4 18.6 0.4 -11.7 0.4 20.9 0.4 -23.1 0.4 22.4 0.4 -22.0 0.4 13.1 0.4 -18.4 0.4 16.9 0.4 -20.0 0.4 20.9 0.4 -15.3 0.4 16.2 0.4 -11.8 0.4 18.6 0.4 -20.8 0.4 19.7 0.4 -18.5 0.4 13.3 0.4 -18.3 0.4 18.2 0.4 -21.7 0.4 21.8 0.4 -19.3 0.4 17.0 0.4 -12.4 0.4 18.3 0.4 -16.7 0.4 18.5 0.4 -19.1 0.4 14.9 0.4 -20.4 0.4 18.7 0.4 -24.1 0.4 24.0 0.4 -17.5 0.4 18.8 0.4 -14.1 0.4 17.7 0.4 -17.8 0.4 18.8 0.4 -19.3 0.4 14.9 0.4 -18.6 0.4 18.8 0.4 -23.6 0.4 23.4 0.4 -20.4 0.4 19.3 0.4 -12.1 0.4 17.6 0.4 -19.4 0.4 20.3 0.4 -18.8 0.4 13.3 0.4 -17.3 0.4 16.2 0.4 -20.7 0.4 19.8 0.4 -17.1 0.4 19.1 0.4 -14.9 0.4 21.5 0.4 -19.9 0.4 19.8 0.4 -20.7 0.4 14.8 0.4 -16.1 0.4 14.8 0.4 -18.9 0.4 17.9 0.4 -16.9 0.4 18.4 0.4 -13.5 0.4 21.1 0.4 -20.7 0.4 21.5 0.4 -21.5 0.4 14.8 0.4 -19.6 0.4 15.5 0.4 -22.2 0.4 25.6 0.4 -22.3 0.4 20.5 0.4 -14.3 0.4 23.2 0.4 -22.8 0.4 23.4 0.4 -23.2 0.4 15.3 0.4 -19.9 0.4 18.0 0.4 -22.0 0.4 23.6 0.4 -20.3 0.4 17.8 0.4 -12.3 0.4 19.4 0.4 -19.0 0.4 19.7 0.4 -18.5 0.4 13.3 0.4 -19.0 0.4 17.5 0.4 -20.8 0.4 20.2 0.4 -15.5 0.4 18.1 0.4 -13.2 0.4 21.6 0.4 -24.1 0.4 23.5 0.4 -23.5 0.4 15.1 0.4 -20.0 0.4 19.7 0.4 -23.5 0.4 23.3 0.4 -19.6 0.4 18.1 0.4 -12.2 0.4 18.9 0.4 -20.2 0.4 21.0 0.4 -21.3 0.4 16.3 0.4 -17.7 0.4 15.0 0.4 -18.9 0.4 19.2 0.4 -14.5 0.4 15.2 0.4 -13.2 0.4 19.3 0.4 -17.9 0.4 18.9 0.4 -20.8 0.4 15.3 0.4 -17.9 0.4 16.7 0.4 -18.8 0.4 18.2 0.4 -16.8 0.4 17.0 0.4 -12.7 0.4 17.3 0.4 -16.2 0.4 17.9 0.4 -18.9 0.4 12.8 0.4 -18.0 0.4 16.5 0.4 -23.5 0.4 25.2 0.4 -22.1 0.4 22.5 0.4 -12.8 0.4 17.3 0.4 -19.4 0.4 20.2 0.4 -20.0 0.4 14.3 0.4 -15.3 0.4 15.2 0.4 -18.6 0.4 17.0 0.4 -15.7 0.4 17.1 0.4 -12.9 0.4 19.2 0.4 -18.9 0.4 21.4 0.4 -23.1 0.4 16.3 0.4 -17.5 0.4 14.2 0.4 -17.5 0.4 18.8 0.4 -18.0 0.4 17.2 0.4 -11.9 0.4 20.6 0.4 -21.9 0.4 22.5 0.4 -23.0 0.4 15.4 0.4 -19.5 0.4 17.6 0.4 -20.5 0.4 21.7 0.4 -21.0 0.4 20.6 0.4 -14.5 0.4 20.7 0.4 -18.8 0.4 22.1 0.4 -22.7 0.4 16.9 0.4 -20.4 0.4 15.2 0.4 -18.2 0.4 20.5 0.4 -18.7 0.4 18.4 0.4 -12.7 0.4 18.9 0.4 -18.3 0.4 21.5 0.4 -22.4 0.4 13.7 0.4 -18.4 0.4 17.7 0.4 -23.1 0.4 21.5 0.4 -19.0 0.4 19.9 0.4 -13.8 0.4 20.1 0.4 -20.8 0.4 23.8 0.4 -22.0 0.4 18.3 0.4 -20.2 0.4 12.8 0.4 -21.1 0.4 22.9 0.4 -23.0 0.4 22.6 0.4 -11.1 0.4 17.2 0.4 -19.9 0.4 22.1 0.4 -22.0 0.4 17.0 0.4 -16.9 0.4 14.0 0.4 -20.4 0.4 19.6 0.4 -16.7 0.4 16.9 0.4 -14.4 0.4 19.8 0.4 -19.1 0.4 24.5 0.4 -23.2 0.4 20.1 0.4 -18.9 0.4 10.1 0.4 -16.9 0.4 19.2 0.4 -21.0 0.4 21.6 0.4 -14.3 0.4 15.9 0.4 -15.4 0.4 21.8 0.4 -22.2 0.4 18.4 0.4 -19.3 0.4 12.9 0.4 -19.7 0.4 20.0 0.4 -22.1 0.4 19.8 0.4 -13.0 0.4 17.7 0.4 -15.6 0.4 21.3 0.4 -19.8 0.4 16.0 0.4 -17.7 0.4 13.2 0.4 -18.5 0.4 18.7 0.4 -19.0 0.4 20.3 0.4 -15.5 0.4 17.7 0.4 -17.0 0.4 21.1 0.4 -18.8 0.4 16.7 0.4 -18.6 0.4 13.1 0.4 -20.5 0.4 20.5 0.4 -23.5 0.4 24.4 0.4 -17.0 0.4 19.2 0.4 -16.7 0.4 23.9 0.4 -23.4 0.4 19.5 0.4 -20.0 0.4 12.8 0.4 -19.4 0.4 20.2 0.4 -22.8 0.4 23.9 0.4 -19.8 0.4 20.8 0.4 -14.6 0.4 19.0 0.4 -17.9 0.4 16.4 0.4 -18.2 0.4 12.4 0.4 -16.2 0.4 17.4 0.4 -20.1 0.4 20.6 0.4 -15.8 0.4 16.5 0.4 -14.3 0.4 20.8 0.4 -20.6 0.4 22.8 0.4 -24.6 0.4 14.0 0.4 -18.6 0.4 18.1 0.4 -20.7 0.4 20.3 0.4 -15.6 0.4 16.6 0.4 -14.1 0.4 23.5 0.4 -22.5 0.4 20.4 0.4 -20.4 0.4 13.0 0.4 -16.2 0.4 16.8 0.4 -21.0 0.4 20.9 0.4 -17.0 0.4 17.7 0.4 -14.0 0.4 20.2 0.4 -21.1 0.4 21.1 0.4 -20.7 0.4 14.1 0.4 -18.9 0.4 19.3 0.4 -22.0 0.4 21.5 0.4 -16.7 0.4 17.8 0.4 -15.3 0.4 18.9 0.4 -19.7 0.4 20.1 0.4 -18.6 0.4 13.2 0.4 -16.3 0.4 16.1 0.4 -19.4 0.4 18.5 0.4 -14.9 0.4 18.6 0.4 -15.5 0.4 18.9 0.4 -18.1 0.4 18.7 0.4 -19.9 0.4 11.2 0.4 -18.9 0.4 19.3 0.4 -22.0 0.4 22.7 0.4 -14.6 0.4 20.0 0.4 -17.7 0.4 22.5 0.4 -22.1 0.4 19.8 0.4 -22.0 0.4 14.0 0.4 -18.6 0.4 20.5 0.4 -21.6 0.4 20.6 0.4 -15.1 0.4 20.0 0.4 -19.2 0.4 22.4 0.4 -21.3 0.4 18.2 0.4 -18.6 0.4 12.0 0.4 -20.3 0.4 22.8 0.4 -21.6 0.4 19.9 0.4 -13.6 0.4 17.2 0.4 -16.9 0.4 20.5 0.4 -20.2 0.4 16.5 0.4 -15.5 0.4 12.2 0.4 -19.2 0.4 18.3 0.4 -19.9 0.4 20.2 0.4 -12.3 0.4 19.9 0.4 -20.4 0.4 23.6 0.4 -23.5 0.4 18.6 0.4 -18.9 0.4 14.4 0.4 -20.1 0.4 21.1 0.4 -21.1 0.4 18.2 0.4 -12.0 0.4 20.6 0.4 -20.6 0.4 21.0 0.4 -20.7 0.4 15.9 0.4 -18.7 0.4 16.7 0.4 -22.8 0.4 22.3 0.4 -20.5 0.4 20.9 0.4 -14.8 0.4 20.8 0.4 -19.5 0.4 23.1 0.4 -24.1 0.4 13.7 0.4 -15.1 0.4 14.6 0.4 -16.0 0.4 15.4 0.4 -15.1 0.4 16.1 0.4 -12.8 0.4 22.2 0.4 -21.6 0.4 19.9 0.4 -19.8 0.4 13.0 0.4 -19.6 0.4 20.1 0.4 -21.0 0.4 17.8 0.4 -15.1 0.4 18.0 0.4 -12.1 0.4 22.1 0.4 -24.3 0.4 19.5 0.4 -18.3 0.4 12.8 0.4 -19.7 0.4 18.7 0.4 -19.3 0.4 20.0 0.4 -14.7 0.4 18.3 0.4 -17.3 0.4 21.0 0.4 -21.1 0.4 17.4 0.4 -18.7 0.4 14.5 0.4 -20.6 0.4 21.9 0.4 -21.1 0.4 19.2 0.4 -11.7 0.4 15.6 0.4 -16.7 0.4 20.0 0.4 -20.1 0.4 16.2 0.4 -19.2 0.4 17.0 0.4 -21.6 0.4 22.2 0.4 -19.4 0.4 18.0 0.4 -12.9 0.4 22.1 0.4 -22.5 0.4 22.6 0.4 -21.1 0.4 15.6 0.4 -19.9 0.4 16.6 0.4 -21.1 0.4 21.5 0.4 -18.0 0.4 16.4 0.4 -12.0 0.4 20.6 0.4 -19.6 0.4 21.4 0.4 -21.6 0.4 13.0 0.4 -17.6 0.4 16.0 0.4 -19.3 0.4 19.8 0.4 -17.1 0.4 18.3 0.4 -13.3 0.4 19.4 0.4 -19.3 0.4 18.3 0.4 -18.5 0.4 12.9 0.4 -18.1 0.4 19.4 0.4 -21.7 0.4 19.6 0.4 -17.8 0.4 19.9 0.4 -12.8 0.4 16.1 0.4 -19.6 0.4 19.2 0.4 -17.4 0.4 13.8 0.4 -17.5 0.4 15.2 0.4 -18.6 0.4 19.7 0.4 -14.8 0.4 15.5 0.4 -13.8 0.4 21.2 0.4 -20.5 0.4 20.3 0.4 -20.4 0.4 13.4 0.4 -20.3 0.4 20.2 0.4 -24.5 0.4 23.9 0.4 -17.2 0.4 17.6 0.4 -13.3 0.4 22.8 0.4 -21.2 0.4 20.7 0.4 -22.6 0.4 14.7 0.4 -19.3 0.4 18.2 0.4 -23.0 0.4 23.0 0.4 -19.0 0.4 17.6 0.4 -11.1 0.4 17.7 0.4 -16.7 0.4 17.8 0.4 -18.5 0.4 13.5 0.4 -15.5 0.4 13.2 0.4 -16.2 0.4 18.5 0.4 -18.4 0.4 15.5 0.4 -11.8 0.4 22.6 0.4 -21.1 0.4 20.7 0.4 -22.5 0.4 17.3 0.4 -18.9 0.4 14.4 0.4 -17.0 0.4 19.1 0.4 -17.9 0.4 16.7 0.4 -13.0 0.4 18.2 0.4 -15.9 0.4 19.2 0.4 -21.5 0.4 15.9 0.4 -16.0 0.4 11.6 0.4 -18.9 0.4 19.3 0.4 -17.4 0.4 19.5 0.4 -15.4 0.4 22.0 0.4 -20.2 0.4 23.0 0.4 -23.6 0.4 16.7 0.4 -17.5 0.4 12.2 0.4 -19.1 0.4 18.9 0.4 -19.9 0.4 22.3 0.4 -12.1 0.4 16.7 0.4 -19.8 0.4 20.7 0.4 -16.5 0.4 14.6 0.4 -16.1 0.4 13.0 0.4 -23.2 0.4 24.6 0.4 -23.6 0.4 20.7 0.4 -13.9 0.4 18.9 0.4 -17.2 0.4 21.6 0.4 -21.1 0.4 18.2 0.4 -19.3 0.4 13.4 0.4 -21.6 0.4 23.5 0.4 -25.8 0.4 25.1 0.4 -15.7 0.4 18.9 0.4 -16.4 0.4 21.6 0.4 -21.7 0.4 16.8 0.4 -17.2 0.4 11.6 0.4 -15.1 0.4 14.4 0.4 -18.8 0.4 19.6 0.4 -12.4 0.4 16.5 0.4 -16.6 0.4 23.2 0.4 -22.1 0.4 17.8 0.4 -18.3 0.4 12.7 0.4 -17.3 0.4 18.2 0.4 -19.0 0.4 18.1 0.4 -15.5 0.4 17.1 0.4 -14.5 0.4 23.7 0.4 -23.6 0.4 21.0 0.4 -20.6 0.4 12.9 0.4 -21.7 0.4 20.4 0.4 -22.2 0.4 24.2 0.4 -16.9 0.4 18.1 0.4 -15.2 0.4 22.1 0.4 -23.1 0.4 23.5 0.4 -21.0 0.4 11.1 0.4 -19.4 0.4 20.0 0.4 -19.7 0.4 19.1 0.4 -15.8 0.4 16.8 0.4 -13.3 0.4 20.4 0.4 -19.6 0.4 19.9 0.4 -21.1 0.4 12.2 0.4 -17.6 0.4 19.5 0.4 -22.6 0.4 22.3 0.4 -19.5 0.4 19.5 0.4 -13.6 0.4 18.0 0.4 -19.0 0.4 19.2 0.4 -17.5 0.4 12.6 0.4 -16.4 0.4 17.5 0.4 -22.9 0.4 22.5 0.4 -19.4 0.4 18.1 0.4 -13.1 0.4 16.9 0.4 -17.2 0.4 20.3 0.4 -21.1 0.4 14.2 0.4 -14.3 0.4 13.3 0.4 -17.8 0.4 19.6 0.4 -19.5 0.4 18.1 0.4 -10.8 0.4 19.0 0.4 -20.4 0.4 22.1 0.4 -22.6 0.4 18.8 0.4 -20.4 0.4 15.5 0.4 -18.0 0.4 18.6 0.4 -18.4 0.4 17.9 0.4 -11.6 0.4 15.6 0.4 -17.1 0.4 18.6 0.4 -20.1 0.4 17.0 0.4 -17.2 0.4 13.4 0.4 -20.3 0.4 21.6 0.4 -22.6 0.4 23.6 0.4 -15.7 0.4 19.7 0.4 -18.9 0.4 20.0 0.4 -19.1 0.4 16.5 0.4 -17.5 0.4 14.5 0.4 -20.5 0.4 19.8 0.4 -21.2 0.4 19.6 0.4 -13.5 0.4 17.7 0.4 -15.0 0.4 21.9 0.4 -23.3 0.4 19.6 0.4 -18.3 0.4 13.1 0.4 -21.0 0.4 20.3 0.4 -19.7 0.4 17.8 0.4 -12.6 0.4 15.6 0.4 -14.7 0.4 18.1 0.4 -17.8 0.4 17.3 0.4 -16.0 0.4 11.4 0.4 -19.4 0.4 19.4 0.4 -17.8 0.4 19.1 0.4 -15.6 0.4 15.4 0.4 -12.9 0.4 19.3 0.4 -20.1 0.4 16.2 0.4 -15.8 0.4 13.0 0.4 -18.1 0.4 18.7 0.4 -21.0 0.4 21.4 0.4 -18.6 0.4 17.1 0.4 -14.0 0.4 21.7 0.4 -20.8 0.4 21.9 0.4 -22.4 0.4 13.2 0.4 -16.1 0.4 16.9 0.4 -18.1 0.4 18.2 0.4 -18.6 0.4 17.5 0.4 -13.5 0.4 21.1 0.4 -18.4 0.4 16.9 0.4 -16.8 0.4 14.3 0.4 -18.2 0.4 15.1 0.4 -21.0 0.4 21.8 0.4 -18.0 0.4 17.1 0.4 -12.5 0.4 18.2 0.4 -18.2 0.4 18.1 0.4 -19.9 0.4 16.7 0.4 -17.5 0.4 15.3 0.4 -17.7 0.4 17.0 0.4 -16.2 0.4 16.6 0.4 -12.3 0.4 21.2 0.4 -23.3 0.4 21.3 0.4 -18.0 0.4 12.7 0.4 -18.9 0.4 19.1 0.4 -22.8 0.4 20.9 0.4 -17.3 0.4 18.3 0.4 -14.7 0.4 22.2 0.4 -20.4 0.4 20.2 0.4 -21.9 0.4 15.3 0.4 -17.4 0.4 15.9 0.4 -18.2 0.4 18.6 0.4 -17.7 0.4 17.8 0.4 -12.9 0.4 19.6 0.4 -20.9 0.4 22.0 0.4 -21.9 0.4 15.3 0.4 -21.7 0.4 21.0 0.4 -23.8 0.4 21.8 0.4 -17.9 0.4 22.0 0.4 -16.0 0.4 19.0 0.4 -20.7 0.4 20.5 0.4 -18.6 0.4 11.9 0.4 -18.7 0.4 20.1 0.4 -21.5 0.4 21.3 0.4 -16.6 0.4 17.6 0.4 -13.6 0.4 18.2 0.4 -19.0 0.4 16.7 0.4 -17.6 0.4 12.7 0.4 -20.4 0.4 22.7 0.4 -23.4 0.4 23.7 0.4 -15.0 0.4 18.0 0.4 -17.0 0.4 21.9 0.4 -22.9 0.4 19.9 0.4 -20.1 0.4 15.2 0.4 -23.6 0.4 22.1 0.4 -19.1 0.4 18.4 0.4 -10.6 0.4 15.4 0.4 -16.5 0.4 20.6 0.4 -20.8 0.4 14.4 0.4 -15.8 0.4 15.9 0.4 -23.2 0.4 21.5 0.4 -17.7 0.4 16.5 0.4 -11.8 0.4 20.3 0.4 -18.9 0.4 21.6 0.4 -23.5 0.4 15.9 0.4 -18.4 0.4 17.9 0.4 -21.2 0.4 20.2 0.4 -19.4 0.4 18.7 0.4 -13.4 0.4 23.1 0.4 -23.5 0.4 24.9 0.4 -22.6 0.4 13.1 0.4 -18.2 0.4 15.7 0.4 -15.7 0.4 15.9 0.4 -16.9 0.4 18.8 0.4 -12.2 0.4 15.7 0.4 -17.3 0.4 20.4 0.4 -20.9 0.4 12.9 0.4 -17.4 0.4 18.0 0.4 -21.2 0.4 22.1 0.4 -18.9 0.4 17.4 0.4 -11.8 0.4 19.2 0.4 -19.0 0.4 19.4 0.4 -19.1 0.4 11.1 0.4 -17.9 0.4 20.4 0.4 -23.5 0.4 23.2 0.4 -19.1 0.4 16.9 0.4 -12.0 0.4 21.8 0.4 -21.5 0.4 20.2 0.4 -19.4 0.4 12.1 0.4 -16.6 0.4 14.0 0.4 -18.0 0.4 19.8 0.4 -15.5 0.4 16.6 0.4 -12.7 0.4 20.7 0.4 -23.0 0.4 21.8 0.4 -20.3 0.4 13.1 0.4 -18.3 0.4 18.1 0.4 -21.1 0.4 21.6 0.4 -18.9 0.4 17.9 0.4 -12.0 0.4 21.3 0.4 -22.7 0.4 24.4 0.4 -22.4 0.4 12.4 0.4 -17.0 0.4 15.9 0.4 -22.3 0.4 25.1 0.4 -22.1 0.4 21.3 0.4 -14.2 0.4 19.0 0.4 -20.3 0.4 21.7 0.4 -19.8 0.4 15.1 0.4 -19.9 0.4 16.2 0.4 -19.6 0.4 20.9 0.4 -18.4 0.4 17.1 0.4 -10.8 0.4 18.7 0.4 -20.9 0.4 20.7 0.4 -20.5 0.4 17.2 0.4 -19.6 0.4 16.6 0.4 -18.2 0.4 18.2 0.4 -20.4 0.4 20.9 0.4 -12.2 0.4 16.7 0.4 -19.4 0.4 20.1 0.4 -16.6 0.4 14.5 0.4 -17.9 0.4 13.6 0.4 -19.4 0.4 18.2 0.4 -18.0 0.4 19.7 0.4 -13.8 0.4 15.9 0.4 -14.8 0.4 18.5 0.4 -17.7 0.4 14.7 0.4 -17.3 0.4 15.6 0.4 -18.9 0.4 18.5 0.4 -17.8 0.4 18.3 0.4 -13.5 0.4 16.2 0.4 -17.3 0.4 23.3 0.4 -22.7 0.4 19.3 0.4 -19.2 0.4 13.7 0.4 -21.7 0.4 19.6 0.4 -20.6 0.4 20.0 0.4 -13.0 0.4 18.5 0.4 -17.1 0.4 22.6 0.4 -20.9 0.4 17.6 0.4 -18.4 0.4 13.7 0.4 -23.3 0.4 23.2 0.4 -22.0 0.4 20.2 0.4 -13.7 0.4 18.4 0.4 -17.5 0.4 22.3 0.4 -22.0 0.4 19.2 0.4 -18.0 0.4 10.9 0.4 -16.0 0.4 16.7 0.4 -18.3 0.4 19.0 0.4 -12.8 0.4 16.8 0.4 -16.8 0.4 19.7 0.4 -19.0 0.4 16.7 0.4 -17.8 0.4 13.9 0.4 -21.5 0.4 19.2 0.4 -19.5 0.4 21.5 0.4 -13.8 0.4 19.1 0.4 -20.6 0.4 25.6 0.4 -23.6 0.4 16.8 0.4 -18.8 0.4 15.7 0.4 -22.6 0.4 20.5 0.4 -19.5 0.4 20.8 0.4 -13.9 0.4 20.4 0.4 -19.7 0.4 21.4 0.4 -20.0 0.4 15.9 0.4 -19.2 0.4 15.4 0.4 -20.6 0.4 18.7 0.4 -16.9 0.4 16.8 0.4 -10.1 0.4 17.0 0.4 -17.4 0.4 18.9 0.4 -19.0 0.4 13.8 0.4 -17.7 0.4 16.6 0.4 -22.8 0.4 21.9 0.4 -22.0 0.4 21.7 0.4 -13.7 0.4 18.9 0.4 -17.3 0.4 18.7 0.4 -19.4 0.4 14.5 0.4 -18.2 0.4 16.5 0.4 -22.4 0.4 22.2 0.4 -20.2 0.4 22.3 0.4 -15.2 0.4 21.6 0.4 -22.4 0.4 24.4 0.4 -21.6 0.4 15.1 0.4 -19.3 0.4 15.3 0.4 -18.2 0.4 20.6 0.4 -19.1 0.4 18.1 0.4 -15.5 0.4 22.8 0.4 -19.7 0.4 19.6 0.4 -20.2 0.4 14.9 0.4 -19.7 0.4 17.4 0.4 -23.6 0.4 23.7 0.4 -20.3 0.4 20.0 0.4 -12.6 0.4 20.5 0.4 -21.3 0.4 21.0 0.4 -19.8 0.4 12.9 0.4 -17.7 0.4 16.9 0.4 -18.2 0.4 17.5 0.4 -14.8 0.4 15.9 0.4 -12.7 0.4 18.6 0.4 -20.3 0.4 19.5 0.4 -18.9 0.4 15.2 0.4 -16.4 0.4 14.5 0.4 -17.8 0.4 19.1 0.4 -17.3 0.4 18.0 0.4 -15.2 0.4 21.4 0.4 -20.9 0.4 20.9 0.4 -21.3 0.4 16.3 0.4 -18.6 0.4 14.4 0.4 -20.4 0.4 21.0 0.4 -19.0 0.4 19.7 0.4 -11.3 0.4 17.8 0.4 -18.0 0.4 18.3 0.4 -19.2 0.4 14.9 0.4 -19.0 0.4 17.8 0.4 -23.8 0.4 23.6 0.4 -20.5 0.4 19.1 0.4 -13.4 0.4 18.7 0.4 -17.5 0.4 20.6 0.4 -21.3 0.4 15.9 0.4 -17.4 0.4 15.7 0.4 -18.5 0.4 19.7 0.4 -19.4 0.4 17.8 0.4 -12.5 0.4 19.3 0.4 -21.1 0.4 24.0 0.4 -21.1 0.4 14.4 0.4 -18.6 0.4 16.3 0.4 -22.1 0.4 21.3 0.4 -20.0 0.4 20.4 0.4 -13.6 0.4 19.4 0.4 -19.2 0.4 22.2 0.4 -21.8 0.4 17.2 0.4 -18.7 0.4 14.6 0.4 -20.4 0.4 20.3 0.4 -18.8 0.4 16.7 0.4 -10.1 0.4 19.0 0.4 -18.8 0.4 22.7 0.4 -24.6 0.4 15.8 0.4 -18.3 0.4 14.5 0.4 -19.6 0.4 20.6 0.4 -18.0 0.4 17.8 0.4 -13.8 0.4 18.5 0.4 -18.0 0.4 18.6 0.4 -17.6 0.4 14.9 0.4 -16.3 0.4 14.3 0.4 -19.0 0.4 18.3 0.4 -17.8 0.4 20.0 0.4 -14.7 0.4 19.1 0.4 -18.2 0.4 17.1 0.4 -16.6 0.4 13.5 0.4 -19.2 0.4 18.8 0.4 -23.1 0.4 21.1 0.4 -16.2 0.4 17.1 0.4 -13.5 0.4 17.9 0.4 -17.1 0.4 19.9 0.4 -21.0 0.4 15.2 0.4 -20.5 0.4 19.3 0.4 -22.0 0.4 23.1 0.4 -18.1 0.4 18.1 0.4 -13.2 0.4 20.3 0.4 -21.8 0.4 21.0 0.4 -20.1 0.4 12.6 0.4 -16.1 0.4 15.4 0.4 -20.5 0.4 23.0 0.4 -17.0 0.4 18.6 0.4 -15.5 0.4 17.8 0.4 -19.2 0.4 16.8 0.4 -16.0 0.4 12.2 0.4 -18.6 0.4 18.9 0.4 -19.4 0.4 19.8 0.4 -15.6 0.4 18.2 0.4 -15.8 0.4 18.9 0.4 -19.2 0.4 17.2 0.4 -16.0 0.4 11.6 0.4 -18.8 0.4 20.4 0.4 -20.1 0.4 19.3 0.4 -15.0 0.4 17.9 0.4 -15.7 0.4 20.6 0.4 -21.2 0.4 18.1 0.4 -18.2 0.4 13.5 0.4 -22.1 0.4 21.0 0.4 -21.6 0.4 22.3 0.4 -12.7 0.4 15.7 0.4 -17.2 0.4 24.1 0.4 -23.7 0.4 18.5 0.4 -18.0 0.4 12.3 0.4 -15.9 0.4 14.8 0.4 -15.4 0.4 18.5 0.4 -13.3 0.4 17.2 0.4 -16.2 0.4 22.4 0.4 -24.9 0.4 18.8 0.4 -18.3 0.4 14.1 0.4 -20.5 0.4 20.0 0.4 -20.8 0.4 21.6 0.4 -14.0 0.4 17.2 0.4 -17.4 0.4 23.1 0.4 -22.7 0.4 17.9 0.4 -18.0 0.4 13.1 0.4 -17.3 0.4 17.1 0.4 -17.7 0.4 17.6 0.4 -12.6 0.4 16.8 0.4 -18.2 0.4 21.8 0.4 -22.5 0.4 19.0 0.4 -16.9 0.4 12.9 0.4 -20.2 0.4 21.5 0.4 -21.1 0.4 19.0 0.4 -13.5 0.4 17.9 0.4 -17.0 0.4 21.2 0.4 -21.3 0.4 18.6 0.4 -19.3 0.4 13.4 0.4 -20.5 0.4 20.8 0.4 -23.8 0.4 25.7 0.4 -15.8 0.4 18.1 0.4 -15.9 0.4 20.5 0.4 -20.4 0.4 17.6 0.4 -18.0 0.4 11.2 0.4 -18.2 0.4 20.0 0.4 -18.5 0.4 16.6 0.4 -13.9 0.4 19.1 0.4 -16.9 0.4 21.1 0.4 -21.2 0.4 19.9 0.4 -19.6 0.4 12.5 0.4 -19.2 0.4 18.4 0.4 -19.1 0.4 20.1 0.4 -15.0 0.4 16.6 0.4 -15.3" fill="none" stroke="#0072BD" stroke-width="2.0" stroke-linejoin="round"/>
<rect x="1230.9" y="1460.4" width="455.7" height="372.8" fill="#d3dbbb" fill-opacity="0.25"/>
<line x1="1230.9" y1="1833.2" x2="1230.9" y2="1460.4" stroke="#000" stroke-width="5" stroke-dasharray="30.20 21.50" stroke-dashoffset="27.10" stroke-linecap="round"/><line x1="1230.9" y1="1460.4" x2="1686.6" y2="1460.4" stroke="#000" stroke-width="5" stroke-dasharray="30.20 21.50" stroke-dashoffset="38.20" stroke-linecap="round"/><line x1="1686.6" y1="1460.4" x2="1686.6" y2="1833.2" stroke="#000" stroke-width="5" stroke-dasharray="30.20 21.50" stroke-dashoffset="28.80" stroke-linecap="round"/><line x1="1230.9" y1="1833.2" x2="1686.6" y2="1833.2" stroke="#000" stroke-width="5" stroke-dasharray="30.20 21.50" stroke-dashoffset="51.30" stroke-linecap="round"/>
<line x1="1296.3" y1="1582" x2="1459" y2="1582" stroke="#0072BF" stroke-width="8.2" stroke-linecap="round"/>
<line x1="1296.3" y1="1743.9" x2="1459" y2="1743.9" stroke="#CC3300" stroke-width="8.2" stroke-linecap="round"/>
<g id="legb">
<text transform="translate(1487.37 1602.80) scale(1.0018 1)" font-family="Liberation Serif, Times New Roman, serif" font-style="italic" font-size="94.5" fill="#000">R</text>
<text transform="translate(1548.03 1602.80) scale(0.9454 1)" font-family="Liberation Serif, Times New Roman, serif" font-weight="bold" font-size="59.5" fill="#000">I</text>
<text transform="translate(1477.46 1773.70) scale(0.9789 1)" font-family="Liberation Serif, Times New Roman, serif" font-style="italic" font-size="95" fill="#000">R</text>
<text transform="translate(1536.97 1773.70) scale(0.9358 1)" font-family="Liberation Serif, Times New Roman, serif" font-weight="bold" font-size="59" fill="#000">II</text>
</g>
<g id="xlb"><text transform="translate(844.05 2340.90) scale(0.9997 1)" font-family="Liberation Serif, Times New Roman, serif" font-size="87.5" fill="#000">Time</text><text transform="translate(1048.44 2340.90) scale(0.9285 1)" font-family="Liberation Serif, Times New Roman, serif" font-size="87.5" fill="#000">(s)</text></g>
<g id="pb"><text transform="translate(864.14 2470.20) scale(0.9211 1)" font-family="Liberation Serif, Times New Roman, serif" font-size="86" fill="#000">(</text><text transform="translate(890.92 2470.20) scale(1.0674 1)" font-family="Liberation Serif, Times New Roman, serif" font-weight="bold" font-size="86" fill="#000">b</text><text transform="translate(942.40 2470.20) scale(0.9302 1)" font-family="Liberation Serif, Times New Roman, serif" font-size="86" fill="#000">)</text></g>
<g id="ylb" transform="translate(140.8 2304.3) rotate(-90)"><text transform="translate(-2.69 0.00) scale(1.0553 1)" font-family="Liberation Serif, Times New Roman, serif" font-size="85" fill="#000">Harmonic terms ratio</text><text transform="translate(785.99 0.00) scale(0.9689 1)" font-family="Liberation Serif, Times New Roman, serif" font-size="85" fill="#000">(</text><text transform="translate(809.44 7.70) scale(0.8444 0.8691)" font-family="Liberation Serif, Times New Roman, serif" font-size="100" fill="#000">×</text><text transform="translate(857.75 0.00) scale(0.9087 1)" font-family="Liberation Serif, Times New Roman, serif" font-size="85" fill="#000">10</text><text transform="translate(936.17 -36.70) scale(0.9942 1)" font-family="Liberation Serif, Times New Roman, serif" font-size="48.9" fill="#000">−3</text><text transform="translate(1009.85 0.00) scale(1.0000 1)" font-family="Liberation Serif, Times New Roman, serif" font-size="85" fill="#000">)</text></g>
</svg></body></html>
